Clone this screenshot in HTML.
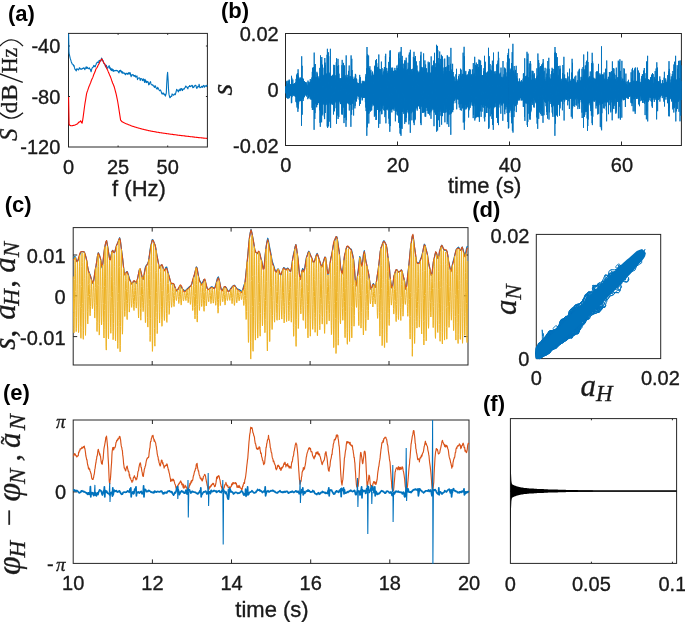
<!DOCTYPE html>
<html><head><meta charset="utf-8"><title>figure</title>
<style>
html,body{margin:0;padding:0;background:#fff;}
body{width:685px;height:628px;overflow:hidden;font-family:"Liberation Sans",sans-serif;}
svg{display:block;}
</style></head>
<body>
<svg width="685" height="628" viewBox="0 0 685 628">
<rect x="0" y="0" width="685" height="628" fill="#fff"/>
<defs><clipPath id="cpa"><rect x="67.9" y="32.8" width="140.1" height="114.8"/></clipPath><clipPath id="cpb"><rect x="284.9" y="32.9" width="397.1" height="113.2"/></clipPath><clipPath id="cpc"><rect x="72.6" y="227" width="396" height="138.6"/></clipPath><clipPath id="cpd"><rect x="535.7" y="233.8" width="125.6" height="125.4"/></clipPath><clipPath id="cpe"><rect x="72.6" y="419.4" width="397" height="144.6"/></clipPath><clipPath id="cpf"><rect x="509.8" y="418" width="167.4" height="146"/></clipPath></defs>
<rect x="68.5" y="33.4" width="138.9" height="113.6" fill="none" stroke="#262626" stroke-width="1.0"/>
<path d="M118.1 147v-1.5M118.1 33.4v1.5M167.7 147v-1.5M167.7 33.4v1.5M68.5 46h1.5M207.4 46h-1.5M68.5 96.5h1.5M207.4 96.5h-1.5" stroke="#262626" stroke-width="1.0" fill="none"/>
<g clip-path="url(#cpa)">
<path d="M68.6 33.7L69 52.9L69.5 55.1L70 57.3L70.4 58.9L70.9 60.4L71.3 61.9L71.8 63L72.2 64.1L72.7 64.3L73.1 64.5L73.6 66L74 65.4L74.5 67.7L74.9 69.2L75.4 69.5L75.8 70.3L76.3 70.9L76.7 68.8L77.2 69.2L77.6 69L78.1 69.7L78.5 69.9L79 69.1L79.4 67.7L79.9 68.2L80.3 68.9L80.8 69.3L81.2 68.9L81.7 69.3L82.1 69L82.6 68.3L83 68.5L83.5 68.2L83.9 67.7L84.4 68.5L84.8 69.7L85.3 68.3L85.7 68L86.2 66.7L86.6 68.5L87.1 67.3L87.5 67.4L88 68.4L88.4 68.6L88.9 68.6L89.3 67.8L89.8 69L90.2 69L90.7 70.5L91.1 71.8L91.6 69.7L92 68.3L92.5 67.4L92.9 67.4L93.4 66.5L93.8 65.4L94.3 66.6L94.7 65.9L95.2 66.8L95.6 65.2L96.1 64.5L96.5 62.9L97 62.7L97.4 62L97.9 62.4L98.3 62.8L98.8 61.5L99.2 60.2L99.7 61.2L100.1 60.6L100.6 61L101 60.8L101.5 58.1L101.9 58.6L102.4 60.1L102.8 60.8L103.3 60.9L103.7 63.1L104.2 63.8L104.6 64.1L105.1 65L105.5 66.6L106 66.6L106.4 65.2L106.9 68.1L107.3 67.8L107.8 68.2L108.2 66.7L108.7 66.7L109.1 65.6L109.6 68.3L110 67.2L110.5 69.6L110.9 69.2L111.4 70.6L111.8 68.6L112.3 69.3L112.7 70.9L113.2 69.6L113.6 71.4L114.1 71.1L114.5 70.5L115 70.8L115.4 70.4L115.9 70.8L116.3 70.6L116.8 70.3L117.2 71L117.7 70.9L118.1 71.3L118.6 72.4L119 72.8L119.5 70.6L119.9 71.3L120.4 70.3L120.8 70.4L121.3 72.3L121.7 71.4L122.2 73.3L122.6 71.8L123.1 73.1L123.5 73L124 72.9L124.4 73.7L124.9 73.1L125.3 74.7L125.8 74.7L126.2 73.3L126.7 73.5L127.1 73.4L127.6 74.3L128 73.3L128.5 74L128.9 72.5L129.4 74.1L129.8 72.8L130.3 72.9L130.7 75.3L131.2 76.7L131.6 74.9L132.1 74.9L132.5 74.8L133 74.5L133.4 76L133.9 75.4L134.3 75.6L134.8 76.4L135.2 75.3L135.7 77.1L136.1 77L136.6 76.5L137 75.9L137.5 79.6L137.9 78.4L138.4 78.2L138.8 77.8L139.3 77.9L139.7 78.1L140.2 80.5L140.6 78.9L141.1 78.5L141.5 78.9L142 79L142.4 80.6L142.9 80.4L143.3 78.9L143.8 79.2L144.2 81L144.7 82.5L145.1 79.4L145.6 82L146 80.7L146.5 82.6L146.9 81.5L147.4 82.2L147.8 81.4L148.3 82.4L148.7 84.9L149.2 84.6L149.6 83.2L150.1 82.2L150.5 81.6L151 83.9L151.4 84.8L151.9 84.8L152.3 85.1L152.8 84.8L153.2 85.9L153.7 85.9L154.1 86.8L154.6 87.3L155 85.7L155.5 86L155.9 87.6L156.4 88.2L156.8 88.9L157.3 89.1L157.7 87.2L158.2 88.4L158.6 89L159.1 90L159.5 90.6L160 90.6L160.4 89.9L160.9 90.8L161.3 92L161.8 93.7L162.2 93.9L162.7 93.1L163.1 94L163.6 93.1L164 94.3L164.5 94.8L164.9 94.2L165.4 96.2L165.8 94.9L166.3 93L166.7 84L167.2 75.6L167.6 72.2L168.1 79.7L168.5 88.9L169 94.4L169.4 96L169.9 97.8L170.3 97.6L170.8 96.5L171.2 96L171.7 96.4L172.1 93.9L172.6 94.8L173 94.8L173.5 95.2L173.9 95L174.4 93.9L174.8 94.1L175.3 94.6L175.7 93.2L176.2 91.5L176.6 89.4L177.1 90L177.5 90.1L178 91.3L178.4 91.9L178.9 89.9L179.3 90.7L179.8 89.9L180.2 88.7L180.7 90.7L181.1 88.8L181.6 88.6L182 89.1L182.5 90.6L182.9 89.1L183.4 88.8L183.8 89.3L184.3 89.1L184.7 87.9L185.2 87.5L185.6 86.1L186.1 86.3L186.5 87.1L187 87.3L187.4 88.1L187.9 88.8L188.3 86.7L188.8 86.8L189.2 86.5L189.7 85.6L190.1 86.5L190.6 86.6L191 85.9L191.5 86.1L191.9 85.3L192.4 85.5L192.8 87.8L193.3 87.3L193.7 87.5L194.2 86L194.6 86.2L195.1 85.2L195.5 85.3L196 85.5L196.4 87.6L196.9 88.4L197.3 87.6L197.8 86.4L198.2 86.5L198.7 86.8L199.1 84.2L199.6 86.7L200 87.7L200.5 87.5L200.9 87.5L201.4 86.5L201.8 86.3L202.3 87.1L202.7 87.4L203.2 85.7L203.6 85.4L204.1 85.9L204.5 87.2L205 86.1L205.4 85.9L205.9 85.8L206.3 86.6L206.8 85.2L207.2 85.9" fill="none" stroke="#0072BD" stroke-width="1.1" stroke-linejoin="round"/>
<path d="M68.6 97L69.1 124.2L69.6 125L70.1 125.5L70.6 125.6L71.1 125.7L71.6 125.7L72.1 125.7L72.6 125.6L73.1 125.5L73.6 125.4L74.1 125.3L74.6 125.2L75.1 125L75.6 124.8L76.1 124.6L76.6 124.3L77.1 124.1L77.6 123.7L78.1 123L78.6 122.5L79.1 122L79.6 121.9L80.1 121.8L80.6 120.8L81.1 121.4L81.6 122.7L82.1 123.1L82.6 120.6L83.1 117.4L83.6 113.6L84.1 109.7L84.6 106L85.1 102.6L85.6 99.8L86.1 96.7L86.6 93.6L87.1 91.9L87.6 90.7L88.1 89.2L88.6 87.6L89.1 86.3L89.6 85.2L90.1 83.9L90.6 82.7L91.1 81.3L91.6 79.9L92.1 78.8L92.6 77.9L93.1 76.6L93.6 75L94.1 73.8L94.6 72.7L95.1 71.6L95.6 70L96.1 68.7L96.6 68L97.1 67.6L97.6 66.6L98.1 65.3L98.6 64.4L99.1 63.7L99.6 62.4L100.1 61.3L100.6 60.6L101.1 59.8L101.6 59.1L102.1 59.1L102.6 60.5L103.1 61.6L103.6 62.4L104.1 63.1L104.6 63.7L105.1 64.8L105.6 66L106.1 67.2L106.6 68.3L107.1 69.2L107.6 70.1L108.1 71.4L108.6 72.6L109.1 73.7L109.6 74.9L110.1 76L110.6 77.2L111.1 78.7L111.6 80.2L112.1 81.5L112.6 83L113.1 84.1L113.6 85.2L114.1 86.5L114.6 88.2L115.1 90.1L115.6 92L116.1 93.8L116.6 96.2L117.1 98.6L117.6 101L118.1 104L118.6 107.2L119.1 110.3L119.6 113.6L120.1 116.9L120.6 120.2L121.1 120.7L121.6 121.3L122.1 121.7L122.6 122.1L123.1 122.3L123.6 122.5L124.1 122.8L124.6 123L125.1 123.3L125.6 123.5L126.1 123.7L126.6 123.9L127.1 124.1L127.6 124.3L128.1 124.5L128.6 124.7L129.1 124.9L129.6 125.1L130.1 125.3L130.6 125.5L131.1 125.7L131.6 125.9L132.1 126.1L132.6 126.2L133.1 126.4L133.6 126.5L134.1 126.7L134.6 126.9L135.1 127L135.6 127.2L136.1 127.3L136.6 127.5L137.1 127.7L137.6 127.8L138.1 127.9L138.6 128.1L139.1 128.2L139.6 128.3L140.1 128.5L140.6 128.6L141.1 128.7L141.6 128.9L142.1 129L142.6 129.2L143.1 129.3L143.6 129.4L144.1 129.5L144.6 129.7L145.1 129.8L145.6 129.9L146.1 130L146.6 130.1L147.1 130.2L147.6 130.3L148.1 130.5L148.6 130.6L149.1 130.7L149.6 130.8L150.1 130.9L150.6 131L151.1 131.1L151.6 131.2L152.1 131.3L152.6 131.4L153.1 131.5L153.6 131.5L154.1 131.6L154.6 131.7L155.1 131.8L155.6 131.9L156.1 132L156.6 132.1L157.1 132.2L157.6 132.3L158.1 132.3L158.6 132.4L159.1 132.5L159.6 132.6L160.1 132.7L160.6 132.7L161.1 132.8L161.6 132.9L162.1 133L162.6 133L163.1 133.1L163.6 133.2L164.1 133.2L164.6 133.3L165.1 133.4L165.6 133.5L166.1 133.5L166.6 133.6L167.1 133.7L167.6 133.8L168.1 133.8L168.6 133.9L169.1 134L169.6 134L170.1 134.1L170.6 134.2L171.1 134.2L171.6 134.3L172.1 134.4L172.6 134.4L173.1 134.5L173.6 134.6L174.1 134.6L174.6 134.7L175.1 134.8L175.6 134.8L176.1 134.9L176.6 135L177.1 135L177.6 135.1L178.1 135.2L178.6 135.2L179.1 135.3L179.6 135.4L180.1 135.4L180.6 135.5L181.1 135.5L181.6 135.6L182.1 135.6L182.6 135.7L183.1 135.8L183.6 135.8L184.1 135.9L184.6 135.9L185.1 136L185.6 136.1L186.1 136.1L186.6 136.2L187.1 136.2L187.6 136.3L188.1 136.4L188.6 136.4L189.1 136.5L189.6 136.5L190.1 136.6L190.6 136.7L191.1 136.7L191.6 136.8L192.1 136.8L192.6 136.9L193.1 136.9L193.6 137L194.1 137.1L194.6 137.1L195.1 137.2L195.6 137.2L196.1 137.3L196.6 137.4L197.1 137.4L197.6 137.5L198.1 137.5L198.6 137.6L199.1 137.6L199.6 137.7L200.1 137.7L200.6 137.8L201.1 137.8L201.6 137.9L202.1 137.9L202.6 138L203.1 138L203.6 138.1L204.1 138.1L204.6 138.2L205.1 138.2L205.6 138.3L206.1 138.3L206.6 138.4L207.1 138.4" fill="none" stroke="#FF0000" stroke-width="1.1" stroke-linejoin="round"/>
</g>
<rect x="285.5" y="33.5" width="395.9" height="112" fill="none" stroke="#262626" stroke-width="1.0"/>
<path d="M397.5 145.5v-4M397.5 33.5v4M509.5 145.5v-4M509.5 33.5v4M621.5 145.5v-4M621.5 33.5v4M285.5 89.5h4M681.4 89.5h-4" stroke="#262626" stroke-width="1.0" fill="none"/>
<g clip-path="url(#cpb)">
<path d="M285.6 86.3L285.8 93.4L285.9 86.8L286.1 92.7L286.3 86.1L286.4 97.7L286.6 81.4L286.7 93.1L286.9 85.3L287 96.4L287.2 80.7L287.4 98.1L287.5 83.6L287.7 98.6L287.9 84.8L288 94.9L288.2 86.3L288.4 94.5L288.6 80.7L288.7 98.5L288.9 83.8L289 96.7L289.2 79.6L289.4 97.9L289.5 80.6L289.7 96.6L289.9 84.7L290 94.8L290.2 84.4L290.4 95.4L290.5 85.8L290.7 95.7L290.9 84L291 95.7L291.2 84.2L291.4 103.2L291.5 75.8L291.7 102.8L291.8 77.8L292 97.1L292.2 84.3L292.4 95.3L292.5 84.3L292.7 95.1L292.8 79.5L293 95.4L293.2 84.9L293.3 94.4L293.5 83.8L293.7 95.7L293.8 84.1L294 94.4L294.1 85.4L294.3 96.2L294.5 83.2L294.7 95L294.8 83.7L295 94.5L295.1 84L295.3 96.5L295.5 83.9L295.6 97L295.8 82.1L296 102.1L296.1 78.9L296.3 101.1L296.5 75.2L296.6 102.5L296.8 82.4L297 107.5L297.1 74L297.3 105.3L297.4 73.1L297.6 102.9L297.8 73.4L297.9 111.8L298.1 69.3L298.3 108.6L298.4 75.8L298.6 104.3L298.8 77.9L298.9 102.1L299.1 79.6L299.3 99.9L299.4 79.2L299.6 100.9L299.8 81.2L299.9 99.9L300.1 77.4L300.2 100.8L300.4 77.9L300.6 99L300.7 78.7L300.9 101.1L301.1 80.4L301.2 101.1L301.4 79.6L301.5 125.8L301.7 56.3L301.9 99.1L302.1 65.8L302.2 114.7L302.4 79.5L302.5 98.3L302.7 78L302.9 98.8L303.1 80.4L303.2 100.9L303.4 78.9L303.5 99L303.7 83L303.9 97.6L304 81.6L304.2 96.9L304.4 81.1L304.5 96.7L304.7 82.7L304.8 95.6L305 83.7L305.2 95.5L305.4 82.1L305.5 94.4L305.7 82.5L305.8 94.2L306 85.3L306.2 94L306.3 82.4L306.5 96.5L306.7 84.6L306.8 93.9L307 84.6L307.2 94.7L307.3 85.8L307.5 94.3L307.6 85.9L307.8 99.2L308 80.6L308.1 95L308.3 81.9L308.5 98.1L308.6 85.6L308.8 97.8L309 82.4L309.1 95.2L309.3 84.9L309.4 95.7L309.6 83.5L309.8 96.7L310 81.8L310.1 99.1L310.3 79.1L310.4 97.1L310.6 82L310.8 98.4L310.9 81.7L311.1 99.9L311.3 81.9L311.4 98.9L311.6 79.9L311.7 99.2L311.9 77.5L312.1 107.8L312.3 71.8L312.4 110L312.6 67.7L312.8 100.5L312.9 75.9L313.1 104.5L313.3 78.4L313.4 100.8L313.6 67.2L313.7 109.8L313.9 69.6L314.1 129.8L314.2 52.6L314.4 105L314.6 75L314.8 119L314.9 64.2L315 113.1L315.2 64L315.4 104.1L315.6 77L315.7 102.5L315.9 77.3L316 99.4L316.2 79.7L316.4 107L316.6 77L316.7 107.3L316.9 71.8L317 104.8L317.2 73.3L317.4 105L317.5 74.9L317.7 104.6L317.9 78L318 103.1L318.2 76.4L318.4 103L318.5 79.9L318.7 99.8L318.9 78.6L319 101.4L319.2 78.9L319.3 102.9L319.5 78.8L319.7 110.3L319.8 67.9L320 122.8L320.2 75.8L320.3 126.8L320.5 55.4L320.6 113.3L320.8 74.9L321 103L321.2 76.5L321.3 101.6L321.5 60.5L321.6 122.3L321.8 57L322 115.6L322.1 75.5L322.3 104.2L322.5 64.7L322.7 114.5L322.8 74.6L323 102.8L323.1 78.2L323.3 100.7L323.5 75.4L323.6 104.5L323.8 76.5L323.9 102.1L324.1 67.7L324.3 116.6L324.5 63.1L324.6 119.1L324.8 58L324.9 104.6L325.1 62.6L325.3 113L325.4 65.3L325.6 105.4L325.8 73.3L325.9 101.8L326.1 78L326.3 104.7L326.4 73.7L326.6 101.6L326.8 74.8L326.9 102.8L327.1 54.8L327.2 126.5L327.4 48.8L327.6 127.9L327.8 76.5L327.9 103.8L328.1 77.5L328.2 103.3L328.4 52.3L328.6 126.4L328.7 56.2L328.9 103.1L329.1 74.3L329.2 121.7L329.4 74.9L329.5 101.5L329.7 72.7L329.9 102.4L330.1 76.3L330.2 104.3L330.4 48.8L330.6 127.9L330.7 75.9L330.9 104.7L331.1 76L331.2 102.6L331.4 76.4L331.5 103L331.7 77.2L331.9 104L332 76.2L332.2 102.8L332.3 75.3L332.5 104.7L332.7 75.9L332.9 101.9L333 74.7L333.2 100.5L333.3 75.6L333.5 114.5L333.7 64.8L333.8 103.9L334 76.7L334.2 104.4L334.3 68L334.5 111.3L334.7 65.1L334.8 103.2L335 79.8L335.2 102.1L335.3 75.3L335.5 100.6L335.7 79.6L335.8 100.9L336 78.5L336.1 108.2L336.3 62.3L336.5 123.8L336.6 58.2L336.8 102.4L337 79.6L337.1 99.8L337.3 75.5L337.5 101.1L337.6 66L337.8 115.6L338 58.9L338.1 119L338.3 72L338.4 111.1L338.6 65.2L338.8 117L339 73.7L339.1 100.2L339.3 78.9L339.5 101.4L339.6 78.9L339.7 100.8L339.9 78L340.1 102.5L340.3 80.2L340.4 104.1L340.6 78.3L340.8 103.8L340.9 80.3L341.1 99.6L341.2 79.7L341.4 103.9L341.6 78.1L341.7 114.4L341.9 65.2L342.1 112.6L342.2 59.9L342.4 114.6L342.6 77.5L342.7 103.7L342.9 79.3L343.1 104.7L343.2 77.2L343.4 101.9L343.5 62.9L343.7 107.6L343.9 75.7L344 123.1L344.2 68.8L344.4 118L344.6 65.4L344.7 104.8L344.9 76.3L345 102.5L345.2 75.2L345.4 117.4L345.5 78.5L345.7 105.6L345.9 79.3L346 126.8L346.2 55.4L346.3 120.2L346.5 76.9L346.7 103.2L346.9 77.4L347 103.6L347.2 74.8L347.4 100.7L347.5 78.6L347.7 102.8L347.8 77.9L348 101.2L348.2 77.5L348.3 103L348.5 70.9L348.7 104.2L348.8 76L349 101.2L349.2 65.5L349.3 110.5L349.5 79.2L349.7 104.4L349.8 78.7L350 103.1L350.1 76.4L350.3 104.4L350.5 76.4L350.6 104.8L350.8 79.5L350.9 126.8L351.1 55.4L351.3 102.8L351.5 64L351.6 114.7L351.8 58.8L351.9 109.8L352.1 70L352.3 103.3L352.4 77.8L352.6 103.7L352.8 76.7L353 101.5L353.1 78.9L353.3 99.9L353.5 79.5L353.6 115.5L353.8 79.6L353.9 99L354.1 79.5L354.3 98.4L354.4 78.3L354.6 99.7L354.8 81.9L354.9 108.4L355.1 76.6L355.2 105.8L355.4 73.9L355.6 101L355.7 74.7L355.9 98.2L356.1 82.5L356.2 97.7L356.4 78.5L356.5 101.5L356.7 79.3L356.9 98.7L357.1 83.3L357.2 95.9L357.4 82.6L357.6 95.4L357.7 84.3L357.9 95.5L358.1 83L358.2 96.7L358.4 83.6L358.5 95.5L358.7 83.4L358.9 96.7L359 84.3L359.2 99.7L359.4 79.3L359.5 105.8L359.7 74.9L359.9 101.4L360 84.2L360.2 95.9L360.4 77.2L360.5 103.8L360.7 84.2L360.8 95.2L361 83.1L361.2 97.6L361.4 84.4L361.5 96.9L361.7 84.3L361.8 96.9L362 83.9L362.2 100.4L362.3 80.8L362.5 99.4L362.6 82.8L362.8 96.5L363 82.5L363.1 97.7L363.4 82L363.5 97.5L363.7 81.2L363.8 97.8L364 80.8L364.2 97.5L364.3 82.3L364.5 97.6L364.6 81.9L364.8 96.7L364.9 84.6L365.1 95.9L365.3 83.1L365.4 102.2L365.6 76.7L365.8 107.5L366 74.3L366.1 111.1L366.3 73.9L366.5 110.6L366.6 68.3L366.8 135.8L367 47L367.1 109.2L367.3 55.8L367.4 127.3L367.6 54.3L367.8 112.8L367.9 72L368.1 108.7L368.3 71.9L368.4 114L368.6 55.5L368.8 123.5L368.9 68L369.1 113.4L369.2 68L369.4 110.4L369.6 71.1L369.8 109.9L369.9 66.2L370.1 109.8L370.2 70.9L370.4 111.6L370.6 74.6L370.7 104.8L370.9 69.8L371 110.6L371.2 75.6L371.4 103.6L371.6 76.4L371.7 110.3L371.9 75.8L372 106.4L372.2 72.6L372.4 102.6L372.6 71.5L372.7 104L372.9 73.6L373.1 104.7L373.2 75L373.4 105.1L373.5 77.1L373.7 105.4L373.9 75.1L374 105.2L374.2 75.6L374.4 116.7L374.5 66.7L374.7 114.5L374.8 65.7L375 109.7L375.2 71.5L375.3 113.6L375.5 60.6L375.7 115.7L375.9 60.3L376 120L376.2 65.2L376.3 119.7L376.5 59L376.7 108.6L376.8 63.2L377 107.4L377.2 73.1L377.3 110L377.5 67.2L377.6 105.8L377.8 71.4L378 108L378.1 73.8L378.3 109.9L378.5 66.6L378.6 127.8L378.8 54.5L379 112.2L379.2 72.4L379.3 112.2L379.5 68.8L379.6 109.9L379.8 73.3L379.9 123.8L380.1 74.2L380.3 111.2L380.4 69.2L380.6 104.8L380.8 71.7L380.9 105.4L381.1 70.4L381.3 107.6L381.4 61.6L381.6 114.2L381.8 72.5L381.9 114.1L382.1 68.1L382.3 108.7L382.5 74.7L382.6 105.5L382.8 75.4L382.9 103.9L383.1 76.3L383.3 104.5L383.4 75.7L383.6 105.6L383.7 71.4L383.9 110.1L384.1 69.2L384.2 110.4L384.4 67.1L384.6 110.8L384.7 67.5L384.9 117.1L385.1 74.1L385.2 105.3L385.4 56L385.5 114.6L385.7 53.8L385.9 123.3L386.1 73.9L386.2 109.9L386.4 73.8L386.6 109.3L386.7 67.9L386.9 107L387 70.9L387.2 104.8L387.4 74.8L387.5 109.1L387.7 72.8L387.9 110.3L388 73.7L388.2 106.1L388.4 68.6L388.5 107.4L388.7 61.9L388.8 118.6L389 68.4L389.2 123.9L389.3 64.6L389.5 119.8L389.6 57.1L389.8 131.8L390 50.7L390.2 126.1L390.3 50.4L390.5 110.4L390.6 72.1L390.8 106.9L391 71.1L391.2 106.8L391.3 67.7L391.5 110.1L391.6 73.8L391.8 112.4L392 69.6L392.1 108.7L392.3 73.4L392.5 108.6L392.6 67.6L392.8 109.3L393 71.4L393.1 109.3L393.3 70.8L393.5 109.2L393.6 73.6L393.8 105.6L393.9 75L394.1 110.8L394.3 75L394.4 106.5L394.6 70.5L394.8 108.5L394.9 67.9L395.1 106.5L395.3 73.7L395.4 121.3L395.6 70.4L395.8 107.7L395.9 70.5L396.1 111.2L396.3 71.2L396.4 111.4L396.6 73.4L396.8 110.8L396.9 65.6L397.1 114.5L397.2 68L397.4 115.4L397.6 70.6L397.7 109.7L397.9 68.4L398.1 111.9L398.2 64.7L398.4 111.7L398.6 53.9L398.7 122.8L398.9 52.4L399.1 116.3L399.2 69.5L399.4 122.1L399.5 70L399.7 127.9L399.9 58.3L400.1 133.4L400.2 51.7L400.4 134.1L400.5 64L400.7 109.6L400.9 67L401 135.8L401.2 47L401.4 112L401.5 68.4L401.7 127.8L401.9 60L402 129L402.2 55.9L402.4 112L402.5 66.9L402.7 110.2L402.8 69.4L403 108.2L403.2 63.7L403.3 107.8L403.5 71L403.7 113.8L403.8 68.4L404 111.6L404.2 70.1L404.3 108.2L404.5 61.8L404.7 123.9L404.8 60.2L405 112.6L405.1 71L405.3 113.9L405.5 65.8L405.6 121.6L405.8 60.6L406 122.2L406.2 57.7L406.3 117.8L406.5 70L406.6 111.4L406.8 74.1L407 109.4L407.1 71.1L407.3 108.3L407.5 70.3L407.6 110L407.8 68.9L407.9 112.3L408.1 62.7L408.3 113.4L408.4 68.8L408.6 107.8L408.8 67.6L408.9 124.4L409.1 54.7L409.3 120.5L409.4 52.5L409.6 119.4L409.8 68.3L409.9 109.5L410.1 69.4L410.3 132.8L410.4 49.8L410.6 106.4L410.7 70.6L410.9 111.1L411.1 71.9L411.2 113.3L411.4 69.5L411.6 109.1L411.7 73.2L411.9 120.3L412.1 69L412.2 108L412.4 73.6L412.6 110.3L412.7 71.6L412.9 112.3L413 68.6L413.2 111.2L413.4 56.9L413.6 122.6L413.7 59.1L413.9 109.8L414 51.8L414.2 125.1L414.4 72.8L414.6 105.9L414.7 57.8L414.9 120.2L415 58.6L415.2 119.2L415.4 56L415.5 107.6L415.7 73.8L415.9 109.3L416 74L416.2 107.9L416.4 61.4L416.5 106.9L416.7 70.2L416.8 105.3L417 65.5L417.2 110.6L417.3 76.3L417.5 108.7L417.7 70.7L417.8 104.8L418 72.7L418.2 103.7L418.3 72.6L418.5 106.1L418.7 73.8L418.8 106.3L419 71.5L419.1 103.2L419.3 74L419.5 106.5L419.7 72L419.8 108.7L420 61L420.1 109L420.3 70L420.5 123.1L420.6 55.5L420.8 106.9L421 51.8L421.1 125.1L421.3 67.2L421.5 105.3L421.6 66.9L421.8 105.5L422 73.6L422.1 107L422.3 71.9L422.5 112.3L422.6 67.4L422.8 113L422.9 71L423.1 105.6L423.3 69.1L423.4 112.6L423.6 53.4L423.8 112L423.9 74.3L424.1 111.1L424.3 70.5L424.4 112.3L424.6 67.6L424.8 105.4L424.9 60.4L425.1 116.6L425.2 71.3L425.4 105.3L425.6 64.5L425.7 116.7L425.9 75L426.1 108L426.2 68.5L426.4 104.8L426.6 68.4L426.7 107.7L426.9 74L427.1 111L427.2 72.3L427.4 107L427.6 73.2L427.7 110L427.9 75L428.1 113.5L428.2 61.7L428.4 113.7L428.6 63.2L428.7 112.8L428.9 71.7L429 109.9L429.2 63.9L429.4 113.4L429.5 62.4L429.7 115.3L429.8 73.4L430 105.9L430.2 72.6L430.3 110L430.5 73.8L430.7 112.4L430.8 72.9L431 118.8L431.2 56.4L431.3 108.5L431.5 71.1L431.7 111.2L431.8 66.5L432 108L432.2 66.8L432.3 108.8L432.5 69.8L432.7 107.6L432.8 65.2L433 110L433.2 66.6L433.3 107.2L433.5 60.7L433.6 109.2L433.8 68.2L434 126.2L434.2 70.5L434.3 112.4L434.5 52.8L434.6 109.3L434.8 67.4L435 109.7L435.1 70.3L435.3 112.7L435.4 67.2L435.6 114.3L435.8 63.3L435.9 115L436.1 68.1L436.3 113L436.5 44.8L436.6 131.7L436.8 64.6L436.9 122.6L437.1 46.1L437.3 125.2L437.4 45.9L437.6 130.5L437.8 50.2L437.9 110.4L438.1 62.5L438.3 110.5L438.4 70.4L438.6 120.2L438.8 58.1L438.9 112L439.1 63.6L439.3 111.7L439.4 64.1L439.6 127L439.7 51.5L439.9 108.8L440.1 65.3L440.2 111.7L440.4 66.4L440.6 109.4L440.7 58.9L440.9 115.7L441.1 72.1L441.2 109.5L441.4 54.8L441.6 124.7L441.7 55.9L441.9 108.2L442 59L442.2 116.2L442.4 56.4L442.5 116L442.7 59.2L442.9 109L443 71.2L443.2 106.1L443.4 73.8L443.5 111.4L443.7 74.4L443.9 112.9L444 67.5L444.2 112.8L444.3 68.4L444.5 105.1L444.7 58.6L444.9 122.3L445 73L445.2 105.7L445.4 67.1L445.5 112.5L445.7 68.1L445.8 107.5L446 67.2L446.2 112.3L446.3 71.2L446.5 106.9L446.7 72.5L446.8 109.5L447 66.4L447.2 124.2L447.3 55.3L447.5 121.6L447.6 56.1L447.8 116.5L448 67.1L448.1 109.8L448.3 66.9L448.5 114.4L448.6 65.1L448.8 126.9L449 56.9L449.1 109.9L449.3 71.1L449.5 109.8L449.6 71L449.8 114.6L450 71.7L450.1 109.1L450.3 65.2L450.4 114.2L450.6 63.8L450.8 134.8L450.9 47.9L451.1 113.7L451.3 70.7L451.4 112.8L451.6 73.4L451.8 106L451.9 69.4L452.1 110.5L452.3 70.6L452.4 108.3L452.6 63.8L452.7 112.2L452.9 76.2L453.1 110L453.2 72L453.4 103.2L453.6 77.3L453.8 103.3L453.9 76.3L454.1 100.6L454.2 77.3L454.4 100.7L454.6 83.2L454.7 98.2L454.9 81.4L455.1 99.6L455.2 81.4L455.4 98.2L455.6 81.8L455.7 98.1L455.9 74.3L456.1 103.2L456.2 78.9L456.4 100.3L456.5 68.8L456.7 109.3L456.9 78.9L457 97.6L457.2 80.4L457.4 98.9L457.5 81.3L457.7 98.3L457.8 82L458 99.8L458.2 81.4L458.4 99.2L458.5 76.1L458.7 99.3L458.9 80.2L459 104.3L459.2 74.2L459.3 107.6L459.5 79.8L459.7 102L459.8 78.5L460 102.1L460.2 77.8L460.3 110L460.5 68.7L460.7 104.2L460.8 73.6L461 102.7L461.2 69.7L461.3 110.7L461.5 76.2L461.6 103.8L461.8 76.5L462 103.9L462.1 75.3L462.3 108.2L462.5 73.9L462.6 108.3L462.8 76.3L463 104.4L463.1 52.7L463.3 122.5L463.5 75.7L463.6 107.2L463.8 74L463.9 105L464.1 46.8L464.3 129.8L464.4 56.3L464.6 121.4L464.8 72.9L464.9 109.4L465.1 75.7L465.3 104.9L465.4 72.5L465.6 103.4L465.8 70.9L465.9 109.4L466.1 74.7L466.3 107.7L466.4 75.5L466.6 108.5L466.7 76L466.9 102.1L467.1 77.3L467.2 104.6L467.4 77.8L467.6 107.3L467.7 74.5L467.9 104.5L468.1 74.9L468.2 103.4L468.4 73.8L468.6 117.5L468.7 71.7L468.9 110.4L469.1 71.4L469.2 109.3L469.4 69.1L469.6 100.7L469.7 74.3L469.9 101.7L470.1 76.5L470.2 107.8L470.4 69.6L470.5 103.7L470.7 78.9L470.9 105.6L471 78.4L471.2 101.8L471.4 75.1L471.5 102.3L471.7 74.2L471.9 101.9L472 77.2L472.2 104.5L472.4 69.4L472.5 105.7L472.7 77.2L472.8 103.8L473 76.4L473.2 118.1L473.3 63.1L473.5 114.8L473.7 74.6L473.8 101.9L474 76.9L474.2 102.9L474.3 73.3L474.5 103.5L474.7 56.8L474.8 120.5L475 76.5L475.1 106.2L475.3 77.1L475.5 118.3L475.6 64.8L475.8 104.6L476 76.8L476.2 105.3L476.3 62.6L476.5 117.4L476.6 66.1L476.8 103.8L477 75.3L477.1 102.6L477.3 76.4L477.5 116.5L477.6 64.1L477.8 117.1L477.9 68.9L478.1 105.1L478.3 76.7L478.5 116.6L478.6 67L478.7 111.8L478.9 59.5L479.1 117.4L479.3 69.7L479.4 121.8L479.6 60L479.8 105.6L479.9 77L480.1 102.5L480.3 75.8L480.4 111.4L480.6 60.6L480.7 103.1L480.9 75.4L481.1 116.9L481.3 65.1L481.4 104.9L481.6 75.5L481.7 104.5L481.9 75.9L482.1 111.7L482.2 76.3L482.4 107.2L482.6 75.1L482.7 102.1L482.9 75.6L483 101.4L483.2 76.1L483.4 105L483.6 71L483.7 107.7L483.9 68.2L484.1 103.5L484.2 77.1L484.3 118.4L484.5 55.8L484.7 121.4L484.9 61.5L485.1 116.9L485.2 62.2L485.4 103.3L485.5 73.4L485.7 106L485.9 72.9L486 102L486.2 72.5L486.4 113L486.5 76.4L486.7 105.8L486.9 77L487 113L487.2 72.9L487.3 107.1L487.5 71.6L487.7 104.4L487.8 76.2L488 108.1L488.2 76.7L488.3 104.4L488.5 47.8L488.7 128.9L488.8 57.1L489 127.7L489.2 56.1L489.3 108.4L489.5 71.7L489.6 108.5L489.8 75.2L490 104.9L490.1 64L490.3 116.3L490.4 69.5L490.6 107.5L490.8 75.4L491 103L491.1 72.6L491.3 106.6L491.5 70.5L491.6 114.1L491.8 71.2L491.9 118.9L492.1 65.4L492.3 114.3L492.4 60.7L492.6 125L492.8 63.5L492.9 103.3L493.1 75.5L493.3 129.8L493.5 52.6L493.6 108.7L493.8 74L493.9 103.8L494.1 74.9L494.2 107.4L494.4 74L494.6 106.7L494.7 71.8L494.9 107.2L495.1 71.1L495.3 103.3L495.4 74.9L495.6 102.9L495.7 73.5L495.9 106.7L496.1 75.3L496.2 102.9L496.4 74L496.5 117.8L496.7 64.4L496.9 105L497 71L497.2 104.8L497.4 72.6L497.5 122.8L497.7 63.4L497.9 119.4L498 60.6L498.2 122.4L498.4 51.8L498.5 125.1L498.7 57.8L498.9 107.5L499 76L499.2 104.5L499.4 74.4L499.5 102.7L499.7 75.5L499.8 103.2L500 73.4L500.2 101.8L500.4 72.7L500.5 102.4L500.7 76.7L500.8 113.7L501 67.6L501.2 105.4L501.3 78.6L501.5 103.5L501.7 76.9L501.8 103.8L502 77.4L502.2 105.5L502.3 78.1L502.5 104.7L502.7 77.9L502.8 120.8L503 61L503.1 103L503.3 76.7L503.5 103.4L503.6 79.1L503.8 100.4L504 74.3L504.1 101.5L504.3 77.5L504.5 111.9L504.6 67.6L504.8 114.2L505 68.2L505.1 102.3L505.3 77L505.4 105.8L505.6 69.1L505.8 109.4L505.9 76.6L506.1 107L506.3 77.4L506.4 104.8L506.6 76.7L506.8 102L507 72.4L507.1 113.1L507.3 62.3L507.4 107.6L507.6 55L507.8 122L507.9 70.9L508.1 103.9L508.2 53L508.4 128.5L508.6 48.8L508.7 127.9L508.9 74.8L509.1 108.6L509.3 58.6L509.4 103.6L509.6 72.5L509.7 112.6L509.9 75.3L510.1 102.8L510.2 68.6L510.4 107L510.6 72.4L510.7 110.6L510.9 70L511 108.8L511.2 76.9L511.4 117.1L511.5 63L511.7 123.3L511.9 65.6L512 119.6L512.2 52.1L512.4 130.7L512.5 72.4L512.7 104.7L512.9 43.8L513 132.6L513.2 71.8L513.4 104.4L513.5 70.5L513.7 103.7L513.8 72L514 117.1L514.2 66L514.3 110.7L514.5 73.9L514.6 105.2L514.8 76.8L515 105.6L515.2 70.5L515.3 106.2L515.5 69.9L515.7 104L515.8 76.1L516 101.4L516.2 65.8L516.3 112.1L516.5 76.1L516.7 99.7L516.8 79.3L517 104.8L517.1 73L517.3 103.3L517.5 78.5L517.6 100.3L517.8 81.2L518 99.5L518.1 81.5L518.3 100.6L518.5 81.8L518.6 99.3L518.8 82L519 98.5L519.1 82L519.3 96.8L519.4 78.5L519.6 100.4L519.8 81.5L520 98.3L520.1 81.7L520.3 97.2L520.4 82.4L520.6 98.1L520.8 82.8L520.9 98L521.1 81.6L521.2 100.5L521.4 80.1L521.6 100.2L521.8 83.1L521.9 96.6L522.1 82.7L522.3 99.3L522.4 81.5L522.6 100.4L522.7 82.1L522.9 98.1L523.1 78.6L523.3 106.8L523.4 73.7L523.6 106.2L523.7 73.3L523.9 107L524.1 79.5L524.2 103L524.4 78.2L524.5 116.8L524.7 58.3L524.9 120.9L525.1 78.4L525.2 102L525.4 76.6L525.5 102.7L525.7 76.2L525.9 103.6L526 78.2L526.2 100.1L526.4 75.6L526.5 103.4L526.7 76.4L526.9 102.9L527 51.8L527.2 125.1L527.4 59L527.5 127L527.7 67.4L527.8 121.9L528 53.6L528.2 113.7L528.4 78L528.5 100.5L528.7 77.2L528.8 103.7L529 78.2L529.2 104.8L529.3 63.5L529.5 117.5L529.7 71.9L529.8 119.4L530 78.8L530.2 119.6L530.3 61L530.5 115.9L530.7 63.7L530.8 112.2L531 70.7L531.1 110.6L531.3 79.8L531.5 98.8L531.6 80.6L531.8 101.7L532 79.9L532.2 105L532.3 74.7L532.5 101L532.6 70.8L532.8 103.4L533 71.1L533.1 98.2L533.3 79.5L533.4 97.6L533.6 79.7L533.8 106.8L533.9 74.6L534.1 107.7L534.3 73.3L534.4 100.3L534.6 78L534.8 99.3L535 80.9L535.1 98.7L535.3 78.4L535.4 102.4L535.6 81L535.8 100.2L535.9 80L536.1 103.4L536.3 79.9L536.4 99.5L536.6 76.6L536.7 117.4L536.9 68.3L537.1 123.7L537.2 78L537.4 102.2L537.6 75.5L537.7 128.8L537.9 53.5L538.1 111.3L538.2 76.2L538.4 109.9L538.6 60L538.7 118.8L538.9 62.9L539.1 103.3L539.2 67.3L539.4 112.5L539.6 74L539.7 99.7L539.9 77.8L540 110L540.2 72.1L540.4 107.7L540.5 66.1L540.7 113.9L540.9 67L541 101L541.2 76.8L541.3 115.6L541.5 65.5L541.7 111.2L541.9 64.2L542 102.7L542.2 77.5L542.3 100L542.5 65.5L542.7 115.9L542.8 62.8L543 122.8L543.2 59.1L543.3 98.9L543.5 81L543.7 99.7L543.8 71.7L544 115.2L544.2 70.8L544.3 100.3L544.5 80L544.7 101.8L544.8 79.1L545 98.6L545.1 67.8L545.3 102.5L545.5 81.1L545.6 102.5L545.8 81L546 106.2L546.2 77.3L546.3 102.3L546.4 80.7L546.6 111.9L546.8 73.5L547 115L547.1 68.6L547.3 108.8L547.5 71.5L547.6 118.6L547.8 61L547.9 100.9L548.1 79L548.3 101.4L548.4 80.8L548.6 98.4L548.8 57.8L549 119.6L549.1 68.8L549.3 112.4L549.4 77.4L549.6 98.5L549.8 80L549.9 99.8L550.1 79.3L550.2 101.9L550.4 79L550.6 99.4L550.7 78.6L550.9 104L551.1 74.1L551.2 103.7L551.4 75.2L551.6 106.4L551.7 71.2L551.9 107.2L552.1 67.8L552.2 112.6L552.4 79.3L552.5 114.2L552.7 69L552.9 116.9L553.1 68.9L553.2 101L553.4 73.8L553.5 105.5L553.7 73L553.9 103.8L554 73.1L554.2 106.5L554.4 74.9L554.5 116.6L554.7 52.9L554.9 135.8L555 47L555.2 113.2L555.4 51.9L555.5 123.7L555.7 55.4L555.8 106.8L556 73.3L556.2 102L556.4 53.2L556.5 115.4L556.7 74.1L556.8 101.1L557 63.4L557.2 101.4L557.3 57.2L557.5 116.6L557.7 78.9L557.8 104.6L558 77.1L558.2 104.9L558.3 75.5L558.5 99.9L558.7 66L558.8 103.4L559 79.2L559.2 102.2L559.3 75.1L559.5 115.7L559.6 69.5L559.8 106.4L560 65.7L560.1 108.4L560.3 68.7L560.4 100L560.6 78.8L560.8 101.8L560.9 79.3L561.1 101.3L561.3 81.3L561.4 100.4L561.6 81.2L561.8 101.3L561.9 79.4L562.1 98.4L562.3 78.3L562.4 110.3L562.6 73L562.8 104.3L562.9 65L563.1 100.2L563.3 77.9L563.4 98.4L563.6 78.7L563.8 99.6L563.9 56.8L564.1 120.5L564.3 78.2L564.4 101.7L564.6 74.5L564.7 101.2L564.9 81.5L565.1 97.6L565.2 81L565.4 98.4L565.6 79.5L565.7 99.2L565.9 78L566 99.8L566.2 79.4L566.4 99L566.6 80.7L566.7 99.6L566.9 82.1L567 99.9L567.2 82.6L567.4 96.6L567.6 72.5L567.7 105.3L567.9 82L568 98.2L568.2 82.7L568.4 98L568.6 81.7L568.7 101.2L568.9 76.5L569 98.5L569.2 82.1L569.4 109L569.5 68.7L569.7 97.3L569.8 79L570 98.9L570.2 81.8L570.4 98.6L570.5 81L570.7 97.8L570.8 80.6L571 98.4L571.2 80.9L571.3 116.7L571.5 72.6L571.7 98L571.8 81L572 99.1L572.1 58.8L572.3 118.6L572.5 62.8L572.6 108.4L572.8 79.9L573 100.9L573.2 78.8L573.3 106.2L573.5 78.9L573.6 98.9L573.8 79.4L574 99.2L574.1 79.7L574.3 99.8L574.5 82.4L574.7 106.7L574.8 76.7L575 105.1L575.1 80.9L575.3 99.4L575.4 83L575.6 98.6L575.8 75.6L575.9 96.4L576.1 82.3L576.3 98.2L576.4 83.2L576.6 105.5L576.8 83.4L576.9 96.8L577.1 82.5L577.3 96.3L577.4 80.5L577.6 99.3L577.7 80.5L577.9 109.1L578.1 71.5L578.2 103.5L578.4 82.1L578.6 99L578.7 82.6L578.9 100.5L579.1 69.8L579.2 107L579.4 68.8L579.6 108.9L579.7 81.8L579.9 99.4L580.1 81.2L580.2 98.1L580.4 81.6L580.5 99.8L580.7 80.3L580.9 99.8L581.1 76.8L581.2 102.3L581.4 77.6L581.5 100L581.7 77.1L581.9 112.6L582 68.8L582.2 118L582.4 79.2L582.5 101.5L582.7 78.8L582.9 103.9L583 67L583.2 103L583.4 75.4L583.5 127.8L583.7 54.5L583.8 101.3L584 75.3L584.2 99.9L584.3 78.8L584.5 116.8L584.7 69.4L584.8 114.9L585 71.2L585.2 112.2L585.3 65.6L585.5 111.2L585.7 65.6L585.8 100.1L586 75.8L586.1 100.4L586.3 62L586.5 111.8L586.6 60.7L586.8 102.9L587 79.4L587.1 118.4L587.3 79.6L587.5 130.8L587.6 51.7L587.8 126L588 62L588.1 119.5L588.3 79.8L588.4 103.2L588.6 77.7L588.8 103.6L589 77.5L589.1 101.8L589.3 79.7L589.4 99.9L589.6 76.3L589.8 103.1L590 79L590.1 105.3L590.3 71.5L590.5 108.2L590.6 80.1L590.8 111.1L591 76.6L591.1 103.1L591.3 79.3L591.4 115.6L591.6 63.1L591.8 99.1L591.9 76.3L592.1 123.2L592.2 52.8L592.4 125.1L592.6 61.4L592.8 116.7L592.9 63.3L593.1 101.2L593.2 77.8L593.4 98.7L593.6 81L593.7 99.7L593.9 77.8L594.1 101.8L594.2 78.8L594.4 100.2L594.6 81.7L594.7 101.4L594.9 79.4L595.1 100L595.2 78.7L595.4 98.5L595.5 79.6L595.7 100.3L595.9 78.9L596 108.5L596.2 72.1L596.4 105.7L596.5 72.5L596.7 102.8L596.8 71.4L597 105.3L597.2 71.2L597.4 102.7L597.5 77.9L597.7 114.5L597.8 72.3L598 102.7L598.2 79.4L598.3 106.9L598.5 63.9L598.7 113.8L598.8 78.9L599 103.2L599.2 75.2L599.3 102.4L599.5 78.5L599.7 103.2L599.8 73.4L600 105.2L600.1 77.4L600.3 126.9L600.5 74.7L600.6 102.7L600.8 77L601 102L601.2 76.4L601.3 128.6L601.5 46.3L601.6 130.3L601.8 74.9L601.9 113.2L602.1 74.2L602.3 103.6L602.5 74.8L602.6 103.9L602.8 76.9L602.9 102.8L603.1 76.6L603.3 108.2L603.5 74.5L603.6 100.4L603.8 79.3L603.9 101.8L604.1 72.5L604.3 108.5L604.4 79.4L604.6 100L604.8 80.8L604.9 102.4L605.1 78.5L605.3 102.3L605.4 78.7L605.6 100.4L605.7 68.7L605.9 106.3L606.1 69L606.3 110.4L606.4 79.1L606.6 121.3L606.7 60.5L606.9 101.9L607.1 78.9L607.2 102.1L607.4 80.9L607.6 98.4L607.7 80.8L607.9 100.4L608.1 79.5L608.2 102.7L608.4 76.8L608.5 114.2L608.7 77.5L608.9 100.6L609.1 77.5L609.2 105.1L609.4 72L609.5 98.3L609.7 72.6L609.9 99.8L610 80.2L610.2 99.6L610.3 79.5L610.5 111.1L610.7 72.3L610.8 112.4L611.1 77.8L611.2 102.4L611.4 71.1L611.5 99.3L611.7 78.9L611.8 100L612 80.5L612.2 120.3L612.4 61.4L612.5 111.5L612.7 73.6L612.8 100.2L613 80L613.2 108.1L613.3 68.1L613.5 101.7L613.7 79.5L613.8 109L614 68.6L614.2 105.9L614.3 81.5L614.5 99.2L614.6 73.6L614.8 103.6L615 78.8L615.1 98.5L615.3 81.4L615.5 98.2L615.6 79.4L615.8 113.7L616 75L616.1 112.6L616.3 67.7L616.5 110.4L616.6 81.6L616.8 99.8L617 80.6L617.1 100.2L617.3 80.9L617.4 98.7L617.6 77.3L617.8 102L617.9 80.9L618.1 101.8L618.3 60.7L618.4 118.3L618.6 77L618.8 102.4L618.9 79.2L619.1 101.4L619.3 61.8L619.4 106.7L619.6 70.8L619.7 99.2L619.9 59.3L620.1 118.2L620.3 78.8L620.4 119.7L620.6 70.9L620.7 101.8L620.9 77.2L621.1 101.5L621.2 80.9L621.4 98.8L621.6 81.1L621.8 117.7L621.9 60.8L622.1 98.6L622.2 79.7L622.4 98.1L622.6 78.9L622.7 98.2L622.9 78.6L623.1 100.1L623.2 81.3L623.4 100.2L623.5 80.8L623.7 99.3L623.9 68.2L624.1 98.1L624.2 81.1L624.3 99.7L624.5 69.1L624.7 99.6L624.8 81.1L625 99.4L625.2 82.9L625.4 107L625.5 83.5L625.7 98.6L625.9 73.6L626 96.7L626.2 81.8L626.3 98L626.5 84L626.7 96.8L626.8 84.6L627 96.5L627.2 84.7L627.3 96.3L627.5 85L627.7 98.1L627.8 81.4L628 98.8L628.2 81.7L628.3 98.9L628.5 79.8L628.6 96.5L628.8 84.9L629 95.7L629.1 83L629.3 96.7L629.5 83.8L629.6 96.4L629.8 82.3L630 96.6L630.1 83.9L630.3 95.8L630.5 84L630.6 95.3L630.8 82.2L631 102.6L631.1 72.3L631.3 103.2L631.4 82L631.6 97.6L631.8 78.4L632 106.1L632.1 69.3L632.3 103.4L632.5 67.9L632.6 99.1L632.8 80.5L632.9 98.7L633.1 70.4L633.2 111.4L633.4 82.9L633.6 98.9L633.8 80.9L633.9 99.3L634.1 82.8L634.2 96.9L634.4 80.9L634.6 99L634.7 68.5L634.9 111.4L635.1 82L635.2 113.8L635.4 67.5L635.6 96.9L635.7 82.4L635.9 96.6L636.1 82.6L636.2 96.6L636.4 81.9L636.6 99L636.7 80.9L636.9 98.5L637 81.6L637.2 97L637.4 67.6L637.5 96.9L637.7 80.2L637.9 98.9L638 81.6L638.2 98.1L638.4 70.5L638.6 104.4L638.7 82.9L638.9 98.4L639 81.8L639.2 101.9L639.4 72.8L639.5 106.2L639.7 82.4L639.8 98.4L640 81.8L640.2 101.2L640.3 83.8L640.5 96.2L640.7 83.7L640.8 95.8L641 82.1L641.2 96.3L641.3 78.7L641.5 100.5L641.7 76.1L641.8 97.4L642 83.5L642.2 98.1L642.4 74.1L642.5 102.9L642.7 75.9L642.8 97.8L642.9 82.3L643.1 97.5L643.3 82.5L643.5 100.1L643.6 70.6L643.8 102.9L644 81L644.1 97.7L644.3 68L644.5 103.7L644.6 79.7L644.8 99.9L645 73.2L645.1 115.1L645.3 78.4L645.5 99.2L645.6 80.4L645.8 101L646 79.4L646.1 102.1L646.3 81.1L646.4 119.3L646.6 62.1L646.8 111.2L646.9 61.1L647.1 99.5L647.3 77.6L647.4 102.3L647.6 55.8L647.7 121.4L647.9 80.7L648.1 98.5L648.2 80.2L648.4 101.7L648.6 79.1L648.7 98.3L648.9 81.6L649.1 100.3L649.2 79.9L649.4 97.1L649.6 80.4L649.7 97.5L649.9 81.9L650.1 96.9L650.2 79.8L650.4 97.8L650.6 77.2L650.7 96.7L650.9 82.5L651 101L651.2 77.3L651.4 102L651.5 74.6L651.7 101.9L651.9 79L652 106.3L652.2 75.5L652.4 107.8L652.5 73.1L652.7 96.8L652.9 82.6L653 99.7L653.2 74.1L653.3 97.7L653.5 83.7L653.7 98.2L653.9 83.1L654 96.6L654.2 76.9L654.3 101.9L654.5 77.9L654.7 97.8L654.8 82L655 96.8L655.2 71L655.3 99.7L655.5 79.6L655.7 97.7L655.8 79.5L656 97L656.1 68.5L656.3 97.1L656.5 81L656.6 119.4L656.8 62.3L657 100.6L657.2 81.3L657.3 97.1L657.5 67.6L657.6 111.2L657.8 82.3L658 97L658.1 82.2L658.3 100L658.5 81.6L658.6 96.8L658.8 81.2L659 97.3L659.1 81.9L659.3 98.9L659.5 81.8L659.6 97.1L659.8 76.4L659.9 101.6L660.1 83.2L660.3 97.3L660.4 79.6L660.6 96.6L660.7 84.1L660.9 95.5L661.1 85.2L661.3 94.9L661.4 83.6L661.6 95.3L661.7 83.6L661.9 95.6L662.1 84.3L662.3 98.1L662.4 80.1L662.6 95.5L662.8 84.5L662.9 94.9L663.1 83.8L663.2 94.3L663.4 83.2L663.6 96.4L663.7 83.5L663.9 101.7L664.1 77.6L664.2 100.2L664.4 71.8L664.5 106.5L664.7 83.2L664.9 96.7L665 80L665.2 96.7L665.4 84.2L665.5 96.9L665.7 78.4L665.9 99.6L666 82.1L666.2 97L666.3 82.6L666.5 96.5L666.7 84.1L666.9 95.8L667 81.6L667.2 96.2L667.3 79.8L667.5 103.2L667.7 75.1L667.8 99.3L668 81.3L668.2 96.5L668.3 80.6L668.5 110.6L668.7 71.4L668.8 116.1L669 61.2L669.2 116.4L669.3 68.9L669.5 108.1L669.7 73.2L669.8 99.2L670 79.5L670.2 99.1L670.3 82.6L670.5 97.2L670.7 82.9L670.8 97L671 82.9L671.1 97.9L671.3 76.4L671.5 101.5L671.6 78.9L671.8 99.6L672 79.6L672.1 100.1L672.3 74L672.5 97.1L672.6 80.3L672.8 109.4L672.9 71L673.1 107.6L673.3 78.4L673.4 99.8L673.6 81.6L673.8 112.5L673.9 64.5L674.1 104.7L674.3 67.3L674.4 108.2L674.6 61.8L674.8 107L674.9 61.8L675.1 102.7L675.2 79.3L675.4 102.3L675.6 55.8L675.8 121.4L675.9 80.6L676.1 101.4L676.2 79.5L676.4 111.4L676.6 79.8L676.7 102.4L676.9 80.5L677.1 100.3L677.2 65.2L677.4 108.9L677.6 68.8L677.7 102L677.9 80.3L678 100.3L678.2 76.6L678.4 101.7L678.5 60.9L678.7 101.1L678.9 79.9L679 111.8L679.2 79.7L679.4 99.5L679.6 78L679.7 99L679.9 60.8L680 121.3L680.2 60.5L680.4 100.8L680.5 78.9L680.7 115.6L680.9 65.3L681 100L681.2 81.2" fill="none" stroke="#0072BD" stroke-width="0.9" stroke-linejoin="round"/>
</g>
<rect x="73.2" y="227.6" width="394.8" height="137.4" fill="none" stroke="#262626" stroke-width="1.0"/>
<path d="M152.2 365v-4M152.2 227.6v4M231.1 365v-4M231.1 227.6v4M310.1 365v-4M310.1 227.6v4M389 365v-4M389 227.6v4M73.2 255h4M468 255h-4M73.2 295.8h4M468 295.8h-4M73.2 336.6h4M468 336.6h-4" stroke="#262626" stroke-width="1.0" fill="none"/>
<g clip-path="url(#cpc)">
<path d="M73.2 258.9L74 257.9L74.7 256.5L75.5 256.9L76.2 259.4L77 261.6L77.8 261L78.5 259.1L79.3 256.6L80 254L80.8 252.3L81.6 251.8L82.3 251.6L83.1 251.6L83.8 251.6L84.6 252.9L85.4 255.4L86.1 257.8L86.9 261.7L87.6 266.6L88.4 270.6L89.2 272.5L89.9 274.2L90.7 276.7L91.4 279.4L92.2 282L93 283.6L93.7 280.9L94.5 275.3L95.2 270.4L96 266.5L96.8 261.2L97.5 255.8L98.3 252.7L99 254.1L99.8 256.3L100.6 259.2L101.3 264.1L102.1 267.8L102.8 264.2L103.6 256.6L104.4 250L105.1 246.1L105.9 242.2L106.6 240.7L107.4 245.2L108.2 249.8L108.9 254.3L109.7 259.1L110.4 259.1L111.2 255.2L112 251.4L112.7 250.3L113.5 251.8L114.2 252.9L115 251.4L115.8 248.4L116.5 245.6L117.3 243.7L118 241.9L118.8 239.6L119.6 237.7L120.3 239.9L121.1 246.5L121.8 252.3L122.6 258.1L123.4 265.5L124.1 272.1L124.9 274.7L125.6 273.6L126.4 272L127.2 271.5L127.9 273.3L128.7 275.9L129.4 278.5L130.2 280.4L131 282.4L131.7 283.9L132.5 283.3L133.2 282L134 281.1L134.8 281.7L135.5 282.7L136.3 283.3L137 281.3L137.8 277.5L138.6 273.4L139.3 270L140.1 269L140.8 271.6L141.6 275.1L142.4 278.3L143.1 279.4L143.9 276L144.6 271.2L145.4 267.2L146.2 265.5L146.9 264.6L147.7 263.5L148.4 261.8L149.2 256.7L150 250.3L150.7 246.2L151.5 242.8L152.2 239.6L153 240L153.8 241.9L154.5 243.8L155.3 245.6L156 249.4L156.8 254.5L157.6 258.7L158.3 262.6L159.1 266.8L159.8 268L160.6 266.4L161.4 264.8L162.1 265.1L162.9 267.4L163.6 269.6L164.4 270.1L165.2 268.7L165.9 267.2L166.7 267L167.4 269.7L168.2 273.1L169 275.9L169.7 278.8L170.5 281.9L171.2 283.8L172 283.8L172.8 283.6L173.5 283.7L174.3 285.1L175 287.3L175.8 289.6L176.6 291L177.3 290.5L178.1 289.3L178.8 288L179.6 286.9L180.4 286.2L181.1 286.8L181.9 288L182.6 289.1L183.4 289.8L184.2 290.5L184.9 290.8L185.7 290.4L186.4 289.6L187.2 288.8L188 288.1L188.7 287.5L189.5 286.8L190.2 286.2L191 285.8L191.8 284L192.5 281.1L193.3 278.7L194 276.6L194.8 273.4L195.6 269.7L196.3 266.8L197.1 267.8L197.8 272.1L198.6 276.7L199.4 280L200.1 281.4L200.9 282.7L201.6 283.7L202.4 282.8L203.2 281L203.9 279.6L204.7 279.5L205.4 282L206.2 285.1L207 287.8L207.7 289.5L208.5 289.3L209.2 288.9L210 288.2L210.8 287.3L211.5 286.8L212.3 286.9L213 287.6L213.8 288L214.6 287.9L215.3 286.2L216.1 283.3L216.8 280.3L217.6 277.8L218.4 276.9L219.1 279.4L219.9 283L220.6 286.6L221.4 289.5L222.2 290.4L222.9 289.4L223.7 288.1L224.4 286.7L225.2 286.5L226 287.3L226.7 288.5L227.5 290.1L228.2 291.3L229 291.1L229.8 290.1L230.5 288.9L231.3 287.8L232 286.9L232.8 286.2L233.6 285.5L234.3 285.2L235.1 285.9L235.8 287.1L236.6 288.2L237.4 288.9L238.1 289.3L238.9 289.4L239.6 289.8L240.4 290.5L241.2 291.2L241.9 291.3L242.7 289.7L243.4 287.2L244.2 284.8L245 282.2L245.7 276.1L246.5 268L247.2 261.5L248 253.4L248.8 243.7L249.5 237.3L250.3 232.4L251 229.3L251.8 232.2L252.6 236.6L253.3 240.4L254.1 245.3L254.8 249.9L255.6 251.9L256.4 252.9L257.1 253.8L257.9 253L258.6 251.7L259.4 252.2L260.2 255.1L260.9 258.1L261.7 260.7L262.4 264.5L263.2 268.4L264 268.1L264.7 260.4L265.5 251.8L266.2 246L267 241.2L267.8 238.2L268.5 241.1L269.3 245.6L270 249.2L270.8 253L271.6 257.9L272.3 261.6L273.1 263.6L273.8 266L274.6 268.7L275.4 271L276.1 271.8L276.9 270.5L277.6 269L278.4 269L279.2 271.4L279.9 274.1L280.7 275.3L281.4 273.8L282.2 271.4L283 269L283.7 267.5L284.5 267.9L285.2 268.9L286 269.4L286.8 268.8L287.5 268.1L288.3 268.5L289 269.7L289.8 271L290.6 271.7L291.3 268.6L292.1 263L292.8 257.5L293.6 253.8L294.4 250.6L295.1 246.7L295.9 244.5L296.6 248.6L297.4 254.7L298.2 260.2L298.9 268.5L299.7 277L300.4 279.1L301.2 274.9L302 270.4L302.7 268.5L303.5 270.1L304.2 270.3L305 266.1L305.8 260.8L306.5 257.1L307.3 255L308 252.6L308.8 251.2L309.6 252.5L310.3 254.8L311.1 256.6L311.8 258.3L312.6 260.6L313.4 262.6L314.1 262.1L314.9 260L315.6 257.3L316.4 254.8L317.2 253.4L317.9 255.1L318.7 257.9L319.4 260.3L320.2 262.6L321 265.1L321.7 266.7L322.5 265.2L323.2 262.5L324 259.6L324.8 257.1L325.5 257.2L326.3 262.4L327 268.9L327.8 274.3L328.6 274L329.3 269.1L330.1 263.3L330.8 258.5L331.6 255.2L332.4 251.3L333.1 246.8L333.9 243.3L334.6 241.3L335.4 238.9L336.2 236.5L336.9 236.7L337.7 241.1L338.4 246.2L339.2 251.4L340 260.7L340.7 267.8L341.5 271L342.2 273.1L343 269L343.8 261.8L344.5 256.1L345.3 252.9L346 249.5L346.8 246.8L347.6 246.5L348.3 247.1L349.1 247.8L349.8 248.4L350.6 248.8L351.4 249.4L352.1 252.1L352.9 255.7L353.6 259.5L354.4 267.8L355.2 278.8L355.9 285.7L356.7 281.9L357.4 276.2L358.2 270.5L359 262.8L359.7 256.6L360.5 258.3L361.2 263.7L362 265.4L362.8 260.2L363.5 253.8L364.3 250.6L365 254.9L365.8 260.3L366.6 264L367.3 268.1L368.1 271.6L368.8 274.9L369.6 280.8L370.4 287L371.1 289.6L371.9 287.4L372.6 284.6L373.4 283.5L374.2 285L374.9 286.9L375.7 286.9L376.4 282.2L377.2 276.4L378 271.7L378.7 266.3L379.5 259L380.2 252.2L381 247.9L381.8 245.9L382.5 243.7L383.3 241.5L384 240.7L384.8 242L385.6 243.7L386.3 245.3L387.1 249.4L387.8 255.9L388.6 261.4L389.4 267.9L390.1 276.7L390.9 283.1L391.6 287.4L392.4 288.4L393.2 282L393.9 276.5L394.7 274.2L395.4 271.6L396.2 269.7L397 269.9L397.7 270.9L398.5 271.9L399.2 272.2L400 271.3L400.8 270.3L401.5 269.9L402.3 271.8L403 275.1L403.8 277.8L404.6 281.2L405.3 286.4L406.1 289.7L406.8 284.8L407.6 276.4L408.4 269.4L409.1 262.8L409.9 254L410.6 246.8L411.4 242.2L412.2 236.8L412.9 235.2L413.7 240.8L414.4 246.7L415.2 251.8L416 258.2L416.7 262.6L417.5 263.1L418.2 262.9L419 262.7L419.8 261.3L420.5 259.2L421.3 257.2L422 255.1L422.8 251.5L423.6 247.3L424.3 244.2L425.1 245.2L425.8 248.2L426.6 251.1L427.4 254.6L428.1 260L428.9 265L429.6 267.9L430.4 271.4L431.2 275.2L431.9 274.5L432.7 267.5L433.4 261.8L434.2 258.6L435 254.9L435.7 252.1L436.5 253.2L437.2 256.1L438 258.5L438.8 256.3L439.5 251.5L440.3 248.8L441 246.5L441.8 245.2L442.6 246.6L443.3 248.7L444.1 250.1L444.8 250.2L445.6 250.2L446.4 250.4L447.1 251.8L447.9 256.2L448.6 261.3L449.4 265L450.2 268.8L450.9 271.1L451.7 268.4L452.4 264.3L453.2 261.2L454 258.6L454.7 255.3L455.5 252.1L456.2 249.7L457 248.6L457.8 247.6L458.5 247.1L459.3 248.4L460 250.4L460.8 250.5L461.6 248.2L462.3 247.1L463.1 249.7L463.8 252.3L464.6 254.2L465.4 254.6L466.1 250.4L466.9 246.8L467.6 246.1" fill="none" stroke="#0072BD" stroke-width="1.15" stroke-linejoin="round"/>
<path d="M73.2 259.7L74 259.3L74.7 258.4L75.5 258.4L76.2 260.3L77 261.7L77.8 260.4L78.5 258L79.3 255.4L80 253L80.8 251.7L81.6 251.6L82.3 251.7L83.1 251.7L83.8 251.5L84.6 252.7L85.4 255.2L86.1 257.6L86.9 261.5L87.6 266.6L88.4 271L89.2 273.3L89.9 274.9L90.7 277L91.4 279.4L92.2 281.7L93 283.2L93.7 280.3L94.5 274.6L95.2 269.6L96 265.7L96.8 260.8L97.5 255.8L98.3 253.1L99 254.4L99.8 256.3L100.6 258.9L101.3 263.7L102.1 267.2L102.8 263.4L103.6 255.7L104.4 248.9L105.1 245.3L105.9 241.7L106.6 240.6L107.4 245.4L108.2 250.2L108.9 255L109.7 260L110.4 259.9L111.2 255.7L112 251.6L112.7 250.5L113.5 252L114.2 252.9L115 251.1L115.8 248.1L116.5 245.4L117.3 243.7L118 242.2L118.8 240.2L119.6 238.3L120.3 240.2L121.1 246.8L121.8 252.8L122.6 258.6L123.4 266L124.1 272.6L124.9 275.1L125.6 273.8L126.4 272.2L127.2 271.8L127.9 273.9L128.7 276.8L129.4 279.4L130.2 281.1L131 282.8L131.7 283.9L132.5 283.1L133.2 281.6L134 280.6L134.8 281L135.5 282L136.3 282.6L137 280.8L137.8 277.3L138.6 273.3L139.3 269.9L140.1 268.7L140.8 271.1L141.6 274.5L142.4 277.8L143.1 279.3L143.9 276.5L144.6 272.2L145.4 268.3L146.2 266.4L146.9 265.2L147.7 263.7L148.4 262L149.2 257.2L150 251.3L150.7 247.4L151.5 243.9L152.2 240.4L153 240.3L153.8 241.9L154.5 243.7L155.3 245.8L156 250L156.8 255.2L157.6 259.1L158.3 262.6L159.1 266.9L159.8 268.2L160.6 266.6L161.4 264.7L162.1 264.7L162.9 267L163.6 269.6L164.4 270.8L165.2 269.7L165.9 268.5L166.7 268.4L167.4 270.8L168.2 273.9L169 276.2L169.7 278.5L170.5 281.4L171.2 283.4L172 283.5L172.8 283.4L173.5 283.5L174.3 285.1L175 287.3L175.8 289.4L176.6 290.7L177.3 290.2L178.1 288.9L178.8 287.4L179.6 285.9L180.4 284.9L181.1 285.4L181.9 287.1L182.6 289.1L183.4 290.8L184.2 291.9L184.9 291.8L185.7 290.9L186.4 290.2L187.2 289.6L188 289.1L188.7 288.4L189.5 287.4L190.2 286.4L191 285.6L191.8 283.7L192.5 280.5L193.3 277.8L194 275.8L194.8 273L195.6 270L196.3 267.4L197.1 268.6L197.8 272.8L198.6 277.2L199.4 280.4L200.1 282L200.9 283.8L201.6 285.1L202.4 284.3L203.2 282.1L203.9 279.9L204.7 279L205.4 281.1L206.2 284.3L207 287.6L207.7 289.6L208.5 289.6L209.2 289L210 288.3L210.8 287.8L211.5 287.4L212.3 287.5L213 288L213.8 288.5L214.6 288.6L215.3 287L216.1 284.4L216.8 281.7L217.6 279.2L218.4 277.9L219.1 280L219.9 283.5L220.6 287.2L221.4 290.3L222.2 290.9L222.9 289.4L223.7 287.8L224.4 286.5L225.2 286.5L226 287.8L226.7 289.3L227.5 290.7L228.2 291.6L229 291.3L229.8 290.6L230.5 289.7L231.3 288.6L232 287.5L232.8 286.4L233.6 285.6L234.3 285.6L235.1 286.5L235.8 287.6L236.6 288.6L237.4 289.4L238.1 290.1L238.9 290.6L239.6 291.1L240.4 291.7L241.2 292.4L241.9 292.6L242.7 291.1L243.4 288.6L244.2 286L245 283.3L245.7 277L246.5 268.6L247.2 261.9L248 253.7L248.8 243.9L249.5 237.5L250.3 232.9L251 229.8L251.8 232.7L252.6 236.8L253.3 240.3L254.1 245.1L254.8 249.8L255.6 251.8L256.4 252.8L257.1 253.3L257.9 252.4L258.6 251.2L259.4 252.1L260.2 255.5L260.9 258.7L261.7 261.3L262.4 265.1L263.2 269.3L264 269.1L264.7 261.4L265.5 252.6L266.2 246.9L267 242.4L267.8 239.7L268.5 242.8L269.3 247.4L270 251L270.8 254.8L271.6 259.7L272.3 263.4L273.1 265.2L273.8 267.1L274.6 269.4L275.4 271.6L276.1 272.5L276.9 271.3L277.6 269.7L278.4 269.3L279.2 271.2L279.9 273.5L280.7 274.6L281.4 273.2L282.2 271.1L283 269.2L283.7 268.1L284.5 268.7L285.2 269.6L286 270.1L286.8 269.5L287.5 268.7L288.3 268.8L289 269.6L289.8 270.6L290.6 271.3L291.3 268.7L292.1 263.5L292.8 258.3L293.6 254.8L294.4 251.5L295.1 247.3L295.9 244.7L296.6 248.5L297.4 254.4L298.2 260.2L298.9 268.8L299.7 277.4L300.4 279.4L301.2 275.3L302 271.2L302.7 269.8L303.5 271.7L304.2 272L305 267.5L305.8 261.8L306.5 257.7L307.3 255.6L308 253.3L308.8 251.8L309.6 253L310.3 254.9L311.1 256.4L311.8 257.9L312.6 260.2L313.4 262.3L314.1 262L314.9 260.2L315.6 257.8L316.4 255.4L317.2 254L317.9 255.4L318.7 258L319.4 260.2L320.2 262.5L321 265.3L321.7 267.2L322.5 266L323.2 263.2L324 260.1L324.8 257.4L325.5 257.3L326.3 262.2L327 268.4L327.8 273.6L328.6 273.3L329.3 268.7L330.1 263.3L330.8 258.7L331.6 255.2L332.4 250.6L333.1 245.4L333.9 241.5L334.6 239.7L335.4 238L336.2 236.5L336.9 237.5L337.7 242.2L338.4 247.2L339.2 252.2L340 261.4L340.7 268.7L341.5 271.9L342.2 273.9L343 269.4L343.8 261.6L344.5 255.5L345.3 252.4L346 249.2L346.8 246.4L347.6 245.9L348.3 246.5L349.1 247.4L349.8 248.4L350.6 249.4L351.4 250.6L352.1 253.5L352.9 256.8L353.6 260.2L354.4 268.4L355.2 279.5L355.9 286.4L356.7 282.8L357.4 277.2L358.2 271.8L359 264.3L359.7 258.1L360.5 259.5L361.2 264.7L362 266.5L362.8 261.4L363.5 254.9L364.3 251.6L365 255.8L365.8 261.1L366.6 264.3L367.3 268L368.1 271.2L368.8 274.7L369.6 280.6L370.4 286.8L371.1 289.3L371.9 287.3L372.6 285L373.4 284.3L374.2 285.8L374.9 287.5L375.7 287.1L376.4 281.9L377.2 275.7L378 271L378.7 265.6L379.5 258.6L380.2 251.9L381 247.7L381.8 245.9L382.5 243.8L383.3 242L384 241.4L384.8 242.4L385.6 243.7L386.3 245.1L387.1 249.4L387.8 256L388.6 261.5L389.4 268L390.1 276.7L390.9 283.1L391.6 287.4L392.4 288.3L393.2 281.8L393.9 276.1L394.7 273.6L395.4 271.1L396.2 269.5L397 270L397.7 271.1L398.5 272L399.2 272.2L400 271.3L400.8 270.4L401.5 270L402.3 271.9L403 275.5L403.8 278.5L404.6 281.9L405.3 286.9L406.1 289.7L406.8 284.6L407.6 276.4L408.4 269.7L409.1 263.4L409.9 254.6L410.6 247L411.4 241.8L412.2 236L412.9 234.4L413.7 240.2L414.4 246.4L415.2 251.6L416 258.1L416.7 262.6L417.5 263.4L418.2 263.6L419 263.6L419.8 262.4L420.5 260.1L421.3 258L422 255.8L422.8 252.2L423.6 247.9L424.3 244.8L425.1 245.6L425.8 248.6L426.6 251.3L427.4 254.3L428.1 259.2L428.9 263.9L429.6 267.2L430.4 271.2L431.2 275.3L431.9 274.6L432.7 267.4L433.4 261.5L434.2 258.1L435 254.3L435.7 251.7L436.5 252.9L437.2 255.9L438 258.4L438.8 256.1L439.5 251.4L440.3 248.8L441 246.6L441.8 245.4L442.6 246.7L443.3 248.4L444.1 249.4L444.8 249.6L445.6 249.8L446.4 250.1L447.1 251.6L447.9 256.2L448.6 261.4L449.4 265.1L450.2 269L450.9 271.7L451.7 269.2L452.4 265.4L453.2 262.4L454 259.7L454.7 256L455.5 252.4L456.2 249.9L457 249L457.8 248.4L458.5 248L459.3 249.1L460 250.5L460.8 250.3L461.6 248L462.3 247.2L463.1 250.2L463.8 253.6L464.6 256.2L465.4 257L466.1 252.9L466.9 249L467.6 247.7" fill="none" stroke="#D95319" stroke-width="1.15" stroke-linejoin="round"/>
<path d="M73.2 276.4L73.4 294L73.6 312.3L73.8 326.5L74 332.8L74.1 329.4L74.3 317.1L74.5 298.9L74.7 279.6L74.9 264.3L75.1 257.3L75.3 260.6L75.5 273.1L75.7 291.4L75.9 310.4L76 325L76.2 331.6L76.4 328.7L76.6 317.5L76.8 301L77 283.5L77.2 269.3L77.4 261.8L77.6 263.1L77.8 272.9L77.9 289.2L78.1 307.6L78.3 323.6L78.5 332.6L78.7 332.2L78.9 322.1L79.1 304.6L79.3 284.2L79.5 266.2L79.7 255.6L79.8 255.4L80 266L80.2 284.7L80.4 306.7L80.6 326.1L80.8 337.7L81 338.3L81.2 327.7L81.4 308.8L81.6 286.4L81.7 266.5L81.9 254.2L82.1 252.8L82.3 262.6L82.5 281.1L82.7 303.5L82.9 323.9L83.1 336.9L83.3 339.3L83.5 330.3L83.6 312.2L83.8 289.9L84 269.2L84.2 255.6L84.4 252.8L84.6 261.2L84.8 278.5L85 299.7L85.2 319.2L85.4 332.2L85.5 335.4L85.7 328.3L85.9 313L86.1 293.8L86.3 275.8L86.5 263.7L86.7 260.6L86.9 266.7L87.1 279.9L87.3 296.2L87.4 311.2L87.6 321.2L87.8 323.9L88 319.3L88.2 309.2L88.4 296.4L88.6 284.4L88.8 275.9L89 272.9L89.2 275.8L89.3 283.7L89.5 294.5L89.7 305.1L89.9 312.8L90.1 315.8L90.3 313.4L90.5 306.6L90.7 297.5L90.9 288.6L91.1 282.1L91.2 279.6L91.4 281.4L91.6 286.8L91.8 294L92 301.2L92.2 306.4L92.4 308.6L92.6 307.4L92.8 303.3L93 297.6L93.1 291.4L93.3 285.8L93.5 282.2L93.7 281.7L93.9 285.3L94.1 292.7L94.3 302.3L94.5 311.7L94.7 317.7L94.9 318.1L95 312.1L95.2 300.9L95.4 287.3L95.6 275.1L95.8 267.8L96 267.6L96.2 275.1L96.4 288.9L96.6 305.8L96.8 321.3L96.9 330.9L97.1 331.5L97.3 322.2L97.5 305L97.7 284.2L97.9 265.6L98.1 254.7L98.3 254.9L98.5 266.3L98.7 285.5L98.8 307.1L99 325.2L99.2 335.1L99.4 334.5L99.6 323.7L99.8 305.9L100 285.9L100.2 269.1L100.4 259.9L100.6 260.7L100.7 270.7L100.9 286.6L101.1 303.8L101.3 317.7L101.5 324.9L101.7 324.1L101.9 316.3L102.1 303.8L102.3 289.4L102.5 276.1L102.6 267.1L102.8 264.9L103 271.2L103.2 285.1L103.4 303.8L103.6 322.2L103.8 335.1L104 338L104.2 329.3L104.4 310.5L104.5 286.7L104.7 264.2L104.9 249.5L105.1 246.7L105.3 257L105.5 278.1L105.7 304.8L105.9 329.9L106.1 346.7L106.3 350.1L106.4 338.8L106.6 316L106.8 288.2L107 263.4L107.2 248.2L107.4 246.1L107.6 256.8L107.8 276.8L108 300.7L108.2 322.3L108.3 336.1L108.5 338.8L108.7 330.4L108.9 313.5L109.1 293.3L109.3 275L109.5 263.2L109.7 260.2L109.9 266.1L110.1 279.2L110.2 296.4L110.4 313.8L110.6 327.4L110.8 333.3L111 329.6L111.2 316.7L111.4 297.4L111.6 276.7L111.8 260L112 252.1L112.1 255.6L112.3 269.9L112.5 291.2L112.7 313.7L112.9 331.5L113.1 339.7L113.3 336.7L113.5 323.3L113.7 303.1L113.9 281.5L114 263.8L114.2 254.3L114.4 255.2L114.6 266.4L114.8 285.3L115 307.4L115.2 327.2L115.4 339.4L115.6 340.8L115.8 330.5L115.9 310.8L116.1 286.6L116.3 264.1L116.5 249.2L116.7 246L116.9 255.7L117.1 276L117.3 301.7L117.5 326.3L117.7 343.4L117.8 348.5L118 340.2L118.2 320.3L118.4 293.7L118.6 267.1L118.8 247.4L119 239.9L119.2 246.7L119.4 266.4L119.6 294L119.7 322.2L119.9 343.4L120.1 351.8L120.3 345.4L120.5 326.5L120.7 300.9L120.9 275.6L121.1 257L121.3 249.3L121.5 253.7L121.6 268.3L121.8 289L122 310.4L122.2 326.8L122.4 334.2L122.6 331.3L122.8 319.6L123 302.9L123.2 286.1L123.4 273.5L123.5 267.9L123.7 269.9L123.9 278.1L124.1 289.8L124.3 301.7L124.5 311.2L124.7 316.4L124.9 316.5L125.1 311.3L125.3 302L125.4 290.8L125.6 280.5L125.8 274L126 273.1L126.2 278.3L126.4 288.4L126.6 300.7L126.8 312L127 318.9L127.2 319.6L127.3 313.9L127.5 303.5L127.7 291.6L127.9 281.5L128.1 275.7L128.3 275.4L128.5 280.5L128.7 289.2L128.9 298.9L129.1 307.1L129.2 311.8L129.4 312.1L129.6 308.2L129.8 301.3L130 293.5L130.2 286.6L130.4 282.5L130.6 282.1L130.8 285.3L131 291L131.1 297.6L131.3 303.3L131.5 306.8L131.7 307.4L131.9 305.1L132.1 300.3L132.3 294.2L132.5 288.2L132.7 283.9L132.9 282.7L133 285L133.2 290.3L133.4 297.5L133.6 304.5L133.8 309.3L134 310.5L134.2 307.7L134.4 301.7L134.6 294.3L134.8 287.5L134.9 283.2L135.1 282.3L135.3 284.9L135.5 290.3L135.7 296.9L135.9 302.9L136.1 307L136.3 308.1L136.5 306.2L136.7 301.5L136.8 294.9L137 287.9L137.2 282.2L137.4 279.7L137.6 281.5L137.8 287.5L138 296.6L138.2 306.5L138.4 314.5L138.6 318L138.7 315.6L138.9 307.4L139.1 295.4L139.3 282.6L139.5 272.7L139.7 268.8L139.9 272.2L140.1 282.1L140.3 295.4L140.5 308.4L140.6 317.4L140.8 320.2L141 316.6L141.2 307.9L141.4 296.8L141.6 286.4L141.8 279.3L142 277L142.2 279.6L142.4 286.1L142.5 294.5L142.7 302.6L142.9 308.7L143.1 311.6L143.3 310.7L143.5 305.9L143.7 297.9L143.9 288.5L144.1 279.9L144.3 274.8L144.4 275.1L144.6 281.1L144.8 291.8L145 304.6L145.2 316L145.4 322.7L145.6 322.4L145.8 314.9L146 302L146.2 287.1L146.3 274.2L146.5 266.8L146.7 266.7L146.9 274.2L147.1 287.5L147.3 303.2L147.5 317.3L147.7 326.1L147.9 327.1L148.1 320.1L148.2 306.7L148.4 290.1L148.6 274.3L148.8 263L149 259.5L149.2 265.3L149.4 279.8L149.6 299.7L149.8 320.2L150 335.7L150.1 341.5L150.3 335.5L150.5 318.8L150.7 295.5L150.9 271.4L151.1 252.7L151.3 244.4L151.5 248.9L151.7 265.6L151.9 290.8L152 318.1L152.2 340.3L152.4 351.4L152.6 348.5L152.8 332.1L153 306.9L153.2 279.3L153.4 256.3L153.6 243.4L153.8 243.7L153.9 256.9L154.1 279.3L154.3 305.4L154.5 328.6L154.7 343.4L154.9 346.2L155.1 336.6L155.3 317.2L155.5 293L155.7 270.3L155.8 254.9L156 250.1L156.2 256.7L156.4 272.3L156.6 292.6L156.8 312.4L157 327.1L157.2 333.6L157.4 330.7L157.6 319.7L157.7 303.4L157.9 286.1L158.1 272L158.3 264.4L158.5 264.9L158.7 272.7L158.9 285.4L159.1 299.8L159.3 312.4L159.5 320.7L159.6 323L159.8 318.9L160 309.3L160.2 296L160.4 282.3L160.6 271.4L160.8 266.2L161 268.2L161.2 277.1L161.4 290.9L161.5 306.2L161.7 319.2L161.9 326.3L162.1 325.8L162.3 317.9L162.5 305L162.7 290.4L162.9 277.7L163.1 270L163.3 268.8L163.4 274L163.6 284.1L163.8 296.6L164 308.4L164.2 317L164.4 320.5L164.6 318.2L164.8 310.5L165 299L165.2 286.5L165.3 275.9L165.5 269.9L165.7 270.1L165.9 276.7L166.1 288.1L166.3 301.5L166.5 313.7L166.7 321.3L166.9 322.4L167.1 317.1L167.2 306.9L167.4 294.6L167.6 283.3L167.8 275.7L168 273.3L168.2 276.3L168.4 283.6L168.6 293.4L168.8 303.2L169 310.8L169.1 314.4L169.3 313.4L169.5 308.2L169.7 300.5L169.9 292.4L170.1 285.8L170.3 282.2L170.5 282.2L170.7 285.2L170.9 290.4L171 296.3L171.2 301.8L171.4 305.7L171.6 307.3L171.8 306.2L172 302.5L172.2 297.2L172.4 291.5L172.6 286.8L172.8 284.2L172.9 284.3L173.1 287.3L173.3 292.4L173.5 298.2L173.7 303.3L173.9 306.4L174.1 306.6L174.3 304.3L174.5 300.1L174.7 295.4L174.8 291.2L175 288.7L175.2 288.1L175.4 289.4L175.6 292L175.8 295.1L176 297.9L176.2 299.8L176.4 300.6L176.6 300.3L176.7 299.1L176.9 297.1L177.1 294.7L177.3 292.3L177.5 290.6L177.7 290.1L177.9 291L178.1 293.2L178.3 296.4L178.5 299.7L178.6 302.4L178.8 303.5L179 302.8L179.2 300.1L179.4 296.2L179.6 291.8L179.8 288.2L180 286.3L180.2 286.8L180.4 289.7L180.5 294.2L180.7 299.1L180.9 303.1L181.1 305.1L181.3 304.7L181.5 302.1L181.7 298.1L181.9 293.9L182.1 290.4L182.3 288.6L182.4 288.7L182.6 290.6L182.8 293.5L183 296.7L183.2 299.3L183.4 300.7L183.6 300.8L183.8 299.6L184 297.7L184.2 295.5L184.3 293.6L184.5 292.4L184.7 292L184.9 292.5L185.1 293.9L185.3 295.8L185.5 298L185.7 299.8L185.9 300.6L186.1 300.2L186.2 298.6L186.4 296L186.6 293.1L186.8 290.8L187 289.7L187.2 290.2L187.4 292.2L187.6 295.4L187.8 298.8L188 301.5L188.1 302.7L188.3 302.1L188.5 299.8L188.7 296.3L188.9 292.6L189.1 289.5L189.3 288.1L189.5 288.7L189.7 291.3L189.9 295.2L190 299.4L190.2 302.8L190.4 304.4L190.6 303.6L190.8 300.7L191 296.3L191.2 291.6L191.4 287.7L191.6 285.7L191.8 286.3L191.9 289.7L192.1 295.4L192.3 302L192.5 307.7L192.7 310.5L192.9 309.2L193.1 303.9L193.3 295.8L193.5 287.1L193.7 280.3L193.8 277.4L194 279.6L194.2 286.5L194.4 296.7L194.6 307.4L194.8 315.6L195 318.9L195.2 315.7L195.4 306.6L195.6 293.6L195.7 280.5L195.9 270.9L196.1 267.9L196.3 272.8L196.5 284.5L196.7 299.4L196.9 313L197.1 321.3L197.3 322.1L197.5 315.7L197.6 304.5L197.8 292L198 281.7L198.2 276.2L198.4 276.4L198.6 281.7L198.8 290L199 299.1L199.2 306.4L199.4 310.4L199.5 310.4L199.7 306.5L199.9 300.1L200.1 292.8L200.3 286.6L200.5 283.3L200.7 283.5L200.9 286.9L201.1 292.4L201.3 298.5L201.4 303.5L201.6 306.4L201.8 306.5L202 303.9L202.2 299L202.4 293L202.6 287.4L202.8 283.6L203 283L203.2 285.9L203.3 291.8L203.5 299.2L203.7 306.1L203.9 310.7L204.1 311.3L204.3 307.7L204.5 300.7L204.7 292.4L204.9 285.1L205.1 281.1L205.2 281.3L205.4 285.1L205.6 291.4L205.8 298.1L206 303.4L206.2 306L206.4 305.8L206.6 303L206.8 298.9L207 294.7L207.1 291.5L207.3 289.8L207.5 289.7L207.7 291.1L207.9 293.4L208.1 296.3L208.3 299.1L208.5 301.1L208.7 301.8L208.9 301L209 298.8L209.2 295.7L209.4 292.4L209.6 289.9L209.8 288.8L210 289.5L210.2 291.9L210.4 295.4L210.6 299.1L210.8 302.1L210.9 303.6L211.1 303.1L211.3 300.7L211.5 296.9L211.7 292.8L211.9 289.4L212.1 287.7L212.3 288L212.5 290.4L212.7 294L212.8 298L213 301.3L213.2 303.1L213.4 303.1L213.6 301.2L213.8 298.1L214 294.5L214.2 291.3L214.4 289.4L214.6 289L214.7 290.2L214.9 292.8L215.1 296.5L215.3 300.5L215.5 303.7L215.7 305.3L215.9 304.6L216.1 301.2L216.3 295.9L216.5 289.9L216.6 284.7L216.8 281.9L217 282.6L217.2 286.9L217.4 294L217.6 302.2L217.8 309.3L218 313.2L218.2 312.6L218.4 307.6L218.5 299.5L218.7 290.8L218.9 284L219.1 280.6L219.3 281.3L219.5 285.5L219.7 291.8L219.9 298.2L220.1 303.2L220.3 305.6L220.4 305.2L220.6 302.6L220.8 298.9L221 295.1L221.2 292.2L221.4 290.7L221.6 290.7L221.8 291.7L222 293.5L222.2 295.9L222.3 298.4L222.5 300.6L222.7 301.7L222.9 301.4L223.1 299.5L223.3 296.3L223.5 292.6L223.7 289.4L223.9 287.6L224.1 287.8L224.2 290.3L224.4 294.4L224.6 299.1L224.8 303.1L225 305.1L225.2 304.6L225.4 301.8L225.6 297.8L225.8 293.5L226 290.2L226.1 288.6L226.3 288.9L226.5 290.9L226.7 293.9L226.9 297L227.1 299.3L227.3 300.5L227.5 300.4L227.7 299.1L227.9 297.3L228 295.3L228.2 293.7L228.4 292.7L228.6 292.4L228.8 292.9L229 294.1L229.2 296L229.4 298L229.6 299.7L229.8 300.4L229.9 300L230.1 298.4L230.3 295.9L230.5 293.2L230.7 290.8L230.9 289.6L231.1 289.9L231.3 291.9L231.5 295.1L231.7 298.7L231.8 301.9L232 303.7L232.2 303.5L232.4 301.2L232.6 297.4L232.8 292.9L233 289L233.2 286.6L233.4 286.6L233.6 288.9L233.7 293.2L233.9 298.2L234.1 302.6L234.3 305.3L234.5 305.4L234.7 303.1L234.9 299.1L235.1 294.4L235.3 290.3L235.5 287.7L235.6 287.3L235.8 289.1L236 292.4L236.2 296.3L236.4 299.9L236.6 302.2L236.8 302.8L237 301.6L237.2 299.1L237.4 295.9L237.5 292.9L237.7 290.8L237.9 290L238.1 290.7L238.3 292.6L238.5 295.2L238.7 297.9L238.9 300L239.1 300.9L239.3 300.5L239.4 299L239.6 296.7L239.8 294.3L240 292.4L240.2 291.5L240.4 291.6L240.6 292.8L240.8 294.7L241 296.7L241.2 298.4L241.3 299.4L241.5 299.5L241.7 298.7L241.9 297.2L242.1 295.1L242.3 292.8L242.5 290.9L242.7 290L242.9 290.6L243.1 292.9L243.2 296.5L243.4 300.6L243.6 303.9L243.8 305.5L244 304.5L244.2 300.9L244.4 295.5L244.6 289.7L244.8 284.9L245 282.3L245.1 283.1L245.3 287.4L245.5 295.2L245.7 304.8L245.9 314L246.1 319.5L246.3 319L246.5 311.6L246.7 298.5L246.9 282.9L247 269.3L247.2 261.7L247.4 262.7L247.6 272.8L247.8 290.3L248 311.4L248.2 330.7L248.4 342.4L248.6 342.4L248.8 329.3L248.9 305.7L249.1 277.7L249.3 253.1L249.5 238.8L249.7 239.3L249.9 254.8L250.1 281.7L250.3 313.5L250.5 341.8L250.7 358.7L250.8 359.1L251 342.6L251.2 313.7L251.4 280.5L251.6 252.1L251.8 235.8L252 235.4L252.2 250.5L252.4 276.6L252.6 306.7L252.7 333.1L252.9 349.3L253.1 351.3L253.3 339.1L253.5 316.2L253.7 289L253.9 264.8L254.1 249.5L254.3 246.6L254.5 256.2L254.6 275.2L254.8 298.5L255 320.2L255.2 335.2L255.4 340.1L255.6 333.7L255.8 317.9L256 296.7L256.2 275.6L256.4 259.8L256.5 253.3L256.7 257.5L256.9 271.2L257.1 291L257.3 312L257.5 329.1L257.7 338.1L257.9 336.6L258.1 324.8L258.3 305.5L258.4 283.4L258.6 264.2L258.8 252.8L259 252.3L259.2 262.7L259.4 281.1L259.6 302.7L259.8 321.8L260 333.8L260.2 336.2L260.3 328.7L260.5 313.6L260.7 294.8L260.9 277.1L261.1 264.5L261.3 259.8L261.5 264L261.7 275.7L261.9 291.7L262.1 307.9L262.2 320.1L262.4 325.8L262.6 324L262.8 315.7L263 303.3L263.2 290L263.4 278.9L263.6 271.9L263.8 270.2L264 274.2L264.1 283.8L264.3 297.5L264.5 312.8L264.7 325.8L264.9 332.7L265.1 330.7L265.3 319.4L265.5 300.7L265.7 279L265.9 260L266 248.9L266.2 249L266.4 260.6L266.6 281.4L266.8 306.7L267 330.5L267.2 346.8L267.4 351L267.6 341.6L267.8 320.7L267.9 293.7L268.1 267.7L268.3 249.2L268.5 242.5L268.7 248.6L268.9 265.6L269.1 288.9L269.3 312.9L269.5 331.9L269.7 341.6L269.8 340.3L270 328.6L270.2 309.5L270.4 287.8L270.6 269L270.8 257.4L271 255.5L271.2 263.2L271.4 278.1L271.6 296.2L271.7 313.1L271.9 325L272.1 329.5L272.3 326L272.5 315.6L272.7 300.9L272.9 285.4L273.1 272.9L273.3 266.1L273.5 266.7L273.6 274.1L273.8 286.4L274 300.4L274.2 312.7L274.4 320.5L274.6 322.2L274.8 317.5L275 308L275.2 296L275.4 284.4L275.5 275.9L275.7 272.2L275.9 274.1L276.1 281.1L276.3 291.6L276.5 303.4L276.7 313.6L276.9 319.8L277.1 320.3L277.3 314.9L277.4 304.5L277.6 291.8L277.8 279.7L278 271.4L278.2 269L278.4 273.3L278.6 283L278.8 295.6L279 307.7L279.2 316.4L279.3 319.9L279.5 317.4L279.7 310L279.9 299.6L280.1 288.7L280.3 280L280.5 275.2L280.7 275.2L280.9 280.2L281.1 288.9L281.2 299.6L281.4 309.8L281.6 316.9L281.8 319.1L282 315.6L282.2 306.9L282.4 295.1L282.6 283L282.8 273.6L283 269.4L283.1 271.7L283.3 280.1L283.5 292.7L283.7 306.2L283.9 317.2L284.1 322.9L284.3 321.8L284.5 314.3L284.7 302.4L284.9 289.1L285 277.7L285.2 270.9L285.4 270.2L285.6 275.9L285.8 286.3L286 299L286.2 310.9L286.4 319.1L286.6 321.6L286.8 317.8L286.9 308.4L287.1 295.8L287.3 283L287.5 273.3L287.7 269.3L287.9 271.9L288.1 280.5L288.3 292.7L288.5 305.6L288.7 315.8L288.8 320.8L289 319.6L289.2 312.6L289.4 301.6L289.6 289.4L289.8 279L290 272.9L290.2 272.6L290.4 278L290.6 287.6L290.7 299.3L290.9 310.6L291.1 319L291.3 322.2L291.5 318.8L291.7 309.2L291.9 295L292.1 279.8L292.3 267.3L292.5 261.1L292.6 263.6L292.8 274.6L293 291.9L293.2 311.1L293.4 327.4L293.6 336.3L293.8 335.4L294 324.5L294.2 306L294.4 284.1L294.5 264.2L294.7 251.3L294.9 249L295.1 258.4L295.3 277.6L295.5 302.2L295.7 325.7L295.9 341.9L296.1 346.4L296.3 338.2L296.4 319.8L296.6 296.7L296.8 274.8L297 259.4L297.2 253.6L297.4 258.1L297.6 271.3L297.8 289.4L298 307.9L298.2 322L298.3 328.5L298.5 326.4L298.7 317.2L298.9 304.3L299.1 291.3L299.3 281.6L299.5 276.9L299.7 277.3L299.9 281.7L300.1 288.4L300.2 296.3L300.4 304.1L300.6 310.5L300.8 313.9L301 313L301.2 307.5L301.4 298.3L301.6 287.4L301.8 277.7L302 271.8L302.1 271.7L302.3 278L302.5 289L302.7 301.9L302.9 313.2L303.1 319.8L303.3 320.4L303.5 315L303.7 305.2L303.9 293.5L304 282.3L304.2 274.2L304.4 270.8L304.6 273.4L304.8 281.9L305 294.8L305.2 309.3L305.4 321.7L305.6 328.5L305.8 327.3L305.9 317.7L306.1 301.8L306.3 283.3L306.5 267.3L306.7 257.9L306.9 257.9L307.1 267.5L307.3 284.4L307.5 304.6L307.7 323.1L307.8 335.3L308 337.9L308.2 329.9L308.4 313.1L308.6 291.6L308.8 270.9L309 256.6L309.2 252.2L309.4 258.8L309.6 274.4L309.7 294.9L309.9 315.2L310.1 330.1L310.3 336.2L310.5 332.2L310.7 319.4L310.9 301.1L311.1 281.9L311.3 266.4L311.5 258.6L311.6 260.1L311.8 270.4L312 286.7L312.2 304.7L312.4 320L312.6 328.9L312.8 329.4L313 321.7L313.2 307.9L313.4 291.4L313.5 276.2L313.7 265.7L313.9 262.4L314.1 267.4L314.3 279.6L314.5 296.3L314.7 313.3L314.9 326.5L315.1 332.3L315.3 329.2L315.4 317.5L315.6 300L315.8 280.8L316 264.9L316.2 256.3L316.4 257.5L316.6 268.3L316.8 286.3L317 306.9L317.2 324.8L317.3 335.3L317.5 335.8L317.7 326.3L317.9 309.6L318.1 290L318.3 272.6L318.5 261.4L318.7 259L318.9 265.6L319.1 279.4L319.2 296.8L319.4 313.5L319.6 325.4L319.8 329.8L320 325.6L320.2 314.2L320.4 298.7L320.6 283.1L320.8 271.3L321 265.9L321.1 268.1L321.3 276.9L321.5 290L321.7 304.3L321.9 316.4L322.1 323.6L322.3 324.1L322.5 317.4L322.7 305L322.9 289.6L323 275.1L323.2 265.3L323.4 262.9L323.6 268.9L323.8 282.2L324 299.7L324.2 316.9L324.4 329.3L324.6 333.4L324.8 327.9L324.9 313.8L325.1 294.7L325.3 275.9L325.5 262.6L325.7 258.4L325.9 264.2L326.1 277.6L326.3 294.5L326.5 310.3L326.7 320.9L326.8 324.2L327 320L327.2 310.2L327.4 298L327.6 286.5L327.8 278.4L328 275L328.2 276.7L328.4 283L328.6 292.9L328.7 304.5L328.9 314.8L329.1 320.9L329.3 320.7L329.5 313.4L329.7 300.4L329.9 284.8L330.1 270.9L330.3 262.8L330.5 263.3L330.6 272.9L330.8 289.6L331 308.8L331.2 325.4L331.4 334.6L331.6 333.6L331.8 322.2L332 303L332.2 280.8L332.4 261.5L332.5 250.6L332.7 251.7L332.9 265.1L333.1 287.8L333.3 313.8L333.5 335.9L333.7 347.6L333.9 345.3L334.1 329.2L334.3 303.6L334.4 275.5L334.6 252.4L334.8 240.9L335 244.3L335.2 261.8L335.4 288.9L335.6 318.4L335.8 342.2L336 353.5L336.2 349.2L336.3 330L336.5 301.3L336.7 271.2L336.9 248.4L337.1 239.2L337.3 245.7L337.5 265.5L337.7 292.5L337.9 319.2L338.1 338.3L338.2 345.2L338.4 338.6L338.6 320.8L338.8 297.1L339 274.2L339.2 258.6L339.4 254.4L339.6 261.9L339.8 277.5L340 296L340.1 311.9L340.3 321.7L340.5 323.8L340.7 318.6L340.9 307.9L341.1 294.8L341.3 282.6L341.5 274.7L341.7 273L341.9 277.3L342 286.3L342.2 297.4L342.4 308.4L342.6 316.8L342.8 320.3L343 317.2L343.2 307.3L343.4 292.6L343.6 276.8L343.8 264.6L343.9 260.3L344.1 266.1L344.3 281L344.5 301.3L344.7 321.1L344.9 334.6L345.1 337.7L345.3 329.3L345.5 311.3L345.7 288.4L345.8 266.7L346 252.2L346.2 249.4L346.4 259.4L346.6 279.8L346.8 305.1L347 328.3L347.2 342.7L347.4 344.3L347.6 332.6L347.7 311L347.9 285.5L348.1 262.9L348.3 249.4L348.5 248.6L348.7 260.5L348.9 281.8L349.1 306.6L349.3 328.3L349.5 341.1L349.6 341.5L349.8 329.7L350 308.9L350.2 284.8L350.4 263.8L350.6 251.6L350.8 251.3L351 262.9L351.2 283.3L351.4 306.7L351.5 326.7L351.7 337.9L351.9 337.5L352.1 326.1L352.3 307.2L352.5 286.1L352.7 268.4L352.9 258.7L353.1 259L353.3 268.9L353.4 285.5L353.6 304L353.8 318.9L354 326.2L354.2 324.6L354.4 315.6L354.6 303L354.8 291.1L355 283.1L355.2 280.4L355.3 282.4L355.5 287.1L355.7 292.5L355.9 297.6L356.1 302.1L356.3 305.6L356.5 307.4L356.7 306L356.9 301L357.1 293.2L357.2 284.8L357.4 278.3L357.6 276L357.8 278.9L358 287L358.2 298.6L358.4 311.2L358.6 321.3L358.8 325.6L359 322L359.1 310.5L359.3 293.6L359.5 275.6L359.7 262.1L359.9 257.4L360.1 263.1L360.3 277.3L360.5 295.8L360.7 313L360.9 324.6L361 328.1L361.2 323.4L361.4 312.3L361.6 298L361.8 283.5L362 271.9L362.2 265.7L362.4 266.6L362.6 275.3L362.8 290.4L362.9 308.3L363.1 324.6L363.3 334.6L363.5 335L363.7 325.1L363.9 306.6L364.1 284.6L364.3 265.1L364.5 253.9L364.7 253.8L364.8 264.3L365 282L365.2 301.7L365.4 318.7L365.6 328.9L365.8 330.6L366 323.8L366.2 310.6L366.4 294.4L366.6 279.3L366.7 269L366.9 265.9L367.1 270.3L367.3 280.6L367.5 293.9L367.7 306.7L367.9 316L368.1 319.9L368.3 317.7L368.5 310.3L368.6 299.9L368.8 289.4L369 281.7L369.2 278.5L369.4 280L369.6 285.1L369.8 291.8L370 298L370.2 302.3L370.4 303.9L370.5 303.3L370.7 301.2L370.9 298.4L371.1 295.3L371.3 292.2L371.5 289.6L371.7 288.2L371.9 288.7L372.1 291.2L372.3 295.5L372.4 300.4L372.6 304.7L372.8 307L373 306.4L373.2 302.9L373.4 297.5L373.6 291.7L373.8 287.3L374 285.2L374.2 285.9L374.3 289L374.5 293.5L374.7 298.2L374.9 302L375.1 303.9L375.3 304L375.5 302.2L375.7 298.8L375.9 294L376.1 288.7L376.2 284.1L376.4 281.9L376.6 283.4L376.8 288.9L377 297.6L377.2 307.3L377.4 315.1L377.6 318.4L377.8 315.7L378 307.4L378.1 295.1L378.3 281.9L378.5 271.1L378.7 265.8L378.9 268.1L379.1 278.3L379.3 294.4L379.5 312.7L379.7 328.1L379.9 336.1L380 333.7L380.2 320.8L380.4 300.1L380.6 277.1L380.8 258L381 248.4L381.2 251.1L381.4 265.7L381.6 288.4L381.8 313.5L381.9 334.4L382.1 345.6L382.3 344L382.5 329.7L382.7 306.2L382.9 279.5L383.1 256.6L383.3 243.6L383.5 244.2L383.7 258.3L383.8 282.4L384 310L384.2 333.7L384.4 347.4L384.6 347.6L384.8 334.3L385 311.3L385.2 284.6L385.4 261.2L385.6 247L385.7 245.5L385.9 257.1L386.1 278.5L386.3 304L386.5 326.9L386.7 340.9L386.9 342.6L387.1 332.2L387.3 313.1L387.5 290.9L387.6 271.6L387.8 259.7L388 257.8L388.2 265.5L388.4 280.2L388.6 297.9L388.8 313.7L389 323.6L389.2 325.5L389.4 319.5L389.5 308.2L389.7 295.7L389.9 285.3L390.1 279.5L390.3 278.9L390.5 282.4L390.7 288.5L390.9 295.2L391.1 300.9L391.3 304.4L391.4 305.1L391.6 303.3L391.8 300L392 296.5L392.2 293.1L392.4 290L392.6 287.5L392.8 286.5L393 288.4L393.2 293.6L393.3 301.1L393.5 308.7L393.7 313.8L393.9 314.1L394.1 309.3L394.3 300.4L394.5 289.7L394.7 280L394.9 274L395.1 273.3L395.2 278.7L395.4 288.9L395.6 301.6L395.8 313.2L396 320.7L396.2 321.6L396.4 315.7L396.6 304.6L396.8 291.3L397 279.4L397.1 271.9L397.3 270.7L397.5 275.9L397.7 286.1L397.9 298.5L398.1 310L398.3 317.7L398.5 319.5L398.7 315.3L398.9 306.2L399 294.6L399.2 283.3L399.4 275.1L399.6 272.2L399.8 275.4L400 283.9L400.2 295.6L400.4 307.6L400.6 316.7L400.8 320.5L400.9 317.9L401.1 309.5L401.3 297.4L401.5 284.8L401.7 275.2L401.9 271.1L402.1 273.6L402.3 281.7L402.5 293L402.7 304.3L402.8 312.7L403 316.2L403.2 314.3L403.4 308L403.6 299L403.8 289.9L404 282.9L404.2 279.8L404.4 281.2L404.6 286.2L404.7 292.9L404.9 299.1L405.1 303.2L405.3 304.4L405.5 303.2L405.7 300.4L405.9 297.4L406.1 294.5L406.3 291.6L406.5 289L406.6 287.2L406.8 287.9L407 291.8L407.2 298.6L407.4 306.7L407.6 313.5L407.8 316.3L408 313.3L408.2 304.5L408.4 292L408.5 279L408.7 269.2L408.9 265.7L409.1 270L409.3 282.1L409.5 299.7L409.7 318.6L409.9 333.3L410.1 339.1L410.3 333.2L410.4 316.3L410.6 292.4L410.8 268L411 249.9L411.2 243.3L411.4 250.4L411.6 270L411.8 297.5L412 326L412.2 347.7L412.3 356.3L412.5 348.6L412.7 326.5L412.9 296.3L413.1 266.7L413.3 246L413.5 239.2L413.7 247.3L413.9 267.3L414.1 293.4L414.2 318.5L414.4 336.6L414.6 343.5L414.8 337.8L415 321.6L415.2 299.7L415.4 278.2L415.6 262.7L415.8 256.8L416 261.2L416.1 274L416.3 291.2L416.5 308.5L416.7 321.8L416.9 328.1L417.1 326.2L417.3 316.6L417.5 301.6L417.7 285.1L417.9 271.5L418 264.3L418.2 265.2L418.4 274.1L418.6 288.5L418.8 304.8L419 318.8L419.2 327L419.4 327.2L419.6 319.3L419.8 305.1L419.9 288L420.1 272.4L420.3 262.5L420.5 261L420.7 268.6L420.9 283.7L421.1 302.4L421.3 319.8L421.5 331.4L421.7 333.9L421.8 326.6L422 311L422.2 290.9L422.4 271.3L422.6 257.2L422.8 252.7L423 259.4L423.2 276L423.4 298.8L423.6 321.7L423.7 338.8L423.9 345L424.1 338.5L424.3 320.3L424.5 295.4L424.7 270.5L424.9 252.5L425.1 246.1L425.3 252.7L425.5 270.1L425.6 293.6L425.8 316.9L426 334.1L426.2 340.9L426.4 336.1L426.6 321.1L426.8 300L427 278.5L427.2 262.2L427.4 255.3L427.5 259.2L427.7 272.2L427.9 290.4L428.1 308.7L428.3 322.4L428.5 328.3L428.7 325.7L428.9 315.7L429.1 301.4L429.3 286.5L429.4 274.7L429.6 268.9L429.8 270.4L430 278.3L430.2 290.2L430.4 302.6L430.6 312.3L430.8 317L431 316L431.2 310L431.3 300.9L431.5 290.9L431.7 281.8L431.9 275.6L432.1 274L432.3 278.2L432.5 288.3L432.7 302.1L432.9 315.9L433.1 325.6L433.2 327.6L433.4 320.8L433.6 306.6L433.8 288.7L434 271.9L434.2 260.7L434.4 258.5L434.6 266.3L434.8 282.6L435 303.3L435.1 323L435.3 336L435.5 338.4L435.7 329.2L435.9 310.8L436.1 288.4L436.3 268.3L436.5 256.1L436.7 254.8L436.9 264.3L437 281.8L437.2 302.2L437.4 320.3L437.6 331.2L437.8 332.5L438 324.3L438.2 308.8L438.4 289.8L438.6 271.7L438.8 259.1L438.9 255.8L439.1 263.5L439.3 280.7L439.5 303.1L439.7 324.4L439.9 338.5L440.1 341.3L440.3 331.7L440.5 312.1L440.7 287.6L440.8 264.8L441 249.9L441.2 247.3L441.4 257.9L441.6 279.1L441.8 304.9L442 328.2L442.2 342.5L442.4 344L442.6 332.5L442.7 311.3L442.9 286.4L443.1 264.4L443.3 251.3L443.5 250.3L443.7 261.6L443.9 281.8L444.1 305.6L444.3 326.7L444.5 339.3L444.6 340.1L444.8 329L445 308.8L445.2 285.1L445.4 264.4L445.6 252.2L445.8 251.9L446 263.5L446.2 283.8L446.4 307.3L446.5 327.7L446.7 339.2L446.9 338.7L447.1 326.5L447.3 306.3L447.5 284.1L447.7 266.3L447.9 257.4L448.1 259.3L448.3 270.7L448.4 288L448.6 306.1L448.8 320.4L449 327.4L449.2 325.7L449.4 316.1L449.6 301.6L449.8 286.5L450 274.8L450.2 269.6L450.3 271.6L450.5 279.9L450.7 291.7L450.9 304.2L451.1 314.5L451.3 320.2L451.5 319.6L451.7 312.3L451.9 299.7L452.1 285L452.2 272.3L452.4 265.5L452.6 266.8L452.8 276.5L453 292.2L453.2 309.5L453.4 323.7L453.6 330.6L453.8 328L454 316.4L454.1 298.5L454.3 279.1L454.5 263.5L454.7 256.3L454.9 259.9L455.1 273.8L455.3 294.4L455.5 316.3L455.7 333.2L455.9 340.1L456 334.7L456.2 318.2L456.4 295.1L456.6 271.9L456.8 255.1L457 249.5L457.2 256.6L457.4 274.8L457.6 299.1L457.8 322.7L457.9 339.1L458.1 343.5L458.3 334.6L458.5 314.7L458.7 289.6L458.9 266.3L459.1 251.6L459.3 249.4L459.5 260.1L459.7 280.5L459.8 304.8L460 326.1L460.2 338.7L460.4 339.4L460.6 328L460.8 307.6L461 283.5L461.2 262.4L461.4 250.2L461.6 250.7L461.7 264.1L461.9 286.9L462.1 312.5L462.3 333.4L462.5 343.3L462.7 339.5L462.9 323.5L463.1 300.4L463.3 276.8L463.5 259.4L463.6 252.7L463.8 258.1L464 273.8L464.2 295.3L464.4 316.3L464.6 331L464.8 335.4L465 328.9L465.2 313.3L465.4 292.8L465.5 272.6L465.7 258.1L465.9 253.7L466.1 261.3L466.3 279.5L466.5 303.4L466.7 326.2L466.9 340.7L467.1 342.6L467.3 331.1L467.4 309.3L467.6 283.4L467.8 261" fill="none" stroke="#EDB120" stroke-width="1.0" stroke-linejoin="round"/>
</g>
<rect x="73.2" y="420" width="395.8" height="143.4" fill="none" stroke="#262626" stroke-width="1.0"/>
<path d="M152.4 563.4v-4M152.4 420v4M231.5 563.4v-4M231.5 420v4M310.7 563.4v-4M310.7 420v4M389.8 563.4v-4M389.8 420v4M73.2 491.9h4M469 491.9h-4" stroke="#262626" stroke-width="1.0" fill="none"/>
<g clip-path="url(#cpe)">
<path d="M73.2 456.2L73.5 455.9L73.8 455.9L74.1 454.7L74.4 453.7L74.7 453.6L75 454.7L75.3 454.1L75.6 455.2L75.9 455.8L76.2 455.6L76.5 456L76.8 457L77.1 456.5L77.4 456.3L77.7 455.9L78 455.7L78.3 455.6L78.6 452.2L78.9 452.8L79.2 451L79.5 450.6L79.8 450.9L80.1 448.9L80.4 449.2L80.7 449L81 448.6L81.3 448.6L81.6 448.6L81.9 447.2L82.2 448L82.5 448.1L82.8 447.3L83.1 447.7L83.4 446.6L83.7 447.1L84 446.9L84.3 446.1L84.6 448.1L84.9 448.6L85.2 450.5L85.5 452.6L85.8 455.5L86.1 456.8L86.4 458.1L86.7 459.8L87 459.7L87.3 462.6L87.6 464.5L87.9 465.5L88.2 466.6L88.5 468.8L88.8 467.9L89.1 468.4L89.4 469.7L89.7 469L90 471.3L90.3 471.4L90.6 472.3L90.9 473.6L91.2 474.2L91.5 476.7L91.8 478.5L92.1 478.7L92.4 479.4L92.7 479.4L93 479.5L93.3 478.2L93.6 477.6L93.9 475.3L94.2 474.5L94.5 472.6L94.8 469.2L95.1 468.4L95.4 465.9L95.7 463.6L96 462.5L96.3 459.8L96.6 459L96.9 456L97.2 456.1L97.5 454.1L97.8 451.6L98.1 449.7L98.4 449.4L98.7 451.6L99 451.8L99.3 453L99.6 454.9L99.9 453.8L100.2 455.8L100.5 456.1L100.8 458.7L101.1 461.2L101.4 462.9L101.7 463.9L102 463.8L102.3 464.1L102.6 460.4L102.9 460.2L103.2 458.1L103.5 454L103.8 450L104.1 447.8L104.4 446.3L104.7 444.8L105 443.2L105.3 441.7L105.6 439.4L105.9 437.2L106.2 437.2L106.5 436.1L106.8 438.7L107.1 441.8L107.4 445L107.7 448.1L108 455.6L108.3 460.4L108.6 465.6L108.9 473.8L109.2 480.7L109.5 483.1L109.8 484L110.1 480.1L110.4 479.5L110.7 475.1L111 470.4L111.3 466.2L111.6 462.5L111.9 455.4L112.2 451.1L112.5 449.3L112.8 447.6L113.1 447.4L113.4 447.9L113.7 450L114 447.7L114.3 448.1L114.6 447.8L114.9 447.8L115.2 446.8L115.5 446L115.8 443.9L116.1 442.2L116.4 442.2L116.7 440.4L117 440.9L117.3 439.8L117.6 440.2L117.9 439.3L118.2 438.2L118.5 439L118.8 438.8L119.1 437.9L119.4 436.3L119.7 437L120 436.6L120.3 438.5L120.6 439.9L120.9 443.1L121.2 445.4L121.5 447L121.8 447.6L122.1 450L122.4 450.6L122.7 454.9L123 456.7L123.3 459.5L123.6 463.7L123.9 465.3L124.2 467.9L124.5 468.1L124.8 469.2L125.1 469.2L125.4 470.6L125.7 470.9L126 469.4L126.3 467.9L126.6 467L126.9 466.5L127.2 466L127.5 468.1L127.8 469.2L128.1 470.8L128.4 471.7L128.7 471.3L129 472.7L129.3 476L129.6 474.3L129.9 477.9L130.2 477.7L130.5 477.7L130.8 479.2L131.1 480L131.4 480.6L131.7 481.4L132 482.4L132.3 480.6L132.6 480.6L132.9 481L133.2 478.6L133.5 477.3L133.8 477.2L134.1 477L134.4 475.7L134.7 477.1L135 477.3L135.3 478.4L135.6 478L135.9 480L136.2 479.1L136.5 478.4L136.8 479.2L137.1 476.8L137.4 476.8L137.7 473.6L138 471.5L138.3 471L138.6 470.2L138.9 467.4L139.2 466.3L139.5 464.6L139.8 463.7L140.1 463.1L140.4 462.9L140.7 464.5L141 467.2L141.3 467.2L141.6 469.3L141.9 471.4L142.2 472.2L142.5 474.8L142.8 476.2L143.1 475.6L143.4 476.4L143.7 473.1L144 472.1L144.3 469.3L144.6 468.6L144.9 467.5L145.2 466.2L145.5 465.9L145.8 463.8L146.1 462.2L146.4 460.5L146.7 459.8L147 458.7L147.3 458L147.6 458.4L147.9 457.5L148.2 457.5L148.5 457.5L148.8 456.5L149.1 453.1L149.4 450.7L149.7 448.5L150 447.7L150.3 443.6L150.6 441.4L150.9 441.5L151.2 439.6L151.5 437.8L151.8 438L152.1 435.9L152.4 436.3L152.7 435.8L153 435.3L153.3 437.2L153.6 438.4L153.9 439.6L154.2 441.3L154.5 439.9L154.8 441.3L155.1 441.7L155.4 442.4L155.7 443.3L156 445.7L156.3 446.4L156.6 449.4L156.9 450.6L157.2 453.6L157.5 455.2L157.8 456.6L158.1 457.2L158.4 459.9L158.7 459.9L159 462.4L159.3 463L159.6 465L159.9 464.7L160.2 466L160.5 465.4L160.8 462.9L161.1 462.5L161.4 460.1L161.7 460.9L162 460.2L162.3 462L162.6 463.7L162.9 462.5L163.2 464.8L163.5 464.8L163.8 466.2L164.1 468.2L164.4 467L164.7 466.4L165 466L165.3 465.3L165.6 465.9L165.9 465.8L166.2 465.1L166.5 465.5L166.8 463.8L167.1 464.1L167.4 465.2L167.7 467.4L168 467.8L168.3 470L168.6 469.7L168.9 472L169.2 472.9L169.5 474L169.8 476L170.1 477.4L170.4 478.5L170.7 481.5L171 479.1L171.3 480.6L171.6 480.5L171.9 481L172.2 479.7L172.5 479.5L172.8 479.2L173.1 480.3L173.4 479.3L173.7 480.9L174 480.3L174.3 481.7L174.6 482.8L174.9 484L175.2 484.5L175.5 485.4L175.8 487.1L176.1 488.5L176.4 486.8L176.7 488.7L177 487.7L177.3 487.1L177.6 487.2L177.9 485.2L178.2 485.3L178.5 484.1L178.8 484.4L179.1 483.1L179.4 483.5L179.7 483.1L180 482.2L180.3 481.5L180.6 480.9L180.9 481.4L181.2 482.6L181.5 482.3L181.8 484.8L182.1 483.8L182.4 484.8L182.7 484L183 487.1L183.3 484.2L183.6 486.7L183.9 488.3L184.2 487.3L184.5 487.3L184.8 487L185.1 485.2L185.4 487L185.7 486L186 486.5L186.3 487.8L186.6 487.9L186.9 487.9L187.2 490.1L187.5 489.6L187.8 489.2L188.1 489L188.4 489.9L188.7 487.7L189 487.6L189.3 485.7L189.6 485.8L189.9 483.3L190.2 484.8L190.5 482.8L190.8 483.4L191.1 481.1L191.4 480.8L191.7 482.2L192 480.4L192.3 480.3L192.6 480.5L192.9 478.9L193.2 476.9L193.5 475.5L193.8 475.1L194.1 473.4L194.4 472L194.7 470.8L195 471L195.3 469.3L195.6 468.2L195.9 468.6L196.2 464.9L196.5 463.8L196.8 464.4L197.1 463.3L197.4 466.5L197.7 468.2L198 469.6L198.3 471.2L198.6 470.7L198.9 473.3L199.2 474.7L199.5 475.6L199.8 475.9L200.1 477.8L200.4 478.6L200.7 478.3L201 478L201.3 479.6L201.6 479.1L201.9 480.4L202.2 481L202.5 480.3L202.8 478.4L203.1 478.9L203.4 476.5L203.7 476.2L204 475.8L204.3 475.3L204.6 474.4L204.9 474.6L205.2 475.2L205.5 475.9L205.8 478.3L206.1 479.6L206.4 481.5L206.7 482.8L207 484.3L207.3 485.8L207.6 486.2L207.9 488.1L208.2 488.4L208.5 488.2L208.8 488L209.1 489.1L209.4 487.7L209.7 486.7L210 487.7L210.3 486.2L210.6 486.8L210.9 485.9L211.2 485L211.5 486L211.8 484.4L212.1 484.6L212.4 484.3L212.7 483.3L213 484L213.3 484.5L213.6 483.4L213.9 484.7L214.2 485.2L214.5 486.6L214.8 486.7L215.1 486.4L215.4 485.7L215.7 484.2L216 482.7L216.3 480.7L216.6 477.1L216.9 478.8L217.2 478.7L217.5 476.4L217.8 477.3L218.1 476.5L218.4 475.9L218.7 475.6L219 476.1L219.3 477L219.6 478.9L219.9 479.7L220.2 481.3L220.5 483.6L220.8 484.4L221.1 486.4L221.4 486.2L221.7 488.1L222 487.8L222.3 490.6L222.6 489.6L222.9 490.9L223.2 490.9L223.5 490L223.8 488.3L224.1 486.9L224.4 487.3L224.7 484.9L225 485L225.3 484.3L225.6 483.7L225.9 482.3L226.2 483.7L226.5 484.1L226.8 486L227.1 485.5L227.4 485.9L227.7 485.3L228 487.3L228.3 487.4L228.6 487.7L228.9 487.8L229.2 487.1L229.5 488.4L229.8 486.9L230.1 487.6L230.4 487.7L230.7 486.9L231 486.8L231.3 486.4L231.6 484L231.9 483.9L232.2 485L232.5 484.4L232.8 482.6L233.1 484L233.4 483.1L233.7 482.7L234 483.2L234.3 483.2L234.6 483.2L234.9 482.8L235.2 483.8L235.5 482.5L235.8 482.5L236.1 484L236.4 483.4L236.7 485.4L237 487.4L237.3 487.4L237.6 486.2L237.9 485.9L238.2 486.7L238.5 487.4L238.8 486.3L239.1 485.4L239.4 486.2L239.7 487.7L240 486.9L240.3 487.8L240.6 488.1L240.9 488.2L241.2 488.3L241.5 489.3L241.8 490.2L242.1 489.2L242.4 488L242.7 485.9L243 486.3L243.3 484.4L243.6 484L243.9 482.5L244.2 482.4L244.5 483.5L244.8 479.6L245.1 479.3L245.4 477.8L245.7 476L246 473.5L246.3 471.2L246.6 467.8L246.9 465L247.2 462.7L247.5 459.9L247.8 458.1L248.1 453.8L248.4 450.4L248.7 445.8L249 441.7L249.3 439.2L249.6 435.4L249.9 433.5L250.2 432.3L250.5 428.8L250.8 427.2L251.1 428.4L251.4 428.5L251.7 427.6L252 427.8L252.3 428.9L252.6 430.7L252.9 432.6L253.2 433L253.5 434L253.8 435.6L254.1 436.1L254.4 436.9L254.7 439.9L255 441.8L255.3 443.7L255.6 443.6L255.9 445.5L256.2 446.6L256.5 448.4L256.8 448.8L257.1 448.2L257.4 449.4L257.7 448.3L258 449.2L258.3 449L258.6 448.3L258.9 447.6L259.2 446.7L259.5 448.4L259.8 447.4L260.1 450.1L260.4 451.2L260.7 453.5L261 452.7L261.3 453.6L261.6 456.7L261.9 457.2L262.2 458.3L262.5 460.3L262.8 460.3L263.1 461.4L263.4 463.3L263.7 464.7L264 464.1L264.3 463.2L264.6 463.3L264.9 460L265.2 456.6L265.5 455.8L265.8 450.5L266.1 447L266.4 447.2L266.7 443.6L267 443.2L267.3 441L267.6 439.8L267.9 439.2L268.2 438.7L268.5 435.4L268.8 438.7L269.1 439.3L269.4 439.7L269.7 442.5L270 444.4L270.3 447.7L270.6 448.2L270.9 450.2L271.2 452.2L271.5 452.4L271.8 453.7L272.1 456.5L272.4 457.9L272.7 458.5L273 459.4L273.3 461.7L273.6 460.7L273.9 461.3L274.2 462.6L274.5 464.1L274.8 463.8L275.1 464.9L275.4 465.5L275.7 468.5L276 468L276.3 469.8L276.6 469L276.9 468.8L277.2 467.7L277.5 465.7L277.8 466.6L278.1 465.1L278.4 465.8L278.7 465.7L279 466.4L279.3 466.3L279.6 468.6L279.9 468.1L280.2 467.8L280.5 468.5L280.8 470.5L281.1 470.1L281.4 469.3L281.7 467.3L282 468.4L282.3 467.6L282.6 467.4L282.9 466.4L283.2 466.6L283.5 464.9L283.8 464.1L284.1 463.2L284.4 464.4L284.7 462.9L285 462.2L285.3 463.4L285.6 464L285.9 466.9L286.2 464.7L286.5 464.6L286.8 465.1L287.1 465.5L287.4 465.1L287.7 463.5L288 466.5L288.3 466.6L288.6 465.7L288.9 466.4L289.2 468.1L289.5 466.3L289.8 466.3L290.1 467.5L290.4 466.8L290.7 467.1L291 468.4L291.3 465.8L291.6 463.2L291.9 461.7L292.2 461.9L292.5 460.4L292.8 458L293.1 456.5L293.4 456.2L293.7 454.3L294 451.4L294.3 450.8L294.6 448.7L294.9 447.7L295.2 445L295.5 444.5L295.8 443.1L296.1 443L296.4 444.3L296.7 444.5L297 447.3L297.3 449.6L297.6 452.5L297.9 456.3L298.2 460.4L298.5 465.8L298.8 470.6L299.1 474.4L299.4 479.1L299.7 481.3L300 484.2L300.3 483.3L300.6 481.2L300.9 481.7L301.2 480.4L301.5 476.9L301.8 476.3L302.1 472.5L302.4 471.5L302.7 470.5L303 470.7L303.3 467.6L303.6 469.7L303.9 469.3L304.2 467.8L304.5 468.9L304.8 466.7L305.1 465.7L305.4 463.8L305.7 462L306 459.5L306.3 456.9L306.6 456.3L306.9 453.9L307.2 453.1L307.5 451.9L307.8 451.2L308.1 450.1L308.4 449.4L308.7 448.2L309 448L309.3 447.7L309.6 448.4L309.9 449.2L310.2 448.3L310.5 448.4L310.8 450.6L311.1 451.8L311.4 451.6L311.7 451.6L312 452.1L312.3 454L312.6 455.8L312.9 456.1L313.2 456.5L313.5 458L313.8 457.7L314.1 458.9L314.4 457.4L314.7 455.9L315 456.9L315.3 456.2L315.6 454.7L315.9 452.6L316.2 454L316.5 453.7L316.8 452L317.1 452.6L317.4 453.6L317.7 453.2L318 451.7L318.3 454.4L318.6 454.8L318.9 453.7L319.2 454.6L319.5 454.1L319.8 456.1L320.1 456.5L320.4 457.1L320.7 459.1L321 459.8L321.3 461.4L321.6 462.1L321.9 463.9L322.2 464.6L322.5 463.8L322.8 462.6L323.1 461.8L323.4 461.3L323.7 460.9L324 460.2L324.3 460L324.6 457.8L324.9 456.3L325.2 453.2L325.5 452.7L325.8 451.7L326.1 451.7L326.4 455.2L326.7 456L327 457.8L327.3 460.1L327.6 464L327.9 465.8L328.2 468.6L328.5 470.5L328.8 470.7L329.1 471.3L329.4 468L329.7 467.1L330 465.9L330.3 462.3L330.6 460.1L330.9 459.1L331.2 458.1L331.5 456.2L331.8 454.1L332.1 454.5L332.4 450.3L332.7 448.6L333 447.4L333.3 444.4L333.6 443.4L333.9 442.6L334.2 440.1L334.5 439.3L334.8 439.9L335.1 440L335.4 439.5L335.7 437.6L336 438.1L336.3 435.1L336.6 436.8L336.9 435.1L337.2 434.9L337.5 435.4L337.8 435.4L338.1 438.4L338.4 439.8L338.7 442.8L339 445.7L339.3 446.8L339.6 451.7L339.9 457L340.2 461.9L340.5 469L340.8 474.4L341.1 477.8L341.4 482L341.7 483.5L342 485.1L342.3 482.7L342.6 480.7L342.9 479.4L343.2 474.7L343.5 471.1L343.8 467.4L344.1 463.3L344.4 458L344.7 457.3L345 454.6L345.3 452L345.6 450.1L345.9 449.2L346.2 445.3L346.5 443.4L346.8 441.6L347.1 442.6L347.4 443L347.7 441.6L348 442.9L348.3 442.1L348.6 442.5L348.9 442.2L349.2 443L349.5 442.6L349.8 444.3L350.1 442.4L350.4 443.9L350.7 445.1L351 445.4L351.3 445L351.6 445.5L351.9 446.3L352.2 445.3L352.5 446.5L352.8 449.5L353.1 450.3L353.4 453L353.7 454.5L354 457.4L354.3 457.4L354.6 461.3L354.9 463.1L355.2 469L355.5 472.3L355.8 478L356.1 480.6L356.4 484.6L356.7 486.6L357 487.2L357.3 487.2L357.6 486.5L357.9 486.6L358.2 485.8L358.5 483L358.8 479.4L359.1 477.2L359.4 470.4L359.7 463.7L360 460.2L360.3 455.9L360.6 452.7L360.9 452.4L361.2 454.2L361.5 456.1L361.8 457.5L362.1 460.2L362.4 462.8L362.7 463.7L363 462.5L363.3 459.7L363.6 458L363.9 455.5L364.2 452L364.5 451.3L364.8 451.2L365.1 452.1L365.4 454.1L365.7 459.3L366 464.4L366.3 470.9L366.6 475.9L366.9 483.2L367.2 486.5L367.5 487.1L367.8 483.9L368.1 481.5L368.4 480.4L368.7 477.3L369 475.2L369.3 475.6L369.6 476.6L369.9 480.3L370.2 484.1L370.5 484.8L370.8 485.9L371.1 488.6L371.4 489L371.7 487.8L372 488.6L372.3 486.2L372.6 486.4L372.9 483.7L373.2 483.4L373.5 482.3L373.8 481.6L374.1 482.3L374.4 483L374.7 481.8L375 483.9L375.3 482.2L375.6 484.2L375.9 484.4L376.2 483.5L376.5 482.5L376.8 480.6L377.1 479.7L377.4 476.7L377.7 473.3L378 471.1L378.3 469.6L378.6 466.9L378.9 466.3L379.2 463.6L379.5 461.5L379.8 459.9L380.1 457.9L380.4 454.6L380.7 452.1L381 449.2L381.3 448L381.6 445L381.9 442.7L382.2 443.1L382.5 442.1L382.8 441.8L383.1 440.4L383.4 442.1L383.7 438.7L384 438.8L384.3 438.8L384.6 438.2L384.9 437.3L385.2 437.7L385.5 437.4L385.8 437.2L386.1 438.5L386.4 439L386.7 439.6L387 441.7L387.3 444.1L387.6 444.8L387.9 445.9L388.2 450L388.5 451.8L388.8 454.1L389.1 455.9L389.4 458.9L389.7 460.8L390 461.8L390.3 465.9L390.6 470.9L390.9 474.2L391.2 479L391.5 481.7L391.8 487.2L392.1 488.5L392.4 489.6L392.7 490.9L393 490.9L393.3 490.8L393.6 489.8L393.9 487.3L394.2 483.1L394.5 480.3L394.8 476.3L395.1 471.7L395.4 471.6L395.7 469.5L396 469L396.3 467.9L396.6 468.2L396.9 468.3L397.2 467.9L397.5 468.5L397.8 469.8L398.1 468.6L398.4 466.7L398.7 466.9L399 468.3L399.3 469.8L399.6 469.6L399.9 467.4L400.2 467.8L400.5 467.4L400.8 469.4L401.1 469.2L401.4 468.5L401.7 468.6L402 466.9L402.3 467.7L402.6 467.1L402.9 468.8L403.2 470.7L403.5 471.5L403.8 473.3L404.1 475.2L404.4 477.5L404.7 479.6L405 483.8L405.3 486.6L405.6 488L405.9 488.8L406.2 488L406.5 488.8L406.8 489.2L407.1 487.9L407.4 487L407.7 483.6L408 480.5L408.3 477L408.6 473.2L408.9 469.2L409.2 466.2L409.5 464.2L409.8 459.4L410.1 457.3L410.4 452.6L410.7 449.2L411 444.7L411.3 443.2L411.6 440.9L411.9 439.1L412.2 436.7L412.5 435.7L412.8 434.7L413.1 432.6L413.4 430.7L413.7 430.5L414 430.9L414.3 433.9L414.6 436.1L414.9 438.9L415.2 443.4L415.5 443.7L415.8 448.4L416.1 449.1L416.4 452.3L416.7 453.4L417 454.9L417.3 456.8L417.6 459.2L417.9 459.7L418.2 458.7L418.5 459.4L418.8 459.3L419.1 459L419.4 461.9L419.7 459.7L420 458.4L420.3 457.3L420.6 457.4L420.9 457.8L421.2 456.1L421.5 455.1L421.8 456.4L422.1 455.5L422.4 453.9L422.7 452.8L423 452.9L423.3 452.1L423.6 450.3L423.9 448.5L424.2 446.4L424.5 445.7L424.8 444.1L425.1 442.6L425.4 441.2L425.7 442.8L426 444.4L426.3 443.5L426.6 445L426.9 445.6L427.2 445.9L427.5 446.9L427.8 449.6L428.1 451.1L428.4 452.2L428.7 454.4L429 455.8L429.3 459.4L429.6 462.3L429.9 464.4L430.2 466.4L430.5 469.1L430.8 472L431.1 475.2L431.4 479L431.7 483.8L432 486.6L432.3 488.9L432.6 489.8L432.9 489.7L433.2 487.5L433.5 484.6L433.8 481.9L434.1 474.1L434.4 468.3L434.7 463.2L435 458L435.3 455L435.6 451.9L435.9 451L436.2 448.8L436.5 448.6L436.8 449.9L437.1 449.7L437.4 449.4L437.7 450.6L438 451.9L438.3 453.7L438.6 454L438.9 453.6L439.2 453.4L439.5 453L439.8 452.5L440.1 450.5L440.4 449.2L440.7 448.2L441 446.7L441.3 445.1L441.6 444.4L441.9 441.8L442.2 440.8L442.5 440.4L442.8 442L443.1 442.6L443.4 442.7L443.7 443.9L444 444.4L444.3 445.1L444.6 446.5L444.9 444.7L445.2 446.8L445.5 446.9L445.8 445.3L446.1 446.9L446.4 445.4L446.7 445.9L447 445.8L447.3 446.5L447.6 448L447.9 449L448.2 449.5L448.5 451.4L448.8 454.3L449.1 456.2L449.4 457.7L449.7 458.5L450 459.5L450.3 460.5L450.6 462.8L450.9 463L451.2 465L451.5 465.7L451.8 468.1L452.1 466.9L452.4 465.8L452.7 466.4L453 462.7L453.3 461.5L453.6 459.7L453.9 459.1L454.2 457.5L454.5 457.8L454.8 456.6L455.1 454L455.4 452.2L455.7 452.2L456 449.1L456.3 448.2L456.6 447.6L456.9 448.3L457.2 446.3L457.5 446.4L457.8 445.6L458.1 445.9L458.4 446L458.7 445.9L459 445.4L459.3 443.8L459.6 444.7L459.9 444.8L460.2 444.9L460.5 446.4L460.8 448.6L461.1 448L461.4 447.7L461.7 445.8L462 445.6L462.3 445.6L462.6 444.5L462.9 443.4L463.2 443.2L463.5 444.7L463.8 445L464.1 447.6L464.4 447.3L464.7 447.5L465 451.1L465.3 450.1L465.6 450.8L465.9 451.5L466.2 452.4L466.5 452.6L466.8 451.7L467.1 450.3L467.4 448.3L467.7 445.2L468 444.1L468.3 443.2L468.6 443.8L468.9 443.3" fill="none" stroke="#D95319" stroke-width="1.15" stroke-linejoin="round"/>
<path d="M73.2 490.5L73.6 490.2L74 489.8L74.4 490.5L74.8 490.2L75.2 491L75.6 490.7L76 490.9L76.4 491L76.8 490.5L77.2 490.9L77.6 491.1L78 491.5L78.4 492.1L78.8 492.4L79.2 492.8L79.6 492.8L80 492.6L80.4 492.1L80.8 492.1L81.2 491L81.6 490.8L82 490.7L82.4 491.3L82.8 491.4L83.2 491.2L83.6 491.8L84 491.5L84.4 491.8L84.8 492L85.2 492.3L85.6 492.4L86 492.7L86.4 493.3L86.8 492.9L87.2 493.7L87.6 494.3L88 493.4L88.4 492.8L88.8 493.2L89.2 494.5L89.6 494.1L90 492.8L90.4 486.6L90.8 497L91.2 492.5L91.6 492.8L92 494L92.4 493.5L92.8 492.6L93.2 493.2L93.6 495.6L94 495.4L94.4 494.2L94.8 492.3L95.2 492.9L95.6 494.4L96 495.6L96.4 495.8L96.8 493.6L97.2 492.8L97.6 493.9L98 494.5L98.4 492.9L98.8 491.5L99.2 490.9L99.6 489.8L100 490.3L100.4 490.6L100.8 490.5L101.2 491.3L101.6 492.5L102 493.9L102.4 495L102.8 493.8L103.2 491.9L103.6 490.9L104 491.2L104.4 486.9L104.8 496.9L105.2 490.3L105.6 491.7L106 492L106.4 491.1L106.8 491.3L107.2 492.7L107.6 493.2L108 493.2L108.4 493.7L108.8 493.2L109.2 493.1L109.6 494.8L110 493.9L110.4 493.1L110.8 492.8L111.2 492.3L111.6 492.5L112 494.1L112.4 496.1L112.8 487.9L113.2 494.9L113.6 492.3L114 490.9L114.4 490.2L114.8 491.2L115.2 491.4L115.6 490.8L116 491L116.4 490.6L116.8 491.6L117.2 491.9L117.6 492.1L118 491.7L118.4 491.7L118.8 491.2L119.2 490.8L119.6 491L120 492.3L120.4 492.1L120.8 493.4L121.2 493.8L121.6 494.3L122 494.3L122.4 494.2L122.8 493.2L123.2 492.4L123.6 492.5L124 492.3L124.4 492.1L124.8 492.2L125.2 492.3L125.6 492.3L126 492.1L126.4 492.2L126.8 491.7L127.2 491.3L127.6 490.8L128 491.2L128.4 491.3L128.8 491.7L129.2 492.3L129.6 490.6L130 488.9L130.4 489.7L130.8 487.9L131.2 497L131.6 492.9L132 493.4L132.4 493.4L132.8 491.9L133.2 492L133.6 493.8L134 493.3L134.4 490.5L134.8 489.1L135.2 488.8L135.6 488.5L136 486.9L136.4 495.9L136.8 491.8L137.2 492.6L137.6 492.7L138 492.2L138.4 491.9L138.8 492.4L139.2 493.1L139.6 493L140 492.3L140.4 491.8L140.8 492.1L141.2 491.3L141.6 492.1L142 493.7L142.4 493.8L142.8 492.7L143.2 492.6L143.6 485.9L144 496.9L144.4 490.8L144.8 489.5L145.2 489.4L145.6 489.7L146 490.6L146.4 491.6L146.8 491.6L147.2 491.2L147.6 491.1L148 491.5L148.4 490.5L148.8 490.4L149.2 490.6L149.6 490.9L150 491.3L150.4 491.5L150.8 492.1L151.2 492.1L151.6 492.3L152 492.1L152.4 492.4L152.8 492.5L153.2 492.9L153.6 492.2L154 491.6L154.4 492.5L154.8 491L155.2 491.4L155.6 491.8L156 491.8L156.4 492.1L156.8 492L157.2 491.4L157.6 491.6L158 491.4L158.4 491.6L158.8 491.7L159.2 492L159.6 491.8L160 491.9L160.4 491.2L160.8 491.4L161.2 491L161.6 491L162 491.6L162.4 492.8L162.8 492.6L163.2 493.9L163.6 492.8L164 493.7L164.4 492.9L164.8 492.3L165.2 492.4L165.6 492.8L166 492.7L166.4 492.3L166.8 493L167.2 492.1L167.6 491.6L168 491.1L168.4 491.1L168.8 491.1L169.2 491.4L169.6 490.8L170 491.6L170.4 491.9L170.8 491.9L171.2 491.6L171.6 492.5L172 492L172.4 492.9L172.8 494.1L173.2 494L173.6 495.2L174 494.4L174.4 493.6L174.8 492.5L175.2 492.2L175.6 492.9L176 491.4L176.4 490.1L176.8 488.2L177.2 487.2L177.6 486.4L178 488.7L178.4 490.2L178.8 492.2L179.2 494.6L179.6 494.1L180 493.4L180.4 492L180.8 491.7L181.2 491.3L181.6 490.8L182 491.7L182.4 491.9L182.8 491.4L183.2 491.9L183.6 492L184 493L184.4 492.3L184.8 493.2L185.2 492.6L185.6 491.4L186 490L186.4 490.7L186.8 493.8L187.2 494L187.6 491.5L188 489.4L188.4 489.1L188.8 490.5L189.2 490.6L189.6 490L190 491.5L190.4 492.3L190.8 493L191.2 492.2L191.6 492.4L192 491.3L192.4 491.3L192.8 491.5L193.2 491.9L193.6 492L194 492.1L194.4 492.1L194.8 492.2L195.2 492.4L195.6 492.4L196 492.8L196.4 493.3L196.8 493.3L197.2 493.5L197.6 493.9L198 493.1L198.4 493.6L198.8 493L199.2 492L199.6 491.5L200 490.6L200.4 492.4L200.8 487.9L201.2 496.9L201.6 494.3L202 494.4L202.4 493.9L202.8 493L203.2 492.6L203.6 491.8L204 492.1L204.4 492L204.8 491.8L205.2 491.5L205.6 491.1L206 491.4L206.4 492.6L206.8 494L207.2 493.8L207.6 492.6L208 492.1L208.4 492L208.8 492.2L209.2 491.7L209.6 492.3L210 493.4L210.4 493.6L210.8 491.2L211.2 490.3L211.6 490.8L212 491.8L212.4 491.6L212.8 491.3L213.2 491.3L213.6 490.6L214 490.7L214.4 490.5L214.8 491L215.2 491.2L215.6 491.5L216 490.9L216.4 491.4L216.8 492.3L217.2 491.8L217.6 491.4L218 491.4L218.4 491.2L218.8 490.8L219.2 490.7L219.6 491.2L220 492.2L220.4 492L220.8 492L221.2 492.5L221.6 490.9L222 490.5L222.4 489.9L222.8 489.7L223.2 489.4L223.6 490.2L224 491.6L224.4 491.5L224.8 491.3L225.2 492.8L225.6 493.5L226 492.3L226.4 492.2L226.8 493.7L227.2 495.4L227.6 497.8L228 499L228.4 498.1L228.8 495.4L229.2 490.2L229.6 488.2L230 488.7L230.4 490.1L230.8 492L231.2 491.3L231.6 491.5L232 492L232.4 492.3L232.8 492.4L233.2 493.6L233.6 494L234 493.3L234.4 493.2L234.8 492.9L235.2 492.3L235.6 492.3L236 492.4L236.4 492.5L236.8 492.6L237.2 493L237.6 493.4L238 493.1L238.4 493.1L238.8 493.3L239.2 493.1L239.6 493L240 492.5L240.4 492.2L240.8 491.7L241.2 491.1L241.6 490.9L242 491.4L242.4 492L242.8 492L243.2 493.7L243.6 494.7L244 495.1L244.4 494.1L244.8 493.7L245.2 494.7L245.6 489L246 496.3L246.4 495.3L246.8 493.7L247.2 493.1L247.6 486.9L248 494.9L248.4 494.5L248.8 494.1L249.2 492.8L249.6 492.4L250 492.3L250.4 492.1L250.8 492L251.2 491.5L251.6 491.5L252 490.7L252.4 491.2L252.8 491.9L253.2 492.1L253.6 492.4L254 493L254.4 492.9L254.8 492.9L255.2 492.6L255.6 492.2L256 492.3L256.4 491.1L256.8 491L257.2 490.8L257.6 489.4L258 490.1L258.4 490L258.8 490.1L259.2 490.3L259.6 489.7L260 490.9L260.4 490.4L260.8 491.1L261.2 490.9L261.6 491.5L262 491.9L262.4 492.6L262.8 492L263.2 491.3L263.6 491.3L264 491.8L264.4 491L264.8 491.8L265.2 486.9L265.6 495.9L266 493.9L266.4 492.8L266.8 491.4L267.2 491.3L267.6 491.3L268 490.7L268.4 491.5L268.8 491.9L269.2 491.9L269.6 491.4L270 491.4L270.4 491.3L270.8 490.7L271.2 490.7L271.6 490.9L272 491L272.4 490.3L272.8 490.8L273.2 490.5L273.6 490.9L274 491.3L274.4 491.6L274.8 491.3L275.2 492.2L275.6 492.3L276 492.6L276.4 492.6L276.8 492.9L277.2 492.6L277.6 492.9L278 492.2L278.4 491.9L278.8 491.6L279.2 491.6L279.6 490.9L280 490.7L280.4 491.6L280.8 492L281.2 491.8L281.6 492.3L282 492.2L282.4 492L282.8 492.5L283.2 491.7L283.6 492.2L284 492.3L284.4 492.1L284.8 491.5L285.2 492L285.6 491.6L286 491.8L286.4 491.3L286.8 491.4L287.2 491.3L287.6 491.9L288 492.3L288.4 493.2L288.8 492.8L289.2 492.6L289.6 492.6L290 492.3L290.4 492L290.8 491.8L291.2 492.2L291.6 491.7L292 491.3L292.4 491.2L292.8 491.7L293.2 492.4L293.6 492.2L294 492.4L294.4 492L294.8 491.8L295.2 491.6L295.6 490.9L296 490.9L296.4 491.2L296.8 491.9L297.2 492.2L297.6 491.6L298 491.3L298.4 491.4L298.8 492.7L299.2 493.8L299.6 493L300 492.4L300.4 492.5L300.8 493.3L301.2 491L301.6 489.7L302 491.7L302.4 492.4L302.8 487.9L303.2 494.9L303.6 491.7L304 492L304.4 491.7L304.8 493.5L305.2 492.4L305.6 491.9L306 491.5L306.4 490.9L306.8 491.4L307.2 491.3L307.6 491.2L308 489.9L308.4 491.2L308.8 490.6L309.2 490.5L309.6 491.1L310 491.8L310.4 491.9L310.8 492.2L311.2 491.9L311.6 491.8L312 491.8L312.4 491.5L312.8 490.5L313.2 491.4L313.6 491.7L314 491.1L314.4 492.6L314.8 493.2L315.2 493.6L315.6 493.5L316 494.1L316.4 494L316.8 494.6L317.2 493.9L317.6 493.5L318 493.2L318.4 492.7L318.8 493L319.2 494.3L319.6 494.1L320 493.8L320.4 493.4L320.8 492.8L321.2 492.3L321.6 492.7L322 492.6L322.4 491.5L322.8 491.8L323.2 492.2L323.6 492L324 492.2L324.4 492.8L324.8 493L325.2 492.5L325.6 493.3L326 493L326.4 493.2L326.8 493.3L327.2 492.4L327.6 493.5L328 490.9L328.4 490.4L328.8 487.9L329.2 495.9L329.6 490.9L330 490.3L330.4 490.1L330.8 490.3L331.2 490.1L331.6 490.1L332 491.3L332.4 491.8L332.8 492.6L333.2 493.1L333.6 494L334 494.2L334.4 493.4L334.8 493.7L335.2 492.4L335.6 491.7L336 492L336.4 490.9L336.8 490.8L337.2 491.5L337.6 491.3L338 491.8L338.4 492.4L338.8 492.3L339.2 490.9L339.6 490.1L340 491.1L340.4 490.6L340.8 488.9L341.2 496.6L341.6 488.3L342 489.7L342.4 489.8L342.8 489.5L343.2 490.8L343.6 487.9L344 493.9L344.4 489.6L344.8 491.5L345.2 492.7L345.6 493.1L346 493L346.4 492.9L346.8 492.2L347.2 492L347.6 491.6L348 492.4L348.4 491.5L348.8 491.4L349.2 491.5L349.6 491.5L350 490.6L350.4 490.9L350.8 490.2L351.2 490.8L351.6 491.1L352 491.3L352.4 491.6L352.8 491.4L353.2 491.2L353.6 491.2L354 490.7L354.4 490.4L354.8 490.8L355.2 492.8L355.6 494.6L356 494.6L356.4 494.1L356.8 492.8L357.2 491.7L357.6 490.7L358 490.8L358.4 491.2L358.8 491.6L359.2 491.2L359.6 492.4L360 495L360.4 493.5L360.8 490.6L361.2 489.6L361.6 486.9L362 498L362.4 489.7L362.8 490.6L363.2 491.6L363.6 491.3L364 490.6L364.4 491.2L364.8 490.6L365.2 491.4L365.6 493.4L366 493.1L366.4 489.6L366.8 488.5L367.2 489.7L367.6 489.3L368 487.4L368.4 486.8L368.8 490.6L369.2 492.5L369.6 491.7L370 490.6L370.4 490.3L370.8 488.8L371.2 488L371.6 488.4L372 490L372.4 487.4L372.8 486.8L373.2 489.2L373.6 491.5L374 492.7L374.4 492.2L374.8 486.9L375.2 495.9L375.6 491.8L376 491.4L376.4 492L376.8 493.2L377.2 494.5L377.6 494.3L378 493.3L378.4 493.6L378.8 493.9L379.2 493.6L379.6 493.3L380 492.4L380.4 492.2L380.8 491.3L381.2 491.3L381.6 490.7L382 491L382.4 491L382.8 491.3L383.2 491.9L383.6 491.6L384 492.1L384.4 492.5L384.8 493.1L385.2 493.2L385.6 493L386 492.6L386.4 491.3L386.8 491.5L387.2 491.1L387.6 491.2L388 491.4L388.4 491.6L388.8 491.9L389.2 492.7L389.6 493L390 492.9L390.4 492.7L390.8 491.9L391.2 492.2L391.6 493.6L392 495.3L392.4 495.7L392.8 494.4L393.2 493.6L393.6 493.1L394 493.8L394.4 493.9L394.8 492.7L395.2 491.4L395.6 492.4L396 491.3L396.4 491.5L396.8 491.4L397.2 491.5L397.6 492L398 491.8L398.4 491.2L398.8 491.9L399.2 492.2L399.6 492.2L400 492.2L400.4 492.5L400.8 492.2L401.2 492.2L401.6 492.9L402 492.8L402.4 493.9L402.8 493.3L403.2 492L403.6 492.4L404 493.5L404.4 496.1L404.8 496.9L405.2 496.4L405.6 492.6L406 489.8L406.4 491L406.8 492.2L407.2 490.8L407.6 488.7L408 488.8L408.4 490.1L408.8 492L409.2 491.9L409.6 492.2L410 492.3L410.4 492.1L410.8 491.8L411.2 492.6L411.6 491.4L412 491.5L412.4 491.2L412.8 490.2L413.2 490.2L413.6 489.6L414 490L414.4 489.8L414.8 489.4L415.2 489L415.6 489.6L416 489.5L416.4 489.9L416.8 489.4L417.2 489.5L417.6 490.3L418 488.9L418.4 495.9L418.8 493.3L419.2 490.6L419.6 488.8L420 489.1L420.4 490.3L420.8 490.2L421.2 490.7L421.6 490.7L422 491.6L422.4 491.9L422.8 492L423.2 492.1L423.6 492.9L424 492.5L424.4 492.1L424.8 491.6L425.2 491.4L425.6 490.9L426 490.9L426.4 491L426.8 490.8L427.2 490.7L427.6 491.1L428 490.9L428.4 490.3L428.8 489.9L429.2 491.5L429.6 491.5L430 490.9L430.4 490.6L430.8 490L431.2 491.3L431.6 494.1L432 495.9L432.4 494.9L432.8 492.5L433.2 489.9L433.6 490L434 490.6L434.4 490L434.8 489.7L435.2 489.6L435.6 490.6L436 490.8L436.4 492.1L436.8 492.7L437.2 493.3L437.6 493.7L438 494L438.4 494.1L438.8 487.9L439.2 494.9L439.6 492.4L440 492.1L440.4 491.8L440.8 492.4L441.2 492.9L441.6 493.4L442 494.1L442.4 493.5L442.8 493L443.2 492.7L443.6 492.6L444 492L444.4 492L444.8 490.6L445.2 491.4L445.6 491.3L446 491.6L446.4 492L446.8 491.3L447.2 490.7L447.6 490.6L448 489.9L448.4 489.6L448.8 489.6L449.2 489.1L449.6 489.7L450 491.8L450.4 492.9L450.8 492.5L451.2 489.9L451.6 496.9L452 493.2L452.4 492.3L452.8 490L453.2 488.9L453.6 488.7L454 489.8L454.4 490.5L454.8 490.9L455.2 490.7L455.6 491.5L456 491.4L456.4 491.3L456.8 491.5L457.2 492.1L457.6 492.6L458 492.2L458.4 492.7L458.8 492.6L459.2 492.8L459.6 491.8L460 491.7L460.4 492.1L460.8 492.4L461.2 492.4L461.6 491.9L462 491.1L462.4 491.3L462.8 491.8L463.2 491.2L463.6 490.8L464 488.9L464.4 494.9L464.8 491.6L465.2 493.3L465.6 493.6L466 492.9L466.4 492.2L466.8 492.6L467.2 492.5L467.6 491.7L468 491.6L468.4 491.5L468.8 490.9" fill="none" stroke="#0072BD" stroke-width="1.7" stroke-linejoin="round"/>
<path d="M94.5 491.9L94.9 484.9L95.2 495.9L95.7 491.9M109.3 491.9L109.7 482.9L110 501.9L110.5 491.9M177.1 491.9L177.5 488.9L177.8 498.9L178.3 491.9M187.6 491.9L188 479.9L188.3 517.4L188.8 491.9M207.8 491.9L208.2 472.9L208.6 505.9L209 491.9M222.4 491.9L222.8 479.9L223.2 544.4L223.6 491.9M227.9 491.9L228.3 488.9L228.7 499.9L229.1 491.9M299.7 491.9L300.1 479.9L300.4 502.9L300.9 491.9M357.1 491.9L357.5 477.9L357.9 506.9L358.3 491.9M367 491.9L367.4 484.9L367.8 533.9L368.2 491.9M371 491.9L371.4 484.9L371.8 503.9L372.2 491.9M392.4 491.9L392.8 464.9L393.1 521.9L393.6 491.9M405.8 491.9L406.2 447.9L406.6 500.9L407 491.9M432.2 491.9L432.6 419.9L432.9 563.9L433.4 491.9" fill="none" stroke="#0072BD" stroke-width="1.05" stroke-linejoin="miter"/>
</g>
<rect x="536.3" y="234.4" width="124.4" height="124.2" fill="none" stroke="#262626" stroke-width="1.0"/>
<g clip-path="url(#cpd)">
<path d="M543.3 348.9L544.3 347.8L546.6 348L547.7 347L547.9 345.2L549.1 344.5L550.4 344.2L550.9 343.2L549.2 340.6L547.7 338.4L548 338.3L548.9 338.7L548 336.9L547.9 335.1L549.5 334.1L551 332.5L555.6 333.7L557.1 332.2L558.4 330.8L558.8 328.8L561.1 329L562.9 328.4L563.6 326.3L562.1 321.6L564.2 320.1L568 319.8L571 318.5L572.7 315.4L572.8 310.9L575.6 309.1L578.6 307.6L583.1 307.6L585.6 305.3L590 304.6L591.6 300.7L594.9 298.1L597.1 294.1L599.9 290.5L602.8 286.9L606.2 283.8L609.9 281.2L614.2 279.3L614.6 273.9L617.2 271.3L618.1 267.6L619.9 265.5L623.2 265.5L624.9 264.7L626.3 264.2L627 263.8L627.2 263.9L626.8 264.5L626.3 266.3L625.3 268.5L624 270.9L621.3 272.1L617.2 271.6L614.4 272.2L611.8 273L610.5 275.5L606.9 276.7L605.2 280.5L603.3 285.1L600.9 289.6L596.3 292.3L592.6 295.7L588.8 299L586.2 303.3L583.3 307.1L578.7 309L574.8 311.4L571.6 314.6L569.3 318.7L566.1 321.7L562.8 324.6L559.5 327.2L556.5 329.9L551.7 330.6L548.4 332.7L547.2 336.8L545.9 340.7L543 342.7L540.4 344.7L539.3 348L538 350.9L536.3 353.4L536.3 355.3L536.3 355.6L536.3 355.7L536.3 354.3L538.2 353.9L539.4 351.2L542.6 350.5L544.2 348.4L546.4 347.7L546.7 346.1L548.2 346.9L549.1 348.4L548.6 349.5L548.3 351.6L546.1 352.4L542.8 352.3L539.9 352.6L538.1 353.9L536.6 355L536.3 355.3L536.3 355.9L536.3 356L536.3 356.6L536.3 356.4L536.4 354.8L536.5 353.1L536.5 351.2L538.2 351L539.6 350.6L540.9 349.9L543 350.1L544.4 349.2L547.1 349.5L548.1 348.1L549.8 347.6L551.6 347.5L553 347.6L553.1 346.9L552.2 345.6L552.4 345.6L553.6 347.1L554 348.1L553.7 349L552.1 349.4L548.9 349.2L546.3 350.7L544.2 353.6L540.6 355.7L540 357.6L543 355.8L546 353.2L547.4 348.5L550.3 344.7L553.9 341.2L558.2 338.4L560 333L563.5 329.7L566.1 325.8L569.6 323.1L574.6 322.1L576.7 318.1L579.9 315.3L584.1 313.4L586.4 310L589.4 307.7L591.9 305.9L596.7 307.5L600.1 309L600.3 308.5L598 306.5L595.4 305.4L593.1 305.5L591.8 307.4L589.5 309L587.3 311.3L585.3 314L581.5 315L579.7 318.1L576.8 320.3L574 322.7L568.9 323.1L563.7 323.6L562 328L559.3 331.6L554.7 333.5L552.1 337.7L547.4 339.7L544.6 343.5L541.3 346.7L539.1 350.9L538.7 351.3L540.9 348.5L543.8 347.2L547.1 347L549.9 346.7L551.5 345.4L553 343.8L554.9 342.7L557.4 342.1L559.7 341.2L561.9 340.2L563.1 338.2L563.8 335.9L565.5 335L567.5 335L566 332.4L566.4 332.5L563.5 330.1L564 331.4L564 332.4L565.3 334.2L567.2 336.3L567 335.8L566.1 334.4L565.5 333L564.4 331.3L564.4 330.7L564 329.9L562.8 328.5L562.7 328.7L562.4 329.2L562.6 330.9L561.1 331.6L560.8 334.2L558.1 335L554.9 335.8L551.9 336.9L549.4 338.9L547.5 341.8L545.7 345.3L542.7 348.1L539.2 351L536.3 354.9L536.3 356.7L538.2 355.5L539.5 353.6L540.5 351.3L542.5 349.8L544.4 348L546.9 346.7L549.4 345.5L552.8 345.3L554.3 343.6L556.4 343L558.4 343L559.7 342.8L559.7 342L559.7 341.6L560.4 342.4L558.9 341.3L560 343L559.7 343.3L559.3 343.7L558.7 344.2L557.9 344.9L556.8 345.6L556.4 347.5L554.7 348.2L553.1 349.1L549.5 348.3L548.9 350.7L548.1 353.2L545.2 354.3L542.8 356.3L538.4 356.7L537.9 355.4L540.4 354.5L541.6 352L545 351.3L548.5 350.4L550.5 348.1L552.1 345.5L554.4 343.9L558.3 344.4L560.8 343.8L562.5 342.7L561.9 339.5L563.4 338.5L563.8 336.1L565.4 334.8L569.1 335.3L569.5 332.5L570.7 330.6L572 329.2L572.4 327.4L571.6 325.3L570.9 323.9L570 322.7L569.6 322.2L569.7 322.2L570.1 322.6L569.6 322.2L569.2 322.1L567.6 321.2L567.3 321.8L566.4 322L565.7 322.3L564.6 322.2L563.4 322L564.4 324.4L561.9 323.8L561.8 326.2L560.7 328.1L559.6 330.1L559 332.5L557.8 333.8L556.3 334.5L556.6 336.7L555.7 337.9L555.3 339.9L553 340.6L551.8 342.8L550.5 345.2L548.8 347L546.4 348.2L543 347.9L540.7 348.8L539.4 350.8L537.4 352.5L538.2 350.7L541.5 349.6L542.2 346.4L544.1 344.9L547.7 345.4L550.6 345.4L553.3 344.8L555.1 342.9L558.5 342L561.1 339.6L564.6 337.6L568.4 335.7L571.9 333.4L577.9 333.8L579.5 330.1L581.3 327.1L582.6 324L585.2 322.6L585.9 319.8L585.2 315.9L586.9 314.9L586.3 311.7L587.6 310.5L591 311L593.2 310L593.9 306.9L593.7 302L597.4 300.8L598.4 296.5L602 295.1L604.6 293.3L607.9 293.1L609.3 292L611.9 293.3L612.7 293.5L613.6 294.7L612.8 294.8L612.1 295.4L610.7 295.8L609.3 296.8L608.3 298.2L607.4 299.9L605.4 300.3L601.2 298.6L601.4 301.6L599.6 303.4L595 303.3L590.5 304.3L588.5 308.6L583.8 310.4L580.2 313.2L576.8 316L572.1 317.4L568 319.8L562.5 321.4L559.3 326.5L554.1 330.3L548.1 334.5L544.5 341.6L540.1 348.5L536.3 353.4L537.2 351.2L540.7 346.7L544.6 342L549.6 338.3L553.3 333L560.1 331.1L564.1 327.2L566.8 322.7L568.5 318.3L571.8 316.2L574.4 314L578.8 313.6L581.6 311.5L585.3 310L588.2 307.7L589.9 304.6L591.9 302.6L592.5 300.6L592.1 299.2L591.1 298.6L589.3 298.3L586.7 297.7L586.4 299.7L584.9 300.6L585.7 303.9L585.3 306.1L583.5 307.3L581.5 309L581.5 313L579 315.1L575.7 316.9L574.3 320.9L572.8 325.1L570.6 328.8L568.7 332.8L564.7 334.5L562 337.1L558.6 338.5L555.6 340.2L553.2 342.3L550.6 344L548.8 345.9L547.6 347.6L546.6 348.9L545 348.8L544.3 349.5L543.3 349.9L543.9 352.1L543.2 353.2L541.7 353.8L540.6 354.8L538.9 355.3L537.3 355.5L536.3 355.6L536.3 357.3L536.7 358.3L538.6 355.9L541.3 354L542.4 350.2L544.7 347.5L545.7 343.7L547.4 340.9L548.3 337.8L549.7 335.7L549.5 332.5L550.8 331.1L553 330.4L556 330L557.7 327.7L559.7 324.9L560.7 320.7L564.1 318.6L568.4 317.3L572.5 315.9L575.8 313.9L579.2 312.4L582 310.6L585.6 310.3L587.5 308.8L589 307.7L590.9 307.7L592.9 309L590.9 307.4L592.2 310.1L592 312L590.4 312.9L589.2 314.4L587 315L586.4 317.7L585.2 320L584.7 323.3L582.1 324.7L579.5 326.1L577.3 327.9L575.9 330.7L573.9 332.8L572.6 335.6L570.4 337.7L566 337.8L563.3 339.4L561.6 342L559.7 344L555.6 343.1L554.9 344.8L554 345.7L553.2 346.1L552.4 346.6L551 346.7L550.2 347.8L549.3 348.7L547 348.3L546 349L543.8 348.2L544.8 350.2L544.7 351L544.6 351.4L543.8 350.6L543.5 350.2L543.1 349.6L542.2 348.7L541.6 348.6L542 350L541.1 350.5L538.6 349.7L538.1 351L537.6 352.5L538.9 352.2L540.7 350.1L543.8 349.4L545.5 347.5L546.2 345.1L547 343.5L547.8 342.6L548.1 341.5L548.9 341.1L550 341L551.3 341L552.9 341.2L553.6 340.7L555.2 341.3L555 340.3L553.1 338L552.5 337.4L553.7 338.7L552.6 338L551.2 337.1L550.3 336.7L549.9 336.9L549.9 337.7L549.3 338L549.6 339.3L550.1 340.9L552.2 344.3L551.5 344.8L549 343.7L546.5 342.7L543.7 341.4L544 343.3L544.2 344.7L544.6 346.3L545.1 347.7L545.6 349.2L544.1 348.9L543.6 350L543.2 352L541.9 353.6L541.2 355.8L540.7 357.9L539.8 358.6L539.5 358.6L539.4 358.6L539.3 358.6L539.3 358.6L539.3 358.6L539.1 358.6L539 358.3L539.6 356.9L540.7 356.2L542.1 356.2L542.7 355.6L543.7 355.5L543.8 354.6L544.5 354.7L542.8 352.8L542.5 352.8L542.4 353.3L542.9 354.4L542.5 354.4L542.9 355.1L543.2 355.6L543 356L542.2 356.5L540.4 356.8L540.6 357.7L542.7 356.7L544.3 355.2L547 354.5L549.2 353.2L550.6 351.2L552.3 349.4L555 348.4L556.6 346L558.6 343.4L560.8 340.5L564.6 338.8L566 334.6L566.8 330L566.2 324.7L567.9 322.2L569.7 320.6L571.8 320L572 318L572.3 316.3L572.4 314.3L572.5 311.7L573.7 309.3L574.7 305.9L578.9 305.2L581.6 303L583 300.1L584.3 298L584.5 295.9L585 295.2L585.2 294.8L585.4 294.6L585.6 294.4L589 297L591.9 298.8L593.4 298.7L592.9 296.4L595.4 296.9L596.1 296L595.5 294.5L596.6 295.9L596 296.9L595.4 298.9L591.4 298.1L589.3 299.1L589.7 302.7L588.3 304.4L587.2 306.6L584.4 307.4L581.1 308L581.3 312.3L578.2 313.4L575.2 314.7L573.1 316.9L572.4 320.7L569.4 322.1L568 324.9L567.2 327.6L566.2 329.5L565.5 331L562.8 330.2L562 330.9L562.2 332.4L560.6 331.8L560.4 332.3L560.2 332.2L559.4 331.2L560.6 332L561 331.8L561.7 331.9L560.2 330.1L560.7 330.6L560.5 330.7L559.1 329.8L557.7 328.8L557.5 329L557.5 329L557.7 328.8L557.8 328.1L557.9 327.1L559.4 327.6L560.8 328.1L561 327.4L561.8 327.5L562.5 327.5L564.4 328.7L563.5 327.5L565.4 329.7L564.2 329.5L565.5 332.2L565.2 333.4L564.9 334.4L566.1 336.6L567.8 339L567.3 339.3L566.8 340.1L565.5 340.7L563.9 342L561.3 343.1L558.9 345L556.5 347L554.2 348.8L551.6 349.9L549.9 351.5L548.2 353L546.7 354.7L543.8 355.5L541.3 357.3L539.5 358.6L539.2 358.3L540 354.7L540.7 351.2L541.1 347.5L543.3 345.3L545.3 342.4L548 339.9L548.9 335.3L550.9 331.7L555.1 330.4L557.6 327.5L559.7 324.3L560.8 320.5L563.6 318.9L567 318.7L569.3 318.2L569.9 316.8L572.1 317.6L573 317.4L574.6 318L574.2 316.7L575.8 317.5L578.1 319L578.9 319.2L576.2 316.3L574.7 314.9L574.2 315.1L572.6 314.4L575.6 318.9L573.7 318.7L573.6 320.6L572.4 321.7L571.6 323.6L572.4 327.6L570.8 329.5L569.1 331.2L569.5 334.5L568.2 335.4L567.8 336.5L565.9 335.2L564.9 334.5L564.9 334.6L566.7 336.6L566.6 336.8L566.1 337L565.1 336.6L565.8 337.8L564.2 336.4L563.8 335.5L564 334.5L565.5 334.4L569.4 336.2L572.3 337.2L572.1 335.3L572.2 334L572.5 333.2L574.2 333.9L575 333.5L576.6 333.5L576.2 331.1L574.9 327.8L577.6 328.3L580.4 329.5L580.5 328.8L580.5 329.1L580.1 329.9L578.9 330.8L578.5 333.2L575.9 333.7L570.7 331.6L567.7 331.2L568.1 333.7L567.7 334.9L568.3 336.7L568.4 337.9L567.9 338.9L566.4 339.4L562.4 337.8L559.8 338.2L558.4 340.1L557.2 342.7L553.9 343.1L552.8 345.5L551.5 347.5L549.1 348.1L547.5 349.4L546 350.8L543.2 350.9L540.9 351.6L540.7 354.2L539.1 355.1L538.4 356.6L538 358L536.3 357.1L536.3 356.1L536.4 355.1L537.3 354.5L539.3 354.7L540.8 354.2L541.5 352.8L544 353.4L543.8 351.8L544.6 351.6L546.1 352.6L547.5 353.6L547.5 353.3L548.1 353.6L547.7 352.6L548.3 352.4L549.1 352.1L549.3 351.1L550.3 350.7L551.2 350.4L551.7 349.7L552.4 349.4L553.2 349.3L553.7 349L554.2 348.7L554.7 348.5L555.3 348.3L555.1 347.3L555.2 346.6L554.7 345.4L552.8 343.2L551.7 342.1L551.6 342.8L550.4 342.9L548.8 343.3L546.6 343.4L544.3 343.5L543.3 345.2L540.6 345L539.9 347L538.4 347.9L536.8 348.7L536.6 350.8L536.3 352.1L536.3 354.2L536.3 353L538.1 352.3L539 350.5L538.9 347.9L539 346L539.6 344.8L541.9 345.4L543.5 345.6L544.8 345.3L545.2 344.2L545.6 343.1L545.1 341.7L543.6 339.8L543.2 339.9L542.1 339.9L541.6 341.4L540.5 343L539.5 345.4L537.8 347.5L536.3 349.2L536.3 350.7L536.3 353.4L536.3 353.8L536.3 352.9L536.3 352.1L538.9 351.2L541.1 349.3L543.2 347.3L544.5 344.8L546.1 343.1L547.2 341.3L549.3 340.9L550.2 339.3L550.2 336.8L550.7 334.7L551.8 333.2L554.2 333.1L556.4 332.6L559.1 332.6L559.8 330.5L560.8 329L562 328.2L562.6 327.2L562.7 326.2L563.9 326.4L563.6 324.6L566.2 325.1L566.5 322.6L568.2 321L570 319.5L572.5 318.6L573.5 316.6L573.3 313.6L575.5 313.2L575.7 311.3L576.3 309.9L578 310.2L578.7 310L579.2 310.1L580 310.9L582.9 314L581.3 312.8L579.5 312L577.7 311.8L575.4 312L572 312.2L571.5 315.8L571 319.6L569.9 322.8L566.9 323.4L564.5 324.3L563.1 326.2L560.7 327.2L559.3 329.9L556.9 331.7L553.3 332.4L550.9 334L549.4 336.1L548.6 338.5L549.2 341.8L548.8 343.7L547.4 344.2L545.8 343.9L545.5 344.4L546.2 345.6L545.8 345.4L548 347.5L548.4 347.7L548.7 347.5L549.9 347.9L550.4 347.2L549.3 344.1L550.8 342.8L552.9 341.3L555.8 339.9L557.6 337L557.7 332.5L558.3 328.8L560.4 327.5L560.8 324.9L562.9 324.6L563.7 323.1L565.9 323.1L567.8 322.8L567.9 320.8L567.5 318.5L568.1 317.7L570.3 319.2L570.7 319.7L570.9 320.9L570.9 322.8L571.6 326.1L570 327.6L568 328.7L565.2 328.9L566.7 332.8L565.5 333.5L564.8 334L564.1 334.2L563.8 334.5L563.3 334.5L563.2 334.9L564.8 337.2L564 337.4L561.7 336.4L560.3 336.4L559.6 337L558.9 337.1L558.5 337L557.7 335.8L557 334L559.4 334.4L561.3 333.6L563 331.8L565.1 329.7L566.2 326.3L569.2 324.5L572.9 323.7L575.6 321.9L578.8 321L580 318.6L580.4 315.9L579.5 312.9L580.2 312.6L580.7 313.6L580.4 315.1L578.4 316.2L574.3 316.5L573.2 320.6L568.8 322.2L565.1 325.1L562.4 329.5L559.9 334.2L554.8 336.5L550.6 339.6L547.3 343.7L543.1 347.1L539.2 351.4L536.3 353.5L538.5 348.8L542.6 344L546.9 339.9L552 336.5L557.2 333L562.3 328.9L565.8 322.9L571.9 319.6L574.3 313.1L579 309.9L581.8 305.8L585.3 303.2L587.5 300.2L588.2 296.2L589.1 292.9L592.8 292.8L595.6 292.5L597.4 292L596.8 290L597 289.5L597.7 290.2L600 293.1L601.3 295.3L600.8 296.1L601.7 298.4L599.7 298L601 301.2L601.7 304.4L598.6 304.6L596.2 306.8L592.3 308.6L589.4 311.9L587.7 316.4L584.9 319.5L583.6 323.4L580.7 324.8L579.5 327.2L579.3 330.2L578.6 332.3L577.8 333.9L574.7 332.9L573.2 333.2L573.7 335.3L571.5 334.3L568.6 332.4L568.8 332.9L569.3 333.2L569.7 332.8L570.8 332.2L572.5 331.4L573.6 329.5L573 325.4L575.9 324.7L577.4 322.6L578.4 320L580.4 318.8L583.6 319L584.2 317.3L586.2 317.5L586.5 316.6L586.7 316.3L587.4 317.1L586.6 317.5L585.7 318.6L582.9 319L580.4 320.4L576.8 321.7L573.3 323.4L570.7 326.5L565.3 327.3L560.5 329.2L556.1 332.3L550.3 335L546.8 340.9L541.6 346L536.3 351L536.3 353.5L536.3 353.3L537 349.2L541.4 343.6L547.1 338.6L553 333.8L561.3 331.7L565.3 326.1L568.8 321.3L571.5 316.8L576 315.6L578.2 313.3L578.9 310.4L582 310.4L582.2 308.1L582.1 305.9L584.3 306.5L587.6 308.9L588.9 310.2L586.9 309.4L586.7 311.6L583.7 312L582.2 314.9L580.3 318.1L576.5 319.8L572 321L568 322.9L564 325.1L561.8 329.2L558.9 332.5L553.4 333.3L548.7 334.7L546.4 338.4L542.5 340.3L540.5 344.1L538.8 348.4L536.3 351.2L536.3 353.8L536.3 352.3L537 350.7L540.1 349.7L542.8 348.8L544.3 347.3L545.5 346.2L546.2 345.3L545 343L544.6 341.9L545.5 342.3L544.9 341.6L545.8 342.4L544.8 341.3L545.6 341.7L546.7 342.2L548.5 343.2L549.1 343.2L549.5 343.8L549.4 344.8L549.1 346.6L546.1 346.7L545 349.1L543.2 351L541.2 352.4L539.8 353.8L538.9 355.3L537.6 356.1L537.4 358L538.7 356.7L541.5 355.9L544.2 355.2L546.9 354.6L548.9 353.4L550.2 352L551 350.6L551.7 349.8L550.6 347.8L550.2 346.6L550.3 345.7L549.4 343.3L550.9 342.3L552.5 340.8L555.3 339.8L556.4 336.9L558.2 334.9L558.8 332.2L559.7 330.3L560.7 329L562.4 328.8L563.2 328L563.6 326.7L564.7 326.3L564.7 324.9L566.9 326.1L568.8 327.1L570.7 328.4L569.5 326.8L569.8 326.8L571.3 328.3L572.6 329.9L574.9 332.9L575 334.2L574.2 335.1L572.8 335.7L572.3 337.7L569 337.5L565.7 338.2L562.6 340.2L559.7 343.4L554.9 345.5L551.7 349.8L548 353.7L543.1 356.5L539 358.6L536.7 358.6L537.1 353.6L540 349.6L544.2 346.5L548.7 343.5L552.9 340L557.6 336.6L562.2 333L566.2 328.4L570.5 324.2L573.5 318.7L575.9 312.9L579 308.4L584.6 307.6L587.1 305L589 303.2L590.9 302.4L592.9 302.3L594.4 301.7L595.4 300.4L596.3 298.9L600.1 300.5L602.3 301.2L604.5 302.8L604.7 303.3L605.8 305.6L605.1 306.8L603.4 307.2L602.1 308.2L600.5 308.9L596.4 307.2L594.5 308L590.9 307.3L589.7 309.4L588.2 311.5L585.8 313.2L582.6 314.8L580.1 318.1L577.7 322.2L574.4 326.1L571.4 330.5L566.7 333.1L560.7 334.2L555.8 335.9L551.7 338.1L547.7 340.2L544.5 343.1L540.5 345.3L538.2 349.5L536.3 353.9L536.3 356.9L536.3 357.6L537.2 352.4L540.7 349L543.7 345.3L548.3 343.1L552.9 341.1L555.2 337.2L558.1 334.5L560.6 332L562.3 329.4L563.2 326.9L565.4 326.4L567.3 326L569 325.8L569 324.7L568.2 323.9L565.7 322.5L560.9 320.1L559.8 322.5L559.3 326.2L557.5 329L555.1 331.7L551.8 333.7L549.1 336.8L545.8 339.7L542.9 343.2L541.6 348.8L538.6 352.9L536.3 356L536.3 356.3L538.9 353.7L544.2 352.8L548.3 350.7L551.2 347.6L554.8 344.9L558 341.6L562.9 339.8L567.7 337.8L571.4 334.8L573 330.2L576.7 328.3L580.1 326.6L582.6 324.5L585 322.7L585.1 319L587.7 318.1L587.4 314.8L588.5 313.8L589.4 313.7L589.6 313.8L588.7 313.6L587.4 313.4L587 314.3L587.6 316L587 316.1L587.8 317.2L589.1 318.5L587.2 316.4L587.6 316.5L586.5 315.3L586.6 315.3L586.3 315.2L584.7 314.2L584.5 315.1L583.7 315.6L581.8 315.3L580.6 315.3L581.2 316.9L581.7 317.9L580.8 316.9L581.9 317.5L582.5 317L582.4 315.7L584.8 316.6L586 316L587 315.3L587.6 314.2L588 312.7L588.4 311.1L591.3 311.3L593.8 310.7L599 312.3L600.9 310.2L602.6 307.6L603 303.4L603.3 298.8L603.7 294.4L606 292.3L608.2 290.2L609.4 287.8L610.1 285.1L611.4 283.4L615.3 284.5L616.9 283.3L618.2 282.1L619.3 281.2L617.4 278L618.6 278.6L618.8 278.7L617.7 277.7L616 275.9L612.7 272.5L611 270.6L611.8 271.6L612.6 273.2L611.1 273.2L609.6 273.8L612.1 278.6L610.2 278.7L609.1 279.3L608.7 280L611.1 282.9L610.8 283L611 283.5L609.2 282.4L609.4 283.7L609 285L607.9 286.2L607.6 289.2L606.5 291.9L604.2 293.6L602.8 296.1L598.7 295.7L595.9 296.1L593.6 296.6L593.2 298.9L592.6 300.9L590.8 301.8L589.5 303.5L587.4 304.2L586.3 306L585.1 307.3L584.2 308.5L582.1 308.1L582.3 309.7L583.7 312.6L583.4 314.2L583.1 316.5L583.8 320.5L583.1 323.6L581.4 325.8L578.2 326.4L575.7 327.5L574.5 329.8L574.2 332.9L572.2 334.3L571.2 336.8L566.1 335L562.9 334.8L562.6 337.6L561.2 339.3L558 339.7L555.3 341.2L553 344L549.5 346.5L544.4 348L539.4 349.4L536.3 350.1L536.3 352.9L536.3 354.3L536.3 352.6L536.3 348.8L538.3 344.1L541.7 341.2L544.5 338.5L546.7 335.5L548.5 332.4L552 331.1L556.1 330.5L557.9 328.2L559.5 326.5L561.1 325.7L561.9 324.8L564.3 325.7L566.7 326.8L566.7 325.4L566 323.3L567.6 323.8L570.8 326L569.7 324L570.3 323.9L569.8 322.6L571 322.5L570.8 320.6L572.8 320.5L575.3 321.1L576.6 320.9L578.2 321.7L579.2 322.7L579.2 323.5L579.1 324.5L576.6 323.4L575.6 323.5L575.4 323.8L577 324.8L576.8 322.9L576.3 319.7L576.1 316L577.6 313.5L577.9 309.7L581.3 309.2L583.6 308.3L586.1 308.3L587.2 307.3L587.5 306.2L587.7 305.1L589.2 305.4L587.8 302.5L588 301.1L588.8 299.9L588.8 297.6L589.5 295.9L590.9 294.8L592.6 294L595.7 294.7L595.7 292.6L595.1 290.4L595.3 289.4L597 290.7L597 290.8L595.8 290L596.4 291.1L595.8 290.8L595.2 290.6L596.7 292.4L597.4 293.5L599.5 296.6L599.7 298.2L596.3 296.6L594.1 296.6L595.5 300.4L595.2 302.6L594.3 304.2L591.6 304.2L589.6 305L589.1 307.4L586.6 308L584.2 308.8L581.3 309.5L579.3 311.8L575.7 313.3L575 318.6L572.4 322.9L568.9 326.5L565.2 329.9L560.9 332L557.6 334.6L554.5 336.6L553.6 340.4L550.3 341.5L547.5 343.2L544.7 345.1L541.3 346.5L539.3 349.4L537 351.4L539.5 349.4L541.9 347.8L543.4 345.9L546.3 345.6L547.3 343.8L550.7 344.5L553.3 344.5L554 342.9L555.2 341.9L556.5 341.5L557.4 340.8L556.8 338.8L556.3 337.2L557.6 337.4L557.3 336.4L558 336.8L557.6 336.2L557.6 336.2L558.9 337L557.2 334.3L559.9 335.3L560.8 334.3L561.2 332.8L561.2 331.1L560.8 329.5L561.7 329.3L561.2 327.7L562.1 327.7L562.4 326.9L563.6 327.2L566.5 329.4L565.1 327.5L565.6 327.1L565.7 326L566.5 325.2L567.1 324L566.9 322L567.6 321.1L568.8 321L570.8 322.1L571.3 321.8L571.6 321.4L571.7 320.9L573.2 321.9L574.8 323.2L575.3 323.8L575.4 324.5L573.6 323.9L571.6 323.4L569.5 322.9L566.6 321.4L565.4 321.3L565.3 321.8L565.7 322.4L565.8 322.5L565 321.9L564.9 322.4L563.1 321.8L561.8 322.4L561.2 324.3L560.1 326.3L558.8 328.5L558.8 332L555.5 332.5L553.9 334.8L552 336.9L549.3 338.6L546.7 340.2L544.3 341.8L543.3 344.3L541.6 345.7L542.2 348.8L540.9 350L539.1 350.8L536.8 351.7L536.3 353.9L536.3 355.1L537.8 354.8L539.1 353.1L540.2 350.8L542.3 348.5L545.8 346.7L548.6 343.5L553.2 342.2L556.3 340.2L559.1 338.9L560.5 337.6L560.6 336.1L560.2 334.9L559.4 333.8L560.4 334.6L561.3 335.2L563.6 337L564.9 337.6L565.1 337.4L563.5 335.5L563.9 336.2L564.5 337.6L564.5 338.9L563.9 339.8L562.3 340L560.5 340.4L558.5 341.1L558.6 344.4L556.6 346.1L555 348.4L552.1 349.5L550.1 351.2L548.2 352.9L545.9 353.8L542.4 353.5L540.9 355.2L538.5 355.9L536.6 356.8L536.3 356.1L536.3 356.2L536.3 356.2L536.3 356.8L536.3 357.3L536.3 356.1L536.3 354.6L536.3 354.1L536.3 353.6L536.3 353.4L536.3 353.2L536.3 354.5L536.3 354.5L536.3 354.1L536.3 353.1L536.3 353.3L536.3 352.5L536.3 352.4L538 352.8L539.7 353L539.9 352.3L540.8 352.7L541.8 353.2L543 353.9L544 354.1L544.4 353.6L546.4 354.6L546.1 353.4L546.5 353.1L546.4 352.2L547.3 352.1L548.7 352.1L549.6 351.3L550.5 350.5L551.1 349.5L551.9 349L550.3 346.8L549.1 345.6L548 345L546.7 344.5L545.3 344L545.7 344.8L545.9 345L546.7 345.4L547.5 345.5L548.7 346L548.2 345L547.8 344.6L547.5 344.9L547 345.4L546.3 346L544.2 345.3L544.2 346.5L542.7 346L541.3 345.6L540.5 346L540.3 347.6L537.9 347.3L536.3 347.4L536.3 348.7L536.3 348.9L536.3 349.9L536.3 351.7L536.3 350.5L536.3 350.4L536.3 351.7L536.3 352.1L536.3 352.3L536.3 354L536.3 354.6L536.3 354.2L536.3 355.3L536.3 355.7L536.3 356L536.3 353.7L536.3 352.9L536.3 352.2L537.4 352.1L538.9 351.6L540.4 351.3L541.2 350.5L542.7 350.3L544.1 350L544.2 347.9L545.8 347L547.5 345.8L550.1 345.7L552.2 345.6L552.7 345L551.7 343.8L550.3 343L549.5 343.3L548.3 343.3L547.4 343.2L548 344.2L548.5 344.5L548.6 343.9L549.9 344.3L549.7 343.3L550.7 343.8L550 343.1L550.8 344.4L551.8 346L550.3 345L549.8 344.5L549.9 344.4L549.8 343.7L550.2 343.9L550.3 344.2L551 345.6L549.1 344.7L548 344.5L546.9 344.1L547.3 344.9L547 345L545.5 344.1L542.9 342.4L541.3 341.9L540.8 342.5L540.2 342.8L540.7 343.5L542.4 344.4L543.3 343.4L544 341.5L546.5 340.8L548.6 339.5L550.2 338L552.7 337.6L553.3 335.8L553.9 334.6L554.7 334.1L556.4 335.2L557.7 336.1L559.8 338L559.1 337.3L558.6 336.9L557.8 336.6L557.3 337L556.7 337.6L557 339.6L556.6 341.3L555 342.1L553.5 343.6L552.2 345.8L549.1 346.6L546.8 348.2L543.7 348.9L541.6 350L539.9 350.9L539.1 352.2L537.2 352.3L541 349.3L544.6 345.4L549.2 343.1L553 340.9L555.1 337.6L558.6 336.5L561.6 335.3L564.5 334.4L566 332.2L568.3 330.8L570.1 328.7L574.2 328.3L576.7 325.6L577.7 320.7L579.4 316L580.4 310.6L583.9 307.8L589.4 307.6L592.5 305.9L598.1 307.2L602.2 307.7L603.1 305.2L601.7 300.7L601.5 297.7L601.8 295.6L601.5 293.4L605 296.1L606.5 297.7L606.5 298.7L607 301L606.3 302.6L605.6 304.6L605.2 307.1L602.6 307.6L601.5 309.9L599.4 311.8L596.3 313.1L592.2 313.9L588.2 315.7L584.5 318.3L581 321.7L577.6 325.6L572.6 328.1L566.6 329.5L561.6 331.7L557.6 334.5L552.6 335.7L551.3 340L548 341.6L546.7 344.8L544.8 346.9L542.7 348.9L541.4 351.3L540 353.1L537.3 353L536.3 353.2L536.3 352.8L536.3 352.7L536.3 353.7L536.3 352.3L536.3 352.1L538.7 352.6L540 351.1L541.4 348.5L543.6 345.6L547.3 343.6L549.5 339.6L551.5 335.3L554.6 332.5L558.9 331L562.1 329L565.5 327.2L568.6 325.3L569.2 321.1L571.9 319.3L573 316.4L576.6 316.6L579.4 316.7L580.9 316.3L581.5 315.8L580.7 314.6L579.8 313.8L579 313.8L578.9 314.8L578.8 316.3L577.8 317.2L576.7 318.4L576.1 320.4L573.2 320.4L571.3 321.7L569.9 323.6L567.7 324.8L565.8 326.1L564 327.3L561 327.1L557.9 326.7L557.6 329.3L555.4 330.6L551.4 330.6L548.5 332.4L546.5 335.8L544.2 339.4L541 342.3L538.6 346L536.3 348.5L536.3 349.6L536.3 348.2L537.5 346.8L539.4 344.9L543.6 344.8L546.2 342.6L549.7 340.6L553.8 338.6L558.2 336.5L561.5 333L566 330.5L569.7 326.9L574.1 323.7L577 318.8L581.7 315.7L586.1 312.7L591.2 311.1L594.6 308.6L598.7 307.4L597.8 301.7L600.1 299.3L600.7 295.3L602 292.1L604.8 290.3L607.9 288.4L610.2 285.6L611.8 281.8L612.3 276.7L615.2 274L619.6 273.3L623.1 272.1L625 269.8L626 267.2L626.2 264.4L628.4 263.9L628.7 262L630.1 261.8L629.7 260.3L629.6 259.7L629.7 259.7L630 260L629.5 260L630 261.1L629.8 261.9L630.6 264L628.8 264.1L627.6 265.2L627.1 267.4L625.3 268.5L623.8 269.5L621.2 269.2L620.3 270.4L620.5 272.8L619.9 274.9L620.3 278.9L618.1 281.3L615.3 284.1L610.9 286.2L607.3 289.7L602.7 292.6L598.6 296L592.8 297.3L590.8 301.7L587.4 304L585.5 307.3L582.4 309L579.9 311.2L577 313.5L574.7 316.8L571 319.2L566.4 320.9L562.5 323.1L561.5 327.8L560.2 331.6L558.1 333.8L556.1 335.4L553.8 335.9L554.1 337.9L555 339.7L555.1 339.8L554.5 338.5L555.3 338.1L555.1 336.5L556.1 336L556 334.2L558.1 334.2L560.2 333.5L562 331.7L565.6 331.2L569.3 330.2L574.7 330.6L576.6 327.4L579.5 325.4L580.3 321.5L582.6 319.3L584.7 317.4L586.2 315.9L586.4 313.7L586.5 312.5L587.9 313.2L589.5 314.1L590.7 314.4L591.4 313.6L590.5 310.6L593.4 311.1L595 310.5L594.6 308.3L592.5 305.1L595.2 307.3L595.6 307.6L595.5 307.7L592.8 305.2L589.8 302.1L590.2 302L589.4 300.5L591.5 301.9L593.6 303.8L593.5 304.2L592.8 304.7L592.8 306.6L591.2 307.2L590.9 309.2L589.5 310L588.3 311.1L587.3 312.6L584.2 312.6L581.7 313.9L580.2 316.9L577.4 319L573.1 319.6L568.7 319.6L567.9 322.9L566.6 325.2L567.5 329.7L567.4 333.6L563.5 334.2L560.3 336.5L556.2 338.8L552.8 342.7L549.2 347.2L543.9 350.3L539.2 354.2L536.3 357.8L536.3 356.7L537.6 355.2L539 351.5L541.9 349.2L544.8 346.7L548.5 344.6L552.2 342.2L556.2 339.6L559.3 335.8L562.5 331.7L565.4 327.2L567.4 321.9L570.1 317.4L571.1 311.8L573.7 308.3L575.7 304.8L579.4 303.6L582.3 302.3L583.2 299.4L584.6 297.1L585.5 294.5L587.4 293.1L589.1 291.7L592 291.8L593.9 291.5L593.2 289.2L592.9 287.8L592.8 286.8L592.6 285.9L592.7 285.4L592.9 285.3L592.8 285.4L593.8 287.1L595.8 290.2L596.9 293.1L596.7 295.1L596 296.7L595.5 298.4L593.6 298.8L592.2 299.7L591 301.1L587.9 301.1L586.8 303.7L584.2 305.8L583.1 310.1L579.9 313.1L576.6 316.4L574 320.8L569.5 323.1L566.8 327L566.1 332.3L560.8 332.7L557.2 334.8L553.6 337.3L550.9 341.4L547.4 345.6L543.6 350.3L540.1 355.9L540.2 357.7L543 355.7L545.6 353.6L546.5 349.6L550.7 348.5L555.9 347.8L559.6 344.7L564.3 341.4L569.2 337.7L574.9 334.4L579.2 330.3L581.4 325.1L584.4 322L584.4 317.2L585.3 314.2L586.5 311.8L586.5 308.2L587.5 305.3L587.7 301.6L589.3 299.7L589.7 297.5L590.3 297.1L590.8 298L591.5 300.1L590.6 301.2L592 304.1L592.8 305.4L594.5 306.6L592.4 303.5L595 305.4L597.1 307.9L598 310.6L595.7 311.6L592.5 312.9L588.8 314.1L585 315.3L581.5 316.3L578.9 317.6L576.9 319L574.6 319.5L574.2 321.5L572.8 322.1L572.1 323.1L570.3 323L569.1 323.8L566.5 323.7L564.2 324.6L562.1 326.4L560.6 329.1L558.9 331.6L558.5 335.1L557.7 337.9L557.4 340.8L553.8 340.2L552.2 341.5L551.5 343.8L550.2 345.4L550.1 348.5L547.1 348.9L544.8 350.5L541.4 351.5L539.3 354L537.3 356.4L537.1 358.6L537.6 358.6L538.1 358.6L540.7 356.9L544.7 354.8L547.4 351.8L547.9 347.7L548 344.5L549.9 343.8L549.6 341.8L551.2 341.6L549.6 338.3L550.4 337.2L551.4 336L552.9 335L555.1 334.3L557.6 333.5L560.1 332.2L562.3 330.4L565.2 329.4L566.7 327.3L568.3 325.9L570.4 325.8L573.2 326.8L575 327L576 326.5L576.5 325.5L575.3 322.6L576.2 321.7L577 320.7L578.3 320.1L579.2 319.3L580.7 319.7L582.1 320.8L581.6 321.1L578.8 320L575.4 319.4L572.4 319.7L570.9 322.1L568.4 323.6L565.6 325.2L564.8 329.3L562.2 332.3L557.2 333.4L552.4 335.6L549.7 340L547.5 345L543.5 347.5L540.8 350.6L538.9 353.6L536.8 355.7L536.3 357.9L538 354.2L540.5 350.2L543.2 347L544.2 343.1L547.2 342.2L548.3 340.8L549.4 340.4L550.1 340.5L548.5 338.9L548.3 338.7L547.5 337.6L548.1 337.6L549.2 338.1L550.8 339.3L550.9 339.1L550.7 338.9L551.5 340.1L550.5 339.8L551.6 341.4L551.7 342L550.7 341.5L548.4 339.9L547.4 340.1L547.5 342L546.8 344.2L544.9 346L542.2 347.5L540.1 349.7L538.2 351.7L536.3 352.5L536.3 353.6L536.3 354.1L536.3 354.4L536.4 354.4L537.2 355L536.6 354.7L536.3 354.9L536.3 355.7L536.3 356.1L536.3 355.8L536.3 354L536.3 354.1L537.1 353.4L538.8 353.1L539.5 351.8L539.8 350.6L539.5 349.5L539.4 349.4L537.5 347.9L537.3 348.3L536.9 348.2L536.6 347.9L536.9 347.9L537.9 348.8L538.8 349.9L536.6 348.2L536.3 348.2L536.3 348.5L536.3 349L536.3 349L536.3 349L536.3 349L536.3 349L536.3 349L536.3 349L536.3 348.9L536.3 349.8L536.3 350.3L536.3 350.3L536.3 350.3L536.3 350.3L536.3 350.3L536.3 350.3L536.3 350.5L536.3 351.5L536.3 352.1L536.3 353.8L536.3 355.1L536.3 355.9L536.3 356.3L536.9 356L538.3 354.9L540.8 354.5L542.3 352.8L543.9 351.3L545.8 350.1L548.8 349.7L551.6 348.7L555.4 348.3L555.9 344L558.2 341.5L560.4 338.8L562.2 336.1L564 333.7L567.8 333.6L570.3 332.5L571.8 330.3L573.4 328.2L572.8 323.7L576.5 323.6L578.2 321.7L581.4 321.7L580.7 318.4L582.1 317.6L582.2 315.7L584.1 315.3L583.8 312.3L585.4 310.5L589.1 310.2L591.4 308.1L595.5 307.5L598.4 305.9L601.3 304.3L602.6 301.3L604.9 299.4L605.5 296L605.3 292.1L605.9 289.5L607.2 288L607.7 286.2L609.3 285.9L609 284.1L609.8 283.8L610.2 283.5L608.2 281.2L606.9 279.9L605 278.4L605.4 279.4L604.8 279.9L605.4 282.1L605.9 285L604.1 286.5L602.6 289.1L599.1 290.4L596.9 293.6L593.7 296.2L591.9 300.8L590.5 306.2L588.3 311.5L584.3 315.7L579.4 319L577.2 325.2L574.6 330.4L569.7 332.6L565.5 335.1L562.7 338.5L560.2 342.2L556.5 345L553 348.4L550.1 352.6L545.1 354.5L541.3 356.9L538.8 358.6L538.5 358.6L539 358.6L539.3 358.6L539.6 358.6L540.2 358.6L540.5 358.1L539.6 356.8L538.7 356.4L538.3 357L537 356.9L536.5 355.5L537.7 355.8L539 356.1L539.9 355.8L540 354.4L539.4 352.5L539 350.8L538.6 349.5L539.3 349.6L541.3 351.1L541.4 351L540.7 350.4L539.9 350.1L538.9 350.1L538.5 351.1L537.1 351.6L536.3 352L536.3 351L537 349.4L539.6 349.1L541.3 347.7L543.2 346.4L544.8 344.6L547.1 343.2L549.7 342L552.6 340.9L555 339.4L555 335.9L555.5 333.4L557.6 333L558.8 332.2L559.9 331.6L561.7 331.8L565.5 333.9L566.7 333.4L565.2 330.5L566.3 330.5L566.5 330.1L567.2 330.5L567.5 330.8L567.5 330.7L570.1 333.1L569.7 332.3L571.9 334.2L572 334.6L570.2 334.2L569.4 335.8L564.5 334.6L560.3 334.8L556.4 335.6L554.4 338L550.2 337.9L548.4 339.7L546.7 341.2L545.4 342.8L544.7 344.4L542.7 344.4L541.4 344.6L540.1 344.4L538.9 344.1L539.6 345.7L540 347.3L540 348.9L538.2 348.7L536.6 348.5L536.3 348.3L536.3 348.5L537.2 348.5L539.6 349.1L541.7 348.8L544.7 349.2L546.4 348.4L548.6 348.2L550.9 348.3L550.6 345.8L552 345.1L552.8 344L553.1 342.7L554.4 342.6L554.7 342.1L556.3 343.3L557.2 344.3L557.6 345.2L556.2 344.7L556.6 346.3L556.3 347.7L554.8 348.2L552.2 348.1L550 348.9L547.2 349.4L544.8 350.9L542.8 353L540.3 354.7L537.5 356.1L536.3 357.5L536.3 357.9L537.3 356.6L539.3 353.8L541.9 352L543.8 350.1L545 347.9L546.8 346.5L548.8 345.4L550 343.2L552 341.6L554.2 340L554.8 336.6L556.7 334.8L558.6 333.7L559.7 332.4L560.9 332.2L561.8 332.6L561.9 332.9L562.7 334.2L561.6 334L563.7 337L562 336L562.9 337.9L563.2 339.5L561.9 340L559.3 340L557 341.2L554 342L552 344L549.2 345.4L546 346.1L543.2 347L542.1 349.4L540.3 350.7L538.6 351.7L537.7 353.2L536.3 353.1L536.3 353.5L536.3 354.6L536.3 354.7L536.3 353.5L537.2 353.6L539.1 354.1L538.8 353L539.8 353.3L540.5 353.7L539.7 353.2L539.2 353.4L538.2 353.8L537.5 355L536.3 355.8L536.3 357.2L536.3 356.3L536.8 354.7L538.4 352.9L539.8 350.7L541.4 348.7L542.2 346.1L542.6 343.5L542.7 341.4L542.3 339.9L543.8 341.6L543.8 342.6L542 342.2L540.9 342.4L540.4 342.8L540.2 342.8L540.2 342.8L540.1 342.9L539.5 343L538.4 343.6L538.5 346.3L536.3 347.1L536.3 348.8L536.3 350.3L536.3 348.3L538.6 346.2L540.8 342.5L543.9 339.6L547.7 337.8L551.3 336.2L553.9 333.9L556.8 332.1L559.8 330.3L561.6 327.1L563.4 324L567.8 323.9L569.7 321.8L570.9 319.7L571.8 318L572 316L571.4 313.4L575.5 315.7L578.5 316.9L580 317L578.6 314.9L579 315.1L579.7 316.3L580 317.8L579.8 319.5L579 321.7L577.9 324.4L577.3 328.6L576 332.8L572.8 335.5L568.9 337.7L564.6 339.5L560.6 341.5L556.8 343.5L553.3 345.6L549.4 347L547.2 350.1L544.8 353.1L541.4 355.1L538.6 357.9L537.2 358.6L537.6 358.6L540.2 355.7L543.7 353.7L547.1 351.7L549.7 348.8L551.6 345.2L554.9 342.7L557.3 339.3L561.1 337.4L565.1 335.7L568.4 333.7L570.8 331.2L574.3 330L574.9 326.3L577.1 324.4L576.9 320.1L578.4 317.7L580.8 316.3L583.1 315.2L583.7 312.9L584.7 311.7L585.3 310.7L585 309.2L586.1 309.6L586.9 309.9L586.5 309.3L586.7 309.3L586.3 308.7L586.9 308.9L585.7 306.9L585.8 305.8L586 304.4L587.5 304.1L587.4 302.2L586.9 300.2L587.7 299.9L587.1 299L587.3 299.2L586.9 299.2L586 298.4L586 298.2L585.9 297.2L589.4 299.1L590.9 298.4L592.9 298L595 297.7L595.5 295.8L596.2 294.2L594.5 289.9L593 285.3L597 285.7L599.7 284.4L603.3 283.7L603.8 280.4L605.2 278.2L605.1 274.9L608.9 275.7L609.4 273.3L611.7 272.5L614 271.7L617.7 272.3L621.2 272.7L622.3 270.9L622.1 268L623.3 266.5L625.2 265.7L627.9 265.7L628 263.4L629 262.3L628.9 260.7L630 260.6L631.7 261.8L632 262.1L631.6 262.5L631.1 263.4L629.1 263.6L627 264.5L624.5 265.8L621.1 267L619.2 271L615.8 274.9L612.7 280.6L608.5 286.3L603.2 291.5L598 296.9L591 300.1L585.9 304.9L579 307.7L572.8 311.4L567.7 316.9L560.5 320.9L557 329.4L548 333.1L541.9 340.3L536.3 347.6L536.3 352.1L539.9 348L545.9 341.6L550.7 333.8L560.5 331.1L565.4 324L572 319.4L578.2 315.5L583.3 312.1L587.3 309.2L590.9 307.6L594.5 307.6L596.7 307.8L598.2 308.5L596.2 306.5L598.6 309.4L597.3 308.9L598.9 311.2L599.2 312.2L599 312.3L598.9 312.3L599.1 312.3L598.5 311.3L597.1 309.7L595.8 308.5L594.7 308.3L594.5 309.6L590.7 308L588.3 308.3L586.7 309.2L585.4 310.1L584.2 310.6L583.3 310.8L581.6 309.8L579.7 308.7L577.8 307.6L576.1 306.9L575.1 307.2L574.1 307.8L572.6 308.1L571.7 308.7L571.1 309.3L570.9 309.5L571.9 310.2L573 310.4L574.2 310.4L573.8 309L575.7 310.2L577 311.5L579 314.1L578.9 315.2L578.9 316.7L578 317.6L578.6 320.2L578.5 322.3L579.1 325.4L579.6 328.9L576.3 329.1L573.5 330.6L569.1 331.3L566.4 334.3L561.5 335.6L557.1 337.4L553.7 340.2L549.7 342.5L547 346L544.5 349.9L541 353.1L536.7 355.7L536.3 355.8L537.5 354L539.9 351.9L542.3 349.5L545.8 347.8L548.8 345.3L551.9 342.3L555.2 339.3L558.8 336.2L562.5 333.3L566.8 331.3L569.7 328.6L571.6 325.7L574 324.5L574.7 322.2L576.8 321.6L577.3 319L579 316.8L582.8 315.9L584.9 312.6L587.2 309.3L591.4 308L593.3 304.8L593.9 300.8L595 297.7L597.8 296.6L602 297.3L605.3 297.1L606.8 295.3L607 292.2L607.8 289.8L609.1 288.3L609.9 286.6L613.6 288.2L617 290.1L618.7 290.6L619.7 290.7L617.6 287.8L618.1 287.5L617.4 286.2L616.9 285.2L615.3 283.4L615.1 283L615.1 283L616.5 284.5L615.4 283.6L614.6 283.1L615.3 284.6L615.5 286.1L611.2 283.6L607.8 282.5L603.7 281.2L601.4 281.7L601.2 284.3L598.2 283.8L597.3 285.5L594.4 285.6L592.9 287.9L592 291.8L587.4 293.3L584.5 297.6L581.6 302.5L576.8 305.9L573.9 311.2L571.7 317.2L566.4 320.1L562.2 324.5L559.7 331L555.4 336.2L550.8 341.5L546.5 347.2L541.4 352.1L536.9 357.3L539 356.6L547.8 353.5L554.6 348.5L560.6 343.2L567.3 339.3L573 335.2L577.6 330.9L580 325.1L583.3 320.6L585.5 315.1L589 311.2L594.3 309.2L596.7 304.9L599.3 301.6L601.5 299.4L601.5 296.9L600.5 295.2L599.7 295.8L597.7 296.8L597.7 301.1L596.6 304.8L595.2 308.6L592 310.4L589.3 312.8L587.3 315.9L584.9 319.1L583.8 324.2L580.6 327.8L578.5 333.4L572.6 335.8L567.4 339.2L562.3 342.8L555.7 344.8L550.3 347.8L544.1 349.7L539.7 353.2L536.5 355.5L539.3 353.9L540.9 352L541.2 349.6L541.7 348L542 346.2L543.3 345.5L544.6 345.2L544.8 344.5L545.1 344.9L544.1 345.5L543 347.2L542.4 350.6L539.3 352.4L537.4 355.7L536.3 357.6L536.3 358.3L536.3 357.7L536.3 356.2L538.6 353.2L541.5 350.8L544.5 348.4L544.8 343.3L547.4 340.5L549.6 337.2L553.6 335.7L556.9 333.6L560.1 331.7L562.3 329.3L566.4 329.8L568 329.1L568.8 329.3L566.1 328L563.2 327.9L561.6 329.9L559 331.3L557.5 333.4L557.3 336.6L558 340.3L556.7 342.1L554.2 342.7L551.5 343.5L549.8 345.3L546.3 345.3L543.6 345.8L541.3 346.2L540.7 347.8L539.2 348.2L537.6 348.1L536.4 348.2L536.3 348.5L536.3 349.5L536.3 348.9L536.3 349.3L536.3 350.1L536.3 352.1L536.3 351.9L536.3 352.1L536.3 352.3L536.3 352.8L536.3 353L536.3 353.5L536.3 354.2L536.3 353.2L536.3 351.6L536.3 351L536.3 351.9L539.3 353.9L540.9 354.5L541.8 354.4L541.2 352.7L541.3 351.3L540.9 348.6L541.7 346.5L545.3 346.7L547.6 345.8L550.2 345.8L550.6 344.8L549.2 343.2L547.2 342.4L545.3 342.6L544.1 343.9L544.2 346.5L544 348.5L543.7 349.8L542.3 349.7L541.4 350.1L540.5 350.7L537.9 350.3L536.4 351.7L536.3 354.1L536.5 351.8L537.6 350.3L538.9 348.7L540.3 346.6L543.8 346L546.3 343.8L546.7 339.2L547.7 335.1L548.9 331.5L553.6 331.9L557.3 331.6L559.1 329.9L561.5 328.8L563.2 327.1L564.4 325L567.5 325.5L569.7 325.8L571 326.3L571.9 327.4L573.9 330.3L572.9 330.3L570.6 328.8L571.4 329.9L570.9 329.7L569.9 329.2L569.6 330.2L566.3 329.1L565.4 331.1L564.1 332.9L562.4 333.8L562.2 335.2L562.8 336.3L562.6 335.7L562 334.2L562 333.3L563.1 333.8L564.5 334.9L564.6 334.5L564.3 333.5L563.8 331.7L565.6 331.6L565.7 329.4L568 329.4L568.8 328.4L568.7 327L566.9 324.6L567.5 324.5L569.1 325.2L569.7 324L570.3 321.8L572.4 320.1L575 318.4L577.4 316.5L580.2 315.3L582.8 314.7L586.5 315.7L587.7 314.8L589 314.6L588.6 312.9L590.3 313.6L589.8 312.3L590.9 313L591.2 313.4L590.5 313.4L590.6 314.5L589.9 315.2L589.1 315.7L588.2 316L587.4 316.2L586.5 316.1L587 317.2L588.3 319.1L586.4 318.1L584 316.6L582.1 316.1L580.2 315.9L581.3 319.2L580.2 320.8L577 320.6L575 321.5L572.5 321.6L570.4 321.5L569.3 322L567.8 321.4L566.6 320.8L564.9 319.5L563.8 318.8L563.5 319L563 319.2L562.3 319.2L561.6 319.3L561.2 319.4L561.1 319.5L561.2 319.5L563.6 321.7L563.7 321.8L563.7 321.8L563.2 321.4L563.2 321.4L565.4 323.3L567.3 324.8L569 325.7L569.3 325.2L570.9 325.8L572.7 326.8L573.6 326.9L570.5 322.9L569.4 321L568.2 318.8L569.1 318.8L569.5 318.3L570.4 318.6L571.3 319L573.2 320.7L575.5 323L575.1 322.7L575.8 323.4L574.4 322.1L575.3 323L574 321.6L573.9 321.7L573.2 321.6L573.2 323L570.3 322.5L568.7 324L565.7 324.7L565.3 327.8L563.6 329.1L563.5 331.1L563.2 331.7L563.1 331.8L564 332.2L565.6 333L567.8 334.6L567.6 334.1L568.8 335.1L569.5 336.1L569.8 336.7L567.7 335.1L564.4 332.5L563.3 332.4L562.6 332.6L562.1 332.8L562.5 333.5L563.6 334.3L564 333.8L564 332.2L565 331.1L564.8 328.4L565.9 326.7L568.5 326.3L570.5 325L571.9 323L573.4 321L575.3 319.3L577.6 318.3L580 317.5L580.5 315L581.6 313.5L580.1 309.8L581.7 309.8L581.9 309L582.9 310L583.1 311.2L583.8 313.7L583.6 315.9L582.1 317.4L578 316.7L575.5 317.7L574.7 320.7L572.6 322.4L570.8 324.6L567.8 326L566.7 329.4L564.9 332.3L561.1 333.4L557 334.4L551.8 334.5L548.5 336.8L545.8 340L543.1 343.5L540.4 347.4L537.7 351.4L536.3 355.5L539 354L539.9 350.9L541 348L543.4 346L546.8 344.2L550 341.4L555.3 340.1L561 338.9L565 336.5L568.4 334.5L569.3 331.3L569.6 328.8L571.8 329.3L570.6 327.4L570.9 327.5L570.3 326.9L570.5 326.9L568.7 324.5L568.7 323.4L569.6 322.4L571.6 322.2L574.1 322.3L577.8 323.4L577.4 320.7L575.7 316.9L575 314.3L575.6 313.2L578.1 314.1L577.9 312.4L578.4 311.5L577.1 309.1L577.3 308.5L579.8 310.9L582.1 314.1L582.5 316.4L581.7 318.8L579.7 320.9L577.9 324.1L577.9 329.6L576.4 333.7L572.8 335.7L569.7 337.8L566.9 340L563.8 342L560.6 344.1L556.6 346.2L552.3 349.5L547.6 353.9L545.9 354.5L550.4 351.5L554.1 348.1L557.3 344L561.2 340.2L567.7 338.5L573.1 334.8L576.4 328.4L579.4 321.1L584.2 315.4L588.3 309.2L593.8 304.9L596.4 298.6L599.6 294L603.1 290.8L606.4 288.1L607.2 283.5L609.1 280.3L608.5 275.1L608.9 271.3L611 269.7L614.4 269.8L616.9 269.2L619.2 268.9L618.6 266.4L618.3 265L619.5 266.1L622.3 269.7L623 272.1L622.6 274L620.8 275L617.5 275.1L616.5 278.1L615.2 281.2L612.6 283.7L610.2 286.9L605.8 288.8L601.8 291.7L597.6 295.4L593.4 300.1L589.3 306L582.9 310.1L577.6 315.5L572.7 320.9L566.1 323.6L562.6 328.2L559 331.7L557.8 336.8L553.5 338.6L549.8 341.2L547.5 345.6L543.4 348.5L540 352.1L536.3 354.2L536.3 355.4L536.3 355.3L536.3 356.1L536.3 354.6L536.3 353.5L537.1 352.5L539.5 352.2L539.9 350.7L541.6 351.6L541.7 351.9L540.4 352L538.9 352.7L536.9 354L536.3 355.6L536.3 356.6L536.3 355.4L537.5 354.9L538.4 353L539.8 351L541.6 348.6L543.1 345.3L545.6 342.6L547.8 339.5L552.8 339.5L555.7 337.7L556.7 334.1L558.6 331.1L560.7 327.9L562.4 323.9L567.8 323.7L570.2 321L574 320.8L574.1 318.3L575.4 318.2L573.3 315.6L572.3 314.4L573.4 315.4L575.5 317.5L575.5 318.1L576.1 320L577.4 323.7L577.8 327.4L577 330.6L574.6 332.5L572.6 334.9L569 335.8L563.7 335L561.6 337.4L560.8 341.5L558.4 344.3L555.4 346.8L551.4 348.6L549 351.9L544.5 353.4L540.6 355.2L536.6 356.8L536.4 355L539.6 352.5L542 349.4L545.2 347.5L547.5 345.4L549.6 343.5L551.1 341.9L551.7 340L550.7 337.4L551.9 337.7L552.9 338.5L553.2 339.2L554 340.8L552.6 340.5L551.5 340.5L551.9 342L552.2 343.3L552.2 344.2L551.7 344.8L550.9 345.1L549.2 344.8L547.3 344.5L547.9 346.9L549.5 350.6L547.9 351L546.2 351.4L543.9 350.9L542.6 351.3L542.1 351.8L542.9 353L544.7 354.2L545.9 353.7L546.4 351.7L546.8 348.8L547.3 345.6L549.1 343.7L549.3 340.4L552.8 340.6L554.7 339L558 338.9L559.4 336.4L561.6 334.6L562.9 331.5L564.7 328.4L565.9 324.4L568.1 320.8L570.7 317.3L570.1 310.5L573.7 308.2L575.6 304.8L579.2 303.8L581.6 302.6L582.8 301.1L583.1 299.7L583.4 298.7L583.6 298.2L584.1 298L585 298.6L584.6 298L584.2 298L584.1 299.3L583.6 300.9L584 304.5L582.3 306.3L580.2 307.9L578 309.1L576.2 310.4L574.6 311.7L571.9 311.6L571.5 313.8L571.3 316.2L570.7 318.6L568.8 320L568.1 323L565.3 324.6L563.9 327.8L562.1 330.8L562.5 335.7L560.5 337.6L558.6 338.7L558.7 340.9L559.1 342.4L558.1 341.9L558.8 342.9L558.3 342.9L556.7 342.3L554 341.2L553.1 342.4L553.8 345.2L553.6 346.9L552.8 347.5L551.6 347.2L551.4 347.7L550.8 347.9L549.4 347.9L548.7 349.4L546.4 350L543.1 350.2L540.5 351.3L539.5 354L538.3 356.3L537.2 358.6L536.3 358.3L537.3 355.6L539.3 353.6L542.7 352.8L546.3 352L547.9 348.4L551.4 346.2L554.1 342.8L557.1 339.4L560.3 336.3L563.3 333L566.2 329.8L567.9 325.7L569.8 322.3L572 320.1L571.2 315.6L571.9 313.9L572.2 312.6L572 311.6L573.3 312.6L574.2 313.3L573.6 312.2L573.4 311.2L572.8 309.4L574 309.2L576.3 310.2L577.5 310.5L578 310.9L576.4 310L574.9 310.1L573 310.6L571.4 311.9L570.7 314.5L570.3 317.5L569.1 319.6L566.2 320.1L562.9 320.7L562.1 324.6L560.5 328.5L556.8 331.1L550.9 331.8L547 334.3L545.5 338.7L542.6 340.8L541.9 344.1L540.7 346.2L540.7 348.8L538.9 348.9L539.1 350.5L539.2 351.4L540.9 353.3L540.2 352L540.3 350.8L540.2 348.9L541.7 348.5L543.8 348.7L544.7 348.5L547.3 350.7L546 349.7L545.3 350.1L545.9 352.2L544.8 353L543.2 353.3L542.8 354.9L541.9 355.7L539.8 354.8L539.3 355L539.5 355.4L538.6 354.5L538 354.2L536.4 353.5L536.8 351.9L538.1 351L539.2 350L540.7 349.3L542.1 348.7L544.8 349.5L547.1 350.1L548.4 350L548.5 348.7L548.2 346.9L550.3 347.3L552.2 347.2L554.6 347.3L555.4 345.8L556.3 344.7L556.9 344L555.8 342.3L555.6 342.3L556.5 343.9L556.2 344.8L555.6 346L554.7 347L552.6 347.3L550.2 347.3L549 348.7L547.9 350.4L544.4 349.7L541.6 349.9L539.6 350.8L538.3 352.4L537.4 354.3L536.3 354.9L536.3 354.7L539 353.6L540.8 351.8L542.4 350.3L543.2 348.2L544.1 346.2L546.4 345.5L548.1 343.8L551.6 343.6L554.8 342.6L557.7 341.2L560.4 339.7L561.2 336.5L561.8 333.9L562.9 332.3L564.2 331.3L566.9 332.2L567.1 330.6L565.8 327.4L568.4 327.7L572 328.4L576.1 329.2L576.2 325.6L577.7 323.3L579 321L579 317.8L580 316.1L583.6 317.4L584.6 316L585.1 313.8L584.6 310.1L585.5 307.2L586.8 304.5L588.9 302.4L590.8 300.4L593.7 299.9L597.9 301.2L599.3 300.2L601.3 299.9L601.3 297.5L602.4 295.7L605.5 295.5L608.4 294.9L610.4 293.5L612.7 292.8L615 292.7L615.9 291.8L617.8 292.6L618.4 292.7L618.4 292.7L618.1 292.6L617.6 292.5L616.7 292.3L615.8 292.4L614.7 292.5L610.8 290L608 288.7L605.9 288.1L604.8 288.5L603.1 288.4L600.2 287.2L598 286.9L594.6 285.7L593.8 287.3L595.1 291.5L594.2 293.8L590.9 294.2L588.3 295.4L587.5 298.4L585.1 299.7L582.8 300.9L581.4 303.1L581.5 306.7L578.9 308L579.6 312.7L576.9 314L574.3 315.3L572.4 316.8L571.6 319L568.6 318.7L568.3 320.9L567.7 322.8L568.1 325.5L566.6 326.2L567.5 328.8L565.8 328.5L564.8 328.3L564.7 328.6L565 328.9L563.5 327.1L564.2 327.3L564.3 327L564.4 327.1L564 326.8L564.9 327.7L565.8 328.3L567.9 329.7L567.2 327.7L569.9 328.6L573.5 330.3L575.8 330.4L575.2 327.6L574.7 324.6L575.7 322.6L579.7 323L584.6 323.6L583.9 318.4L583.8 313.8L586 311.7L587.2 309L588.6 307.2L587 303L585.8 300L584.6 297.4L584.5 296.4L584.9 296L586.4 296.4L587.6 296.3L588.1 295.1L587.5 293L588 292L588.8 291.7L589.4 291.8L589.4 291.7L589.3 291.7L590.5 293.4L589.8 293.4L587.9 292.7L587.3 293.8L587 295.8L587.3 298.9L588.6 303.3L587.6 305.4L585.8 306.4L586.2 308.9L586.7 311L588 313.2L587.8 313.6L586.6 312.9L585.4 312.4L585 313L584.6 313.9L584.3 314.9L582.5 314.4L582.8 316L580.6 315.1L578.5 314.4L576.6 314.4L572.7 312.4L569.8 311.6L569.3 312.9L570.1 314.6L568.5 313.2L569.1 313L570.3 312.8L571.5 312.1L574.1 312.8L573.5 310.9L574.6 311.4L576.4 313.7L576.6 315.4L573.8 315.1L572.2 316.5L571.7 319L568.7 318.8L567.5 320.2L565.4 320.3L562 319.2L561.5 320.9L561.2 322.7L561.3 324.3L561.1 325.1L560.3 324.6L562.8 327.4L561.1 325.9L561.6 327L561.9 328.3L561.5 329.2L560.5 329.3L559.1 328.7L559.5 329.4L560.1 329.9L559.3 328.9L559.5 328.9L560.7 330.2L561.6 331.4L561.9 332.2L563.2 333.8L562.1 332.7L562.1 332.3L562.1 331.7L564.3 333.2L565.1 333.3L568 335.8L570.3 337.5L571.7 338.2L571.5 337.1L569.6 334.1L570.2 333.5L571 333.1L571.5 332.2L570.8 329.9L573 330.4L573.3 328.9L575.8 329.9L577.6 330.7L577.8 330.6L578.8 331.7L577.8 331.4L578.6 332.9L578.5 333.3L578.5 333.3L578.6 332.8L578.7 331.8L579 330.7L579.5 329.8L578.9 327.9L578.7 327L577.8 325.7L578.2 326.1L578 325.9L575.6 323.8L573.8 322.3L573 322L571.4 321.2L571 321.8L573.3 324.9L574.2 326.1L575.4 326.8L576 326.2L574.8 323.1L577.7 324.1L578.6 323.2L578.1 321.3L579.1 321.5L579 320.6L581.1 321.8L581.5 321.2L584.7 322.7L585.6 321.4L586.8 319.6L589.6 318.7L590.7 315.6L593.6 314L596.8 312.8L599.5 311.6L601.4 310L602.1 308.2L603.1 307.3L604.1 307.1L604.7 307.1L604.4 306.7L604.5 307.1L603.6 307.2L602.5 307.4L599.9 306.9L596.3 305.8L596.7 309L596 311.1L594.4 312.3L593.5 314.1L590.5 313.6L588.5 314.3L584.3 313L582.5 314.6L578.4 314.5L576.8 317.4L574.6 320.2L571.4 322.5L568.2 325.4L563.1 326.9L558.4 329.3L552.2 330.5L548 333.7L547.1 339.5L543.8 342.2L541.7 345.5L539.1 347.8L537.4 351L541 348.1L545.9 345.6L547.2 340.6L549.3 337.1L549.2 332L553.4 331.5L557.4 331.1L559.8 328.9L563.6 328L566.4 325.8L569.4 323.7L573.8 322.9L576.5 320.4L580.7 319.4L583.7 317.3L586.9 315.6L589.9 314.1L592.6 312.7L593.9 311L595.7 310.7L595.1 309.1L595.5 309.4L593.2 307.5L592.8 307.9L591.7 307.7L588.9 306.1L587.4 306.2L586.6 307.7L583.9 307.7L580 307.2L575.9 306.8L574.1 308.8L572.1 310.7L570.9 313.6L570.7 318.1L567.7 320.8L564.9 324.9L562.2 330L558.2 334.5L553.1 338L549.9 342.9L546.3 347.1L542.5 350.7L537.1 352.4L536.3 355.5L536.3 354.7L539.2 350.8L542.9 346.5L547.6 343.6L552.3 341.3L557.1 339.8L561.1 338.3L564 336.1L566.6 334.1L567.2 330.4L568.2 327.6L570.9 326.7L572.6 325.3L577 327.1L579.5 327.2L579 324.8L579.8 324L579.4 322.4L579.3 321.5L577 318.9L578.1 320.3L576.9 320L577 321.2L576.2 321.5L575 321.4L575.4 322.5L574.8 322.4L575.2 323.3L573.9 322.7L574.1 324.1L572.1 323.9L569.3 323.2L567.8 324.1L567.1 325.9L566.4 327.7L563.7 327.5L562 328.2L559.2 327.5L559.2 329.3L558.3 329.7L558.2 330.4L557.7 330.3L557.3 330L557 329.5L557.2 329.2L557.7 328.7L558.8 328.5L561.1 329.3L563.3 330.1L563.8 329.5L566.2 331.1L565.5 330.1L564.8 329.4L564 329.3L565.9 332.2L567.2 334.6L565.2 333.7L563.4 332.5L563.7 332.9L564 332.4L566.2 333.1L567.9 333L569.1 332.2L572.2 333.3L574.1 333.3L576.3 333.5L576.6 331.9L574.9 328.2L575.2 326.6L576.6 326L578.2 325.6L578.9 324.2L577.5 320.8L578.2 319.6L579.1 318.8L578.5 316.8L579 316.1L578.5 314.5L577.8 312.8L577.2 311.2L577.5 310.9L577.9 311.1L574.8 308.5L575.6 310.5L575.5 312.4L576.6 316.1L576.3 319L573.3 319.6L571.7 321.7L568.5 322.4L565.9 323.4L565.8 326.9L565.2 329.7L565.4 333.2L563.6 335.2L562 337.8L559.1 340L555.4 342.5L549.6 343.6L543.4 345L539.1 348.7L536.3 353.3L541.1 349.3L545.3 343.1L549.7 337.1L555.9 333.3L561.6 329.4L566 324.8L572 322L575.8 317.2L581.9 314.4L585.6 309L590.1 304.1L596.5 301L601.3 296.3L605.5 291.4L611.1 288.2L614.9 283.7L620 280.6L623.3 276L626 270.9L630.3 267.7L633.7 263.7L637.6 260.9L640.9 258.2L644 256.5L644.3 253.4L644.3 251.1L644.6 250.3L644.7 249.8L644.9 249.6L644.9 249.5L644.9 249.4L644.8 249.7L644.5 250.3L643.5 250.7L642.9 251.9L642.3 253L642.4 254.7L642.6 256.1L642.5 257L642.6 258L642.1 258.7L641.7 260.1L641.7 262.8L639.5 264.3L636.6 266.1L635 270.1L630.8 272.1L627.3 275.1L624.1 278.6L618.3 279.6L613.1 281.1L609.1 283.7L606.1 287.5L602.7 291.3L599.1 295.5L594.7 299.8L589 303.4L582.8 307.2L576.1 310.7L571.1 315.8L566.9 321.5L559.7 324.1L556.4 330.9L549.3 334.1L545.7 341.4L540.7 347.8L536.6 352L543.9 346.8L550.5 341.1L557.9 336.7L565 332.4L571.1 327.8L574.9 321.4L581 318L584 312L587.8 307.3L595.3 306.7L600.1 303.9L602.3 299.1L604.8 295L606.4 290.5L607.7 286.2L610.2 283.5L609.4 278.6L610.3 276.5L609.1 273.8L609.2 273.9L608.9 275.5L605.1 275L603.6 278.3L601.7 282.5L598.5 286.3L596.1 291.9L592.1 296.6L587.7 301.7L584.4 308.6L578.4 313.5L573.7 320L570.9 328.8L564.6 334.2L558.4 339.4L550.8 343L544.2 347.1L538.9 351.8L536.3 357L540.8 351.1L548.4 347.8L555 344.1L559.7 339.5L564.2 336L570.2 334.9L575.3 333.9L578.7 332L580.4 328.8L579.8 323.8L582.3 322.2L583.3 320L583.3 317.7L584.7 317.4L585.7 317.5L585.8 317L586.9 317.7L586.5 317L585.7 316.1L585.6 316.2L585.4 316.9L584.4 317.6L581.5 317.4L579.2 318.8L574.8 318.8L572.5 321.3L570.6 324.1L568.4 326.2L566.1 327.6L564.2 328.6L563.5 330L565.1 333L564.6 333.2L565.5 334.3L565 333.4L566.9 334.6L568.8 335.6L568.1 334.2L566.9 332.5L564.2 330L563.3 330L562.7 331.2L563.1 334L562.5 336.3L559.6 336.5L556.4 336.5L554.1 337.4L552.2 338.5L550.2 339.4L548.2 340.4L547 342.1L544.3 342.2L543.9 344.6L541.4 344.7L539.9 345.5L539.3 346.8L538.1 347.1L537.7 348.1L536.3 347.2L536.3 349.4L536.3 349.2L536.3 350.3L536.3 351.8L536.3 352.1L536.3 353.4L536.3 355L536.3 355.1L536.3 355.4L536.3 354.6L536.3 353.9L536.3 353.3L536.3 353.1L538.2 353.2L540.5 353.5L539.7 350.4L541 349.3L541 346.5L543.4 345.6L546.2 344.6L548.6 342.8L550.8 340.5L552.8 337.8L554 334.5L557.1 333.2L559.5 331.5L563.3 331.6L566.1 331.1L566.3 328L567.9 326.3L568.6 323.3L572.1 322.8L573.6 319.9L576.2 317.6L578.9 315.1L583.2 313.6L587.5 311.8L591.1 308.9L592.5 303.9L593.2 298.4L596.2 295.8L598.4 293.3L598.3 289.3L601 289.4L601.1 288L600.2 286.8L599.6 286.8L599.2 288L598.4 289.3L596.9 290.2L594 290L593.8 292.4L591.1 292.3L588.3 292.5L587 294.6L584.7 296.6L582.9 300.2L579.5 303.6L575.2 307.4L570.4 311.6L568.8 319.7L563.6 324.2L559.8 329.9L554.5 333.5L548.8 336.3L545.4 341.5L541.1 346L537.2 351L536.3 354.5L536.7 351.6L541.9 348.3L546.7 344.7L551.7 341.2L557 337.8L562.9 334.8L567.7 330.8L572.2 326.7L574.7 321.3L577.4 317L581.1 314.6L585.9 314.2L588.4 312.3L589.3 309.4L589.4 306.2L590.2 304.4L589 301.2L587.8 298.6L589 299L589.7 299.4L591.1 300.8L591.4 301.7L591.3 302.5L589.8 302.3L587.5 301.4L586.3 301.9L585.6 302.9L585 304.2L583 304.1L583.4 306.4L581.3 306.3L580.2 307.3L576.6 305.7L577.3 308.5L576.3 309.4L576.8 311.4L577.4 312.9L577.9 313.8L578.3 314.3L577.1 313.4L576.3 313.3L575.5 313.9L573.7 314.1L571.1 314.5L569.8 316.8L566.4 318L563.1 319.8L560.1 322.3L559.4 327.1L558.3 331.4L554.6 332.8L550 333.1L547.6 335.7L545.4 338.5L542.6 340.9L540.8 344.1L539.2 347.3L536.4 349.1L536.3 352.5L536.3 353.6L536.3 349.6L538.5 346.5L541.1 342.2L544.4 338.9L546.9 335L549.3 331.2L554.5 330.4L557.8 327.9L559.9 324.3L561 319.7L565.3 318.3L569.4 316.8L572 313.9L579.1 315.3L582.9 313.4L585.7 310.2L590.7 309.2L594.7 307.3L599.5 306.6L603.7 305.7L604.8 302.6L605.9 300.1L607.8 299.1L609 297.7L609.7 295.9L611.9 295.5L613.8 294.5L615.1 292.7L618.4 292.7L620.1 291.2L620.5 288.6L620.9 286.3L620.7 283.6L621.5 282.1L622.5 281L625.5 282.2L627 282L627.8 281.6L628.2 281.1L627.7 279.8L628.6 280.1L628.6 279.8L628.7 279.5L628.7 279.2L628.7 278.8L628.6 278.2L628.6 277.7L628.7 277.6L628.2 277.5L628.7 279.2L628.4 280.8L627 282L622.2 280.2L622 283.4L619.6 284.8L617.7 287.3L612.8 287.8L606.2 287.3L604 292L601.5 296.7L597.4 299.9L593 302.6L588.7 304.9L585.7 308.1L582 310.4L579.2 313.5L572.9 313.1L570.3 316.1L565.4 316.6L563.3 319.1L560.8 320.6L559.9 323.3L559.4 326.2L557.9 328.2L555.9 330L553.8 331.9L550.1 332.4L548.5 335.2L546.8 338.2L544.9 341L541.8 342.6L539.3 344.5L537.7 346.8L536.3 347.4L536.3 349.2L536.3 351.3L536.3 352.8L536.3 351.6L536.3 349.3L536.3 348.3L538.1 348.7L539 347.9L540 346.6L541.3 344.5L543.1 341.6L547.3 339.9L550.5 336.4L553.7 332.7L559.1 331.5L561.5 328.1L563.8 325.7L564.7 322.9L565.5 321.1L566.5 320.2L566.7 318.9L566.8 317.6L567.1 316.3L569.6 316.8L570.9 315.8L570.7 313.3L571.5 311.9L573.9 312.3L573.7 310.3L573.8 308.7L575.5 308.7L578.4 310L581.9 312.2L581.6 311.3L582.5 312.3L582.7 313.4L580.1 312.5L578.8 313.2L575.4 311.9L574.4 313.1L572.5 313.3L572.1 315.2L572.1 317.9L571 319.9L569.8 322.4L565.7 322.6L565.1 326.4L563.4 329.2L561.5 331.8L559.4 334.1L556.4 335.7L552.9 336.7L551.2 339.2L549.3 340.9L546.3 340.9L544.2 341.3L541.7 341L541 342.3L539.6 343L538.5 343.4L538.3 344.1L538.3 343.9L538.7 343.3L539.8 343L540.8 342.5L541.3 341.9L541.7 341.3L541.8 340.5L542.2 339.9L543.5 339.8L544.3 339.1L544.7 338.1L547 339.1L548.5 339.5L550.6 340.4L549.4 338L548.9 336L549.4 334.8L550.2 333.7L550.6 332.5L550.3 330.9L552.5 332.2L552.4 331.7L553.3 332.3L553.7 332.5L552.6 331.1L553.3 331.2L554.8 331.7L556 331.7L556.6 331.3L555.9 330L557.1 331.5L556.1 331.8L554.5 332.1L551 330.9L549.1 331.3L549.8 333.8L549.4 334.8L549.1 335.3L547.8 334.5L547 333.9L547.1 333.8L547.3 333.5L547.8 333.3L548.1 333.1L548.1 333.1L548.4 334L549.2 336.3L549.1 338.2L547.6 339L547.4 341.3L545.7 342L544.6 343.2L543 343.5L542.3 344.6L541.3 345L540 344.8L539.7 345.5L539.2 345.8L538.6 346.1L538.2 346.6L537.1 346.9L536.8 348.6L536.6 350.8L536.3 351.2L536.3 351.9L536.3 353L536.3 353.5L536.3 354.7L536.3 352.7L536.3 352.2L536.3 351.9L536.3 351.2L537.2 351.8L536.8 349.9L537.1 348.8L538.2 348.2L540.7 348.9L543.7 349.7L545.2 348.5L546.6 346.8L548.9 345.6L551.5 344.7L553.6 344L555.2 343.5L555.4 342.6L556.1 342.8L555.2 342L554.8 341.7L554.2 341.2L555.4 342.6L555.9 343.3L555.1 342.9L554.7 343.4L552.8 342.6L551.9 343.2L551.9 344.9L551 346L548.6 346.1L546.5 346.9L545 349.1L544.1 352.4L542.8 355.7L539.3 357.1L536.9 355.7L538.1 353.3L540.2 351.2L542 348.5L544.5 346.3L546 343.3L547.7 340.8L549.2 338.4L551.6 337.3L555.5 337.9L557.8 337L559.6 335.4L562.4 334.9L564.8 333.9L568.1 333.9L571.2 333.6L570.6 329.8L571.8 327.8L572.5 325.9L574.8 326.4L576.4 327.2L577.8 329.1L576.9 329.9L575.2 330.6L571.3 330L567.3 329.6L565.5 331.5L563.9 333.8L562.2 336.1L561.1 339.2L558.4 340.9L556 343.3L553.3 345.6L550.1 347.8L546.3 349.7L541.6 350.7L537 352L536.3 353.3L536.3 352.2L536.3 348.9L537.1 348L539.6 346L542.5 344.6L543.3 341.4L545.5 340L547.1 338.4L549.8 338.4L551.8 337.9L554.3 338.3L554.8 336.8L555.2 335.6L554.4 333.6L554.8 333.3L556.2 334.6L556.4 334.8L558.7 337.3L557 336.1L556.2 336.1L555.3 336.6L552.5 335.8L549.8 335.6L548.8 337.3L549.1 340.5L547.7 341.6L546.4 342.7L546.9 345.1L544.8 344.5L544.5 345.5L543.5 345.6L543.3 346.6L542.6 347.6L542.6 349.8L542.1 352.3L540.8 354.7L539.1 355L540.8 352.3L542.6 349.6L546.2 348.4L548.4 345.6L551.9 343.6L553.2 339.4L551.7 332.4L556.1 331.5L558 328.5L560.1 326L560.5 322L563.7 320.8L565.9 318.6L567.9 316.4L568.8 313.1L571.3 311.7L575 311.7L576.9 310.1L578.5 308.4L579.9 307L582.1 307.3L582.3 306.9L581.2 306.6L578.3 305.6L578.1 308.2L577.5 310.5L576 311.7L575 312.9L573.6 313.2L572.9 314.2L571.3 314.8L572 318.2L570.8 320.5L568.1 321.8L564.8 322.8L564.1 326.5L563.1 330L562.6 333.6L561.5 336.4L559.4 338L558.1 340.2L556.5 342.5L555.5 345.9L552.8 348.5L549.3 351L544.3 352.7L538.6 354.1L536.3 358.1L538.5 356.9L541 355.5L542.5 352.5L546.9 351.5L549.9 348.2L554 345.7L556.9 341.8L560.6 339.1L563.6 335.9L565 331.7L567.7 329.2L570.7 327.4L571.5 323.7L573.4 321.5L575.3 319.5L578 318.7L577.7 314.9L578.6 312.4L579.9 310.4L581.7 308.9L583.4 307.2L585.7 306.4L588.2 305.9L591 305.9L593.1 305.2L592.9 302.2L594.2 300.4L595.2 297.9L597.6 296.5L597 291.9L599.4 290.5L600.8 288.6L601.9 287.1L603.3 286.8L602.8 285.5L603 285.6L603 286.1L602.2 286.2L603.6 288.6L603.5 289.3L605 291.5L605 291.9L604.4 291.6L603.3 290.9L602.1 290.2L600.1 289L600.3 290.5L601.2 292.7L602.2 295.1L599.6 293.6L599.5 294.4L598.5 294.1L597.1 293.6L596.4 293.9L596 295L595.9 297.1L594.5 298.3L594.5 301.6L592.9 303.4L592.8 306.9L592.3 310L591.2 312.4L589.5 314.5L588.3 317.5L583.8 317.4L582.2 320.8L579.5 323.4L577.6 327.1L575.6 330.6L572 332.2L568.5 333.7L563.8 333.8L560.2 335.1L557.8 337.9L553.4 339.2L549.7 341.7L544.8 343.6L540.2 346L537.4 350.4L536.3 354L536.3 354.7L536.3 353.6L536.3 350.8L537.9 348.6L540.9 345.9L543.5 342.2L547.7 339.8L551.7 337.1L555.5 334.5L558.8 331.9L559.9 327.8L562.3 325.8L564.7 324.4L568.1 324.6L568.6 322.2L568.9 320.1L568.4 317.3L569.9 316.8L570 315.6L569.6 314.3L570.1 314.7L569 314.4L568.6 315.4L568.1 316.8L565.6 316.4L564.9 317.8L563.9 318.7L563.1 319.9L561 319.9L560.2 321.8L560.1 325L557.5 326.5L557.3 330.8L554 332L553.3 335.5L551.8 337.5L550.7 339.4L549.9 341.4L548.3 342.7L545.5 343.2L543.8 345.2L541.5 346.5L541.1 349.5L538.3 349.8L537.6 349.5L539.5 348.4L541 348L541.9 348.1L544.2 350.3L544.5 351.3L542.5 350.4L541.5 350.9L540 350.9L540.1 352.7L539.7 353.8L539.6 355.1L538.6 355.6L537.2 355.5L537 356.8L536.3 357.5L536.3 356.3L536.3 355.3L536.3 355L536.3 356.2L536.3 356.7L536.3 356.9L536.3 357.8L536.5 358.6L537.3 358.4L538.6 358.6L538.9 358.1L539.9 358.1L540.6 357.9L540.5 357.3L540.3 357L540.7 358L540.3 358.3L540 358.6L539.8 358.6L538.6 358.4L536.8 356.9L536.8 354.4L537.8 353.4L540.5 354.6L541.9 355.1L541.6 354L540.1 351.4L541.8 351.6L542.4 349.9L545.4 350.1L546.5 348.1L547.8 346L547.2 342.5L548.2 340.8L552 342.5L553.2 342.2L554.3 341.9L554.8 341.6L555.7 341.7L556.4 341.9L556.2 341.7L557.2 343.2L556.5 343.6L555.5 343.8L555.1 344.9L555 346.2L555.7 347.9L554.1 346.8L555.6 348.3L555.8 348.2L556 348.1L556 348.1L555.6 348.3L554.7 348.5L553.6 349.1L552 349.6L551.1 350.5L549.3 350.4L548.7 351.2L547.5 350.9L548 352.1L547.1 351.9L545.3 351L543.9 350.8L543.4 351.9L542.6 353.3L541 354.2L539.3 355.5L537.8 357L537.5 358.6L537.1 358.6L537.3 358.6L537.3 358.6L536.3 358.5L536.3 355.5L537.9 353.9L540.2 352.2L543.7 351.3L547.9 350.8L551.2 349.2L553.4 346.9L555.5 344.8L556.2 341.7L556.8 338.9L557.8 336.7L558.8 335.1L559.5 333.4L560 331.9L561.9 332.1L562.7 331.2L564 330.6L564.9 329L567.6 328.8L569.8 327.5L573 327L575.6 326.2L574.9 322.6L575.5 321L574.4 318.4L574.9 317.9L576.5 318.8L577.7 319.4L578.8 320L580.5 321.2L581.5 322.1L581.9 323.1L581.2 323.7L580.7 325.2L578.5 325.8L576.2 326.6L575.9 329.5L575.3 332L571.3 330.8L569.5 331.4L567.9 332.1L565.9 332.2L564.1 332.8L565.6 336.7L566.8 340.1L565.3 340.7L564.3 341.4L563.7 342.1L563.2 342.4L562.4 342.2L561.4 341.6L561.8 342.3L559.8 340.9L559.3 341.2L558.2 341.2L557 341.3L555.7 341.3L555.7 342.4L554.2 341.7L553 340.7L553.4 340.7L553.5 339.5L552.8 336.8L554 335.4L556.7 335.1L558 333.4L559.9 332.6L561.3 331.8L561.1 329.9L561.3 328.8L562 328.1L562.9 327.3L561.5 323.6L561.3 320.5L563.5 319L565.4 316.7L568.6 315.4L568.8 311.4L571 309.4L572.9 307.8L574.1 306L575.4 305L576.7 304.4L578.6 304.8L580.8 305.7L584.1 307.6L586.4 308.2L587.1 306.9L588.4 305.7L589.2 303.5L591.2 302.1L593.4 300.6L595.9 299L598.7 297.5L601.8 296.4L604.5 295L605.1 291.7L607.1 290.2L608.5 288.5L609.3 286.8L608.4 284.1L609.9 284.3L610.2 283.8L612 285.3L612 285.1L612.3 285.2L611.6 284.1L612.6 284.8L613 285.1L613.7 286.5L613.7 288.5L612.5 290.6L610.3 292.7L605.9 293.4L602.3 295.1L601.6 299.3L601.3 303.5L600.8 306.7L598.8 307.8L597.1 308.8L592.7 306.8L589.1 305.7L588.6 307.9L586 308.7L584.7 311.5L582.9 314.6L579.5 316.7L577.3 320.3L573.5 322.2L569.5 323L567 324.2L565.5 325L565.1 325.6L566.5 327.1L566.4 326.7L566.7 326.8L567 327.5L568.3 329.7L568 330.7L569.4 333.8L568.7 335L563.4 331.7L561 331.5L560.1 333.1L560.3 335.9L559.7 338.4L558.1 340.5L556.4 343.1L552.7 344.4L549.4 346.8L546.4 350.2L541 351.5L537.8 354.8L536.3 354.5L539.1 352.6L541.5 349.6L544.6 347.3L547.6 344.9L550.2 342.6L552.7 340.6L554.4 338.1L556.3 336.2L558.3 335.1L560.8 335L562.1 334.5L562.8 334.2L563.7 334.7L563.4 334.7L562.6 334.9L560.3 334.1L558.5 334.4L556.6 334.7L555.6 336.1L556.1 338.6L554.7 339L554.5 340.4L552.7 340.1L552.7 341.6L553 343.3L552.7 344.2L553.8 346.3L553.4 346.5L552.9 346.3L553.8 347.1L554.1 347L553.9 346.3L554.8 346.7L556 347.4L555.8 346.4L556.2 346L556.9 345.4L558.2 345.2L559.7 344.6L561.2 343.3L563.2 341.6L564.7 338.8L566.4 335.6L569.9 333.9L571.4 330.4L575 329.8L576.3 327.9L577.2 326.7L576.1 324.6L575.8 323.8L573.5 321.4L573.2 321.1L572.4 320.4L572.6 320.6L570.9 319L570 318.3L569.2 317.7L568.7 317.8L568.1 318.3L566.8 318.8L566.8 321.7L564.5 323.4L563.6 327.6L561.4 331.5L557.7 334.5L553.3 336.9L552 342L547.1 343L545.3 346.3L541.8 347L540.3 349.4L538.3 350.8L537.1 353.2L536.3 354.3L536.3 353.5L536.3 350.5L537.2 349.8L539.8 349.4L541.6 348.6L541.1 346L542.5 345.9L542.5 344.8L542.7 344L543.7 343.8L545.4 343.7L547 343.2L548.9 342.5L551.3 342.2L553.7 341.8L555.8 341L558.2 340.5L560.1 339.4L563.3 339.7L566.6 340.4L567.5 339.2L568.2 338.4L568.4 337.8L566.9 336L567.8 336.8L568.3 337L569 337L569.6 336.7L571.4 337.3L568.9 333.3L568.8 331.8L570 331.8L571.6 332.3L570.8 330.6L570.5 329.7L571.4 330.2L570.5 328.9L573.2 331.4L573.6 331.8L571.6 330.3L569.4 329L568 329.1L566.7 329.4L564 327.9L563.5 328.3L562.2 327.4L562.5 327.9L562.2 327.7L562.9 329L563.6 330.7L562.9 331.2L562.9 332.6L561 332.2L559.4 332.1L558.4 332.5L558 333.4L558.6 334.8L558.8 335.4L558.4 334.7L558.9 334.5L559.5 334.2L559.4 333.2L557.9 331.4L556.5 330.3L555.6 330.5L554.1 330.6L552.1 330.5L550.3 330.9L548.8 331.7L548.9 333.8L548.1 335L548.3 337.2L547.6 338.6L546.4 339.8L544.9 341.4L542.8 342.8L540.8 345L539.5 348.5L537.6 351.5L536.3 353.6L536.3 355.1L536.3 353.6L537.5 351.2L540.7 348.4L543.5 345.3L548.1 344.2L552.3 343.4L555 342L558 341.8L558.3 339.5L557.3 336.4L558.7 335.6L559.1 334L560.7 333.4L561.7 332.8L563.1 333L562.9 332.7L562.3 333L562.8 335.4L563.7 338.5L562.3 339.4L561.6 340.8L560.1 341L560.3 342.6L560.5 344.2L559.3 344.8L557.1 345.4L555.8 348.2L552 349.6L549.3 353.2L543.5 354L540.4 357.5L537.1 358.6L537.5 357.5L540.4 355.8L542.7 353.2L544.6 350.3L546.3 347.2L548.9 345.1L550.8 342.6L552.8 340.4L553.8 337.5L557.8 337.9L559.9 337.1L559.8 334.7L561.5 334.9L562.4 335L563.2 335.7L565.5 338.7L564.1 338.4L561.2 337L558.3 335.6L556 334.4L555.2 334.1L555.7 334.5L557.1 335.4L557.9 335.4L556.7 333.4L556.9 333.1L556.4 332.3L556.9 333L556 332.4L554.9 331.8L553.1 330.4L553.3 330.4L554.4 330.4L556.1 329.9L558 328.5L559.6 325.8L560.1 321.3L563.2 319.1L567 317.8L570.3 316.3L572.8 314.7L574 312.1L574.7 309.4L575.7 307.3L579.2 307.6L581.6 307.1L585.3 308.1L586.4 306.7L587.9 306.5L588 305.4L589.1 305.8L589.8 306.1L591.7 307.6L594 309.7L593.8 309.3L595.1 310.9L594.8 311.5L592.9 311.1L589.8 310.3L588.2 311.4L586.6 312.8L586.4 316L583.3 316.7L581.2 318.6L577.2 319L572.7 319.3L570.6 321.9L568.1 324.1L567 327.6L565.4 330.8L562.3 332.6L560.4 335.9L558.2 339.5L555.4 342.8L552.7 346.7L549.4 350.2L546.3 353.9L542.6 356.6L538.8 358.4L536.7 358.6L536.3 358.2L539.1 357L542 355L544.4 353.2L546 351.4L544.6 347.8L543.5 345.3L543.7 345L544.1 345.4L543.2 344.8L541.1 343.4L540.5 343.6L539.6 343.9L540 346L539.4 347.7L537.4 348.5L536.3 349.8L536.3 349.7L536.3 350.4L536.3 351.8L536.3 351.3L536.3 350.7L537.7 350.1L540.3 349.7L541.5 348.7L541.6 347.5L541.8 346.8L542.4 346.6L543.5 347L544.1 346.8L544.7 346.8L544.9 346.4L545.5 347L546.5 348.5L547.9 351.4L547.6 353.3L546.3 354.8L543.8 355.4L542.3 356.9L540.8 357.9L539.8 358.6L541.1 357.4L543.7 355.6L546.7 354.6L549.1 353.3L550.7 351.1L552.3 348.9L555.6 348.1L555.7 343.9L559.2 343.2L560.2 340.5L561.2 338.3L563.5 338.1L565.6 338.2L566.5 337.3L566.1 335.2L567.5 335L568.5 334.8L567.8 333.3L567.6 333L567.1 333.2L567.1 334.5L564.2 333.7L561.9 333.7L560.5 334.7L558.1 334.7L557.9 336.8L555.8 337.2L554.2 338.1L551.2 337.7L549.8 339.5L548 341.3L545.9 343.5L543.1 345.4L540.8 348.5L536.8 350.2L536.3 351.7L536.3 353.7L536.3 353.4L536.3 351.5L536.3 350.1L537 348.5L539 348.1L539.7 346.2L541.1 344.8L542.5 343.3L542.4 340.6L543.9 340.2L544.2 340L544.5 341.2L544.5 343.4L543.7 345.8L541.7 347.6L540.3 350.4L537.7 352.3L536.3 353.9L536.3 355.5L536.3 356.2L536.3 357.6L536.6 355.7L539.3 352.9L543.4 351L544.7 346L549.5 344.2L553.8 342.1L558.1 340.3L561.4 338.1L562.8 334.5L563.9 331.4L567.1 331.1L570.8 332.2L571.4 331.3L570.6 329.8L568.8 328.4L568 328.8L567.1 329.8L566.1 330.9L565.1 332.3L564.1 333.9L562.5 335.2L560.7 336.7L558.9 338.7L556.9 340.8L555.9 344.2L555.5 347.7L552.2 348L550.3 349L549.5 350.7L549.7 353L548.4 353.7L547 354.5L545.1 355.1L542.1 355.1L539 355.4L536.7 356.7L536.3 356.8L536.3 356.5L536.3 355.2L536.3 355.5L536.3 355.7L536.3 355.5L536.3 355.1L536.3 354.5L536.3 351.6L536.3 349L536.3 347.1L539.1 346.3L539.4 343.5L541.2 342.8L542.4 341.5L544.4 340.8L546.8 340.4L548.9 339.4L551.5 338.7L553.9 337.8L556.4 336.9L559.1 335.9L560.6 333.5L564.1 332.5L564.8 328.5L566.6 325.5L569.4 323.8L569.8 319.8L571.2 317.3L569.3 311.8L570.6 309.7L572.9 309.1L576.8 310.3L581.1 312.5L579 309.1L579.4 309.1L579.4 309.4L579.4 310.3L578.7 310.7L578.2 311.4L578.2 312.6L578.8 314.8L577.5 315.4L578.4 319.1L576.8 320.8L576.3 323.9L573.5 324.7L573.6 327.9L572.4 329.1L572.9 331.4L571.2 331L570.5 331.3L569 331L569.8 333L566.4 331.1L565.7 332.3L564.3 332.9L564.3 335.2L562.3 335.3L561.7 336.8L560 337L559.3 338L558.4 338.7L557.2 339.5L557.2 341.8L555.8 343.2L554.7 345.3L553.9 348.1L550.7 348.6L548.5 350.2L544.3 349.4L542.5 350.7L541.5 352.3L540.3 353.5L538.6 354L536.7 354.2L536.3 354.6L536.3 355L536.3 353.8L536.3 353.2L536.3 352.1L536.3 351.7L536.3 349.1L536.3 347.7L539.7 346.9L541.9 345.1L543.3 342.7L545.1 340.6L546.1 337.6L549.3 336.6L552.3 335.5L554.1 333.5L557.6 333.4L559.6 332.2L562.4 332.2L562.6 330L562.9 328.7L564.4 329.5L564.5 329.7L564.6 330.8L564.7 332.8L561.6 332.1L562 335.4L560.8 337.4L556.5 336.7L552.7 336.8L551.7 340.3L548.7 342.3L545.2 344.1L541.9 346.5L538.8 349.3L536.3 351.5L536.3 356.3L536.3 356.4L536.3 357.2L537 354.1L540.9 351L545.4 348.7L549.4 346.4L553.3 344.8L554.2 340.6L555.6 337.6L558.4 336.4L562.7 337.2L564.1 335.5L563.9 333.1L562.7 330.7L563.1 330.8L562.9 331.2L561.5 331.4L560.9 332.9L561.4 336.2L559.2 337.3L555.6 337.6L550.3 336.8L547.5 339L545.2 342.3L541.7 345.3L537 347.9L536.3 350.3L536.3 350.7L536.3 350.1L538.2 348.1L540.6 345.4L542.3 341.4L545 337.8L547.4 333.5L551.2 330.7L556.6 329.8L558.6 326.2L560.7 323.8L562.5 322.4L563 321.2L564.7 322.6L565.1 323.8L565.4 325.8L564.4 327.2L564.1 329.6L563.1 331.5L560.7 332.3L558.2 333.2L555.2 333.7L552.9 335L552.7 338.3L551.4 340.4L549.8 342.1L547.8 343.2L545.1 343.3L542.9 343.5L542.5 345L542.4 346.3L541.9 346.7L541.5 346.9L541.3 346.9L540.3 346L540.8 346.6L540 346.1L539.1 345.6L540.2 347L541.2 348.1L543.1 349.8L543.8 349.9L541.4 346.6L542.4 346.7L543.2 346.4L544.7 346.9L545.1 346.4L545.1 345.3L545.2 344.2L545 342.5L545.7 341.3L547.2 340.8L547.3 338.8L547.1 336.6L548.9 336.6L548.2 334.1L549.3 333.6L549.7 332.3L550.6 331.4L552.5 331.2L554.6 330.8L557.8 331.1L559.9 330L562.5 329L566.3 329.2L572.1 331.3L575.6 331.2L576.8 328.9L579.4 328.2L580.9 326.5L582.1 324.7L584.3 324L585.5 322.3L585.9 319.7L588.5 319.2L589.1 316.6L591.3 315.4L593.3 314.2L595.3 313.3L597.3 312.5L599.2 311.9L599.7 310.3L597.2 306.1L596.9 304.5L596.1 303L595.9 302.7L596.4 303.8L596.1 305L592.5 303.8L588.9 303.8L586.5 305.7L583.8 307.9L579.7 309L579 313.6L576.1 316.4L573.8 320.2L571.2 324.3L568 328.5L563.4 331.6L559.2 335.5L555.2 339.5L551.5 344.1L547.1 348.2L542.6 352.6L537.1 355.6L541.7 351.4L545.9 347.4L548.9 342.6L552.9 339L559.3 337.7L564.7 335.2L569.4 331.8L574.1 328.5L577.2 324L580 320L582.7 316.7L586.8 315.5L589.1 313.2L590.5 310.7L592.1 309.1L593.6 308.1L595.8 308.6L596.9 308.8L596.3 308.2L595.7 308.4L594.8 309.4L591.9 309.1L588.7 309.5L586.3 311.3L583.8 313.5L580.4 315.1L578 317.7L575.7 320.2L572.2 321.2L569.7 322.6L568.2 324.8L568 328.3L564.1 328.3L561.7 330.4L558.4 332.2L555.6 334.7L554.9 339L553.5 341.8L552.3 343.8L549.6 343.6L548.2 344.3L546.9 345.4L544.9 346.3L542.1 347L540 348.8L537.7 350.2L536.5 352.3L536.3 353.1L536.3 353.7L536.3 353.2L536.3 351.2L536.3 350.3L536.3 350.3L536.3 350L536.3 349.2L536.3 349L536.3 347.6L537.5 346.8L538.3 343.8L541.7 342.6L544.1 340.2L545.7 337.1L547 334.1L548.6 332.1L550.4 331L553.6 331.8L555.2 331.1L558 331.6L559 329.8L561 328.7L563.2 327.5L565 325.7L567.5 324.7L570.8 324.6L573.9 324.4L576.9 324.1L580.7 324.4L584 324.1L585.6 321.9L587.3 319.5L589.2 317.3L591.6 315.4L593.4 312.7L597.2 311.5L600 309L599.5 303.1L598.3 296.7L600.2 293.6L604.3 293L607.1 291.3L608.5 288.1L608 282.9L612.3 282.3L615 280L617 277L619 274.1L622.3 272.9L623.3 269.9L625 268.4L624.7 265.8L625.5 265.3L624.8 264.4L624.1 264.7L622.7 265.1L620.5 265.8L621.1 270L619.3 272.6L616.2 274.6L612.6 276.5L607.6 277.7L606.4 282.9L604.7 287.6L601.5 290.3L598.3 292.6L596.1 295.4L591.1 295.1L589.7 298.4L588.5 302.6L585.6 306.3L582.3 310.7L579 316.4L574.6 321.9L568.4 326L564 332.1L557.6 335.8L551.5 339.1L547.8 344L542.6 346.7L539 350.3L536.3 353.4L536.3 354.5L536.3 353.5L536.3 352.7L538.3 351.8L541.9 348.8L543.9 344.3L547.8 342L552.2 340.9L554.4 338.7L557.3 338.2L560.5 338.9L561.9 338.7L564.1 340.1L565.3 340.7L565.5 340.6L565.7 340.6L565.9 340.6L566 340.6L565.9 340.6L565 340.2L564.2 340.2L564.3 341.4L563.8 342.1L563.1 342.5L561.2 341.4L559.9 340.8L558.3 340.1L556.3 339.3L553.9 338.7L553.4 340.4L552.8 342.6L551.6 344.4L549.1 345.2L547.5 346.8L547 349.8L544.5 350.9L541.6 351.8L539.2 353.2L537.2 355L536.5 357.8L537 358.6L538.5 358.6L539.4 358.6L539.8 358.6L540.6 357.4L542.5 356.6L543 354.5L543.7 353L545.2 352.6L545.7 351.7L546.9 352.1L548.3 353.1L547.8 352.4L546.8 351.2L545.2 348.9L545.7 348.2L547 347.5L549.5 347.1L553.3 347.1L555 344.6L557.1 342L560.2 340.5L563 338.8L566.8 338.4L568.6 336.2L571.7 335L575 333.6L578 331L580.8 327.5L584.2 324L586.5 319.2L588.7 314.5L590.9 309.9L595.3 308L598.7 305.4L599.7 300.9L599.5 295.8L597.1 289.2L598.8 287.4L598 283.6L599.4 283L600.2 282.5L600.3 282.2L600.2 282.6L599.1 283.1L597.5 284L596.6 286.3L593.7 287L595.5 292.9L592.8 294.7L591.1 298.2L588.9 302L586.4 306.2L583.7 310.9L581.5 316.4L580.2 322.5L575.8 324.9L572.7 327.7L568.4 328.3L565.1 328.9L564.7 331.6L564.7 334.1L565.4 336.9L564.6 338L563.3 338.3L562.5 339L561.4 339.2L560.5 339.1L559.2 338.3L558.2 337.4L558.8 337.7L559.8 338.1L559.8 337L559.5 335.1L560.3 333.7L561.3 331.9L563 330.2L564.3 328L567.2 327.1L570.4 326.7L571.3 324.1L575.5 324.8L575.9 321.5L577.6 319.3L582.2 319.9L583.9 317.5L587.1 316.8L587.2 313.3L588.8 311.6L590.3 310.2L591.7 308.6L591.3 305.2L590.8 301.4L593.2 300.1L596.2 299.6L598 298.5L596.9 295.3L596.5 294.1L595.7 293.8L594.1 293.6L592.7 294.2L590.2 293.8L588.9 294.4L588.6 295.6L587.6 296.1L587.5 297.9L587.2 300.1L587.7 304.2L586.6 307.7L584.2 310.6L580.8 312.8L578.5 316.1L576 318.9L574.5 322.6L570.9 324.1L568.5 326.5L566.1 329L563.5 331L561 332.8L559.5 335.2L558.3 337.4L556.6 338.9L555.9 341L554.5 342.2L553.9 344L554.1 346.5L550.1 344.7L547.4 344.1L547.1 345.6L546.7 346.6L545.6 346.6L544.9 346.4L544.7 346.2L544.5 346L544.7 346.3L543.9 346.2L543.4 346.8L542.9 348.2L541.4 349.1L539.9 350.4L538 351.4L536.8 353L536.3 354.4L536.3 355L536.3 354.9L536.3 355.9L536.3 356L536.3 355.5L536.3 354.4L536.3 353.3L536.3 353.5L537 354L540.5 354.8L543 354.1L545.9 353.1L547.5 350.8L548.2 347.6L550.8 346.5L554.6 346.9L555.8 344.8L558.6 344.5L561 343.6L563.1 342.6L564.7 341L566.9 340L568.3 338.3L570.6 337.7L569.6 334.2L568.7 331.2L568.9 329.9L569.3 329.8L569.4 330.4L568.8 331.1L568.6 332.7L566.6 333.1L563.9 332.9L561.3 333.2L559.9 334.9L558.9 337.2L556.1 337.7L552.7 337.8L552.2 340.6L551.4 343L550.8 345.8L549.2 347.5L547.8 349.7L546.8 352.4L544.3 353.3L542.5 354.8L540 355.3L539 357.2L539 358.6L539 358.6L538.5 357.7L539.2 357.3L539 356.5L538.5 355.6L538 354.5L538.5 354L539.3 353.2L540.9 352.4L542.9 351.5L543.7 349L544.1 346L545 343.6L548.1 343.4L551.2 343.4L552.4 341.2L553.1 338.6L553.8 336L556.4 335.5L558 334.5L559.8 334.3L559.5 332.9L559.1 332L558.8 331.8L559.5 332.6L559.4 332.5L560.1 332.8L560.2 332.1L561.8 332.7L563.8 333.4L565.1 333.3L565.6 332.5L564.8 330.8L564.5 330L564.6 330.4L564.7 331.9L563.5 333.3L561.2 335.2L558.8 338.7L555.9 343.2L550.6 346.3L545.3 349.9L540.4 353.6L539.1 356.8L542.9 353.9L547.3 350.8L551.2 347.1L553.8 342.4L557.6 339.7L558.7 335L563.7 334.9L565.4 331.9L566.6 328.6L569.6 327L573 326L572.5 321L577.6 322L578.7 319.6L578.5 316.6L578.8 315.3L580.2 316.3L578.9 315.8L577.8 316.7L577 318.6L576.2 320.9L574.1 322.1L574.8 325.9L573.6 327.8L571.5 329L569.9 330.9L568.1 333L565.6 334.8L563.8 337.8L562.4 341.4L558.1 342.2L556.8 345.6L554.9 348.4L551.7 349.8L549.9 352.8L546.6 354.7L542.8 356.7L539.6 358.6L539.3 358.6L539.3 358.6L540.5 358.3L543.2 356.4L546.3 354.9L549.1 353.2L550.8 351L552.5 349.4L554.5 348.6L556.1 348L556.5 346.7L556.8 345.5L557.9 345.2L559.3 344.9L560.5 344.1L561.7 342.9L563.7 342.1L563.9 339.5L565.5 338.8L566.3 337.8L565.5 335.7L564.1 333.5L562.4 331.3L562.6 331.1L562.4 330.7L562.3 330.6L562.8 331.3L562.8 331.8L561.7 331.5L560.4 331L559.2 330.9L559.2 332L558.1 332.3L556.5 332.2L555.6 332.9L553.1 331.6L553.1 332.4L552.2 331.6L551.3 330.6L551.6 330.6L551.6 330.6L551.3 330.6L550.7 330.8L551.9 332.9L549.8 331.8L549 331.6L548.8 331.6L549.1 331.3L549.8 331L551 330.7L552.5 330.5L553.8 330.3L554.9 330.4L555.2 330.4L554.9 330.4L554 330.3L553 330.4L551.8 330.6L550.4 330.9L549.3 331.6L549.7 333.9L548.4 334.5L548.9 336.5L547.3 335.9L547.1 336.4L547.7 337.8L548 338.9L547.2 339.1L547.5 340.6L547.4 341.5L548.9 343.9L548.9 344.9L549.2 346.1L549.4 347.1L548.5 346.9L547.8 346.8L545.8 345.1L545.7 345.4L546.7 346.8L546.7 347.1L546 346.8L545.3 346.4L545.2 346.6L546 347.9L545.1 347.7L545 348.7L544.5 349.5L544.6 351L543.1 350.9L542.4 351.5L543.1 353.5L542.3 354L543 356L542.1 356.9L540.8 357.7L539.8 358.6L539.3 358.6L539.3 358.6L539.4 358.6L539.1 357.2L540.3 354.8L541.2 351.7L544.2 350.6L547.2 349.8L548.5 347.4L551.4 347.2L551.7 344.8L551 342L551.4 340.8L551.7 340.2L551.6 339.3L552.6 339.6L553.6 339.8L555 340.2L556 340.2L555 338.6L554.6 338L553.9 337.3L553.9 337.2L554.9 337.6L555.8 337.2L556.6 336L558.5 335.6L559.2 334.3L559 332.7L559.7 332.6L559.5 331.9L560.1 331.8L561.2 331.7L560.8 329.5L563 329.7L564.3 328.9L564.7 327.7L563.7 325.8L561.8 323.7L563.5 325.7L565 328L566.2 330.1L564.6 329.3L563.8 329.1L562.6 328.2L563.9 329.8L564.3 330.3L564.9 331.3L564.5 331.7L563.5 332L561.7 331.8L560.8 333.1L559.3 334.3L557.4 335.6L556.9 338.8L553.6 339.8L550.6 341.8L546.9 343.4L543.5 345.9L541.5 349.8L539.4 353.7L536.9 357L537.4 358.6L538.9 357.5L542.1 355.3L545.5 353.2L548.4 351L550.3 348.1L552.6 345.8L555.5 344L559.6 343.3L562.8 341.1L564.2 336.9L568.8 335.7L570.6 331.7L573.5 329.5L574.8 326.3L576.6 324.6L576.1 321.4L575.8 319.4L577.9 320.5L577.1 319.3L576.2 318.2L575 317.4L574 317.3L574.7 319.4L573.4 320.3L571.5 321.4L568.9 322.9L564.8 323.9L562.8 328.1L559.1 331.4L554.6 334.6L550.5 338.5L546.3 342.2L542.2 345.7L539.9 350.3L536.3 352.1L536.3 354.9L536.3 352.9L540 349.3L545.1 344.7L549.4 340L555.4 338L558.8 334.6L562.6 333.3L564.9 331.9L565.4 329.7L563.5 325.5L562.4 322L564.9 321.4L568 320.7L571.3 319.6L572.6 316.3L576.4 315.8L578.3 314.1L580.4 313.3L581 311.5L582.2 310.5L583.6 309.5L585.4 308.6L586.8 307.1L587.6 305L588.7 303.6L589.4 302.5L589.6 301.9L590.6 303L590.7 303.9L589.3 304L587.5 303.7L586.3 303.9L584.1 302.5L583.1 301.6L582.8 300.7L583.1 299.7L583.5 298.4L584.6 297.7L584.5 296.1L585.7 296.1L585.3 294.8L586.4 295.5L585.8 294.4L586.2 294.3L587.9 295.3L588 294.8L589.8 296.2L590.5 296.7L589.3 296L588 295.3L586.5 294.3L586.3 294.3L586.7 294.2L588 294.8L590.2 296.3L591.9 297.6L594 299.6L595 301L594.2 300.9L593.8 301.1L594.2 301.9L592.3 299.9L592.6 299.9L591.6 298.5L593.8 300.6L597.8 305.3L600.5 309.7L598.6 310.4L596.1 311.4L592.1 311.5L588.5 312.4L585 313.7L582.6 316.3L581.3 320.4L579.5 324.4L574.2 325L572.1 329.2L568 331.4L562.6 332.4L557.6 333.7L553.9 336.3L549.8 338.7L546.8 342.5L543.3 346L540.3 350.1L536.3 352.3L537 351.6L540.6 347.2L545 343.9L548.4 340L552.3 337.4L557.3 336.9L561.4 336.4L562.8 334.3L564 332.7L564 330.5L563.6 328.1L563.2 325.8L563.6 324.4L564.1 323L565.5 322.9L568.1 324L570.8 325.4L569.3 322.6L569.3 321.4L569.8 321.1L569.4 320.3L568.6 319.6L569 320.5L567.6 319.8L568.3 321.2L567.2 320.7L566.1 320L565.9 320.1L565.4 319.7L564.9 319.6L565.1 320.3L563.7 319.3L563.1 319.2L562.8 319.2L562.6 319.2L563.2 319.9L562.4 319.2L563 320.2L565.1 323L565.1 324.1L564.8 325.4L563.3 325.8L562.6 327.2L561.6 328.5L562.6 331.3L562 332.1L562.7 333.5L561.7 332.7L560.4 331.6L560.4 332.3L559.2 332.8L559 335.2L558 338.1L555.7 340.4L552.1 342L551 346.3L548.2 349.1L546.9 353.2L542.8 354.1L539.7 355.3L538 357.3L538.9 357.4L541.5 355.8L542.9 353.5L545 352.8L543.9 349.8L542.9 347.8L542.8 347.5L542.7 347.8L541.6 347.7L540.4 347.8L539.8 348.8L539.1 350.1L538.6 351.7L537.6 352.8L537 354.2L536.3 354.5L536.3 353.2L536.3 352.1L536.3 352.1L536.3 350.3L536.3 349L536.7 347L538.5 345L540.3 342.8L541.9 340.2L544.5 338.5L546.4 336L547.7 333.3L549.3 331.2L552 330.6L554.7 330.4L556.7 329.7L558 328.4L558 326.2L559.6 325.8L560.6 325.4L560.5 324.7L559.7 324.3L559.7 325.4L558.5 326.2L558.4 328.7L558 331.3L555.4 332.3L553 333.8L553.6 338.6L551.9 341.5L550.1 344.5L545.4 344.9L541.5 346.4L538.9 349.4L536.3 352L536.3 352.3L539.5 350.8L542.3 348.7L544.9 346.4L546.9 343.4L549.7 341.3L553.7 340.4L558.5 340.6L560.7 338.6L563.7 338.1L565.2 336.8L565 334.6L564 332.2L564.3 331.9L563.8 331.4L563.3 331.7L563.1 332.7L564.5 335.3L564.6 336.5L562.6 335.2L562.7 335.9L562 336.1L559.6 335.3L558.7 337L557.6 339.3L557.8 343.3L555.2 344.6L552.4 346L550.5 348.1L547.1 348.8L545.1 350.9L543.4 353.1L541.9 355.4L540.8 357.8L539.6 358.6L539.8 358.6L541.6 357.1L543.4 355L546 353.9L546.9 351.3L549 350.3L550 348.9L551.7 348.6L552.3 347.5L551.3 345L552.9 344.9L554.2 344.4L555.6 343.7L557.7 343.4L559.2 342.2L562.3 342L563.4 339.3L566.1 337.6L571.8 338.2L574.1 335.2L577.1 333L578.6 329.4L577.2 323.5L577.1 319.4L577.6 316.4L578.5 314.2L578.6 311.3L577.7 307.4L580.9 307.6L582.9 306.4L585.8 306.1L587.4 304.2L590.3 303.1L591.8 300.2L595.3 299L597.5 296.3L597.5 291.5L600.2 289.9L602.1 288.1L604.1 286.9L604.6 284.8L607.2 284.8L609.7 284.4L609.9 281.4L612.6 280.5L613.2 277.4L615.1 275.8L617 274.3L618.6 273L623.2 275.1L624.5 274.2L624.6 272.6L625.3 272.5L624.8 271.7L626 273.4L626.2 274.6L626.9 276.5L625.8 276.5L625.1 276.9L625.7 278.7L625.4 279.9L622.4 279L619.7 279.5L617.2 281.3L615.4 285.1L612.4 288.8L609.6 293.5L605.8 297.7L601.6 301.8L597.5 305.9L592.4 308.8L587.8 312.4L582.5 315.5L578.1 319.9L572 322.9L567.3 327.5L561 330.5L556.2 334.9L553 340.7L549.8 346.3L544.8 349.4L538.8 350.6L536.3 353.3L536.3 354.2L536.3 350L538.7 348L540.7 345.4L543 344.4L544.3 343.4L545.2 342.8L547.3 343.9L548.6 344.3L550.3 345" fill="none" stroke="#0072BD" stroke-width="1" stroke-linejoin="round"/>
<ellipse cx="571.9" cy="309.7" rx="2.6" ry="1.3" transform="rotate(-45 571.9 309.7)" fill="none" stroke="#0072BD" stroke-width="0.8"/>
<ellipse cx="555.2" cy="327.8" rx="2.6" ry="1.3" transform="rotate(-45 555.2 327.8)" fill="none" stroke="#0072BD" stroke-width="0.8"/>
<ellipse cx="594.3" cy="287.3" rx="2.6" ry="1.3" transform="rotate(-45 594.3 287.3)" fill="none" stroke="#0072BD" stroke-width="0.8"/>
<ellipse cx="580.2" cy="327.9" rx="2.6" ry="1.3" transform="rotate(-45 580.2 327.9)" fill="none" stroke="#0072BD" stroke-width="0.8"/>
<ellipse cx="619.6" cy="287.8" rx="2.6" ry="1.3" transform="rotate(-45 619.6 287.8)" fill="none" stroke="#0072BD" stroke-width="0.8"/>
<ellipse cx="600.3" cy="308.3" rx="2.6" ry="1.3" transform="rotate(-45 600.3 308.3)" fill="none" stroke="#0072BD" stroke-width="0.8"/>
<ellipse cx="556.6" cy="346.6" rx="2.6" ry="1.3" transform="rotate(-45 556.6 346.6)" fill="none" stroke="#0072BD" stroke-width="0.8"/>
<ellipse cx="617.8" cy="266.1" rx="2.6" ry="1.3" transform="rotate(-45 617.8 266.1)" fill="none" stroke="#0072BD" stroke-width="0.8"/>
<polygon points="537.1,359.4 539.1,357.8 541.1,356.1 543.2,354.5 545.2,352.9 547.2,351.3 549.3,349.7 551.3,348.1 553.3,346.4 555.4,344.9 557.5,343.3 559.6,341.7 561.6,340.2 563.7,338.6 565.8,337 567.9,335.4 569.8,333.7 571.7,332 573.7,330.3 575.6,328.6 577.4,326.8 579.3,324.9 581.1,323.1 583,321.3 584.8,319.5 586.6,317.7 588.5,315.9 590.3,314.1 592.2,312.3 594.1,310.6 596,308.8 597.9,307 599.7,305.3 601.6,303.5 603.4,301.7 605.3,299.9 607.1,298.1 608.9,296.2 610.8,294.4 612.6,292.6 614.4,290.7 616.2,288.9 618,287 619.8,285.2 621.6,283.3 623.4,281.4 625.1,279.6 626.9,277.7 628.6,275.8 630.4,273.9 632.1,271.9 633.8,270 635.5,268 637.2,266.1 638.9,264.1 640.6,262.2 642.3,260.2 644,258.3 645.2,255.9 645.9,252.9 642.1,249.1 639.2,249.9 636.8,251.1 634.8,252.8 632.9,254.5 630.9,256.2 629,257.9 627,259.6 625.1,261.3 623.1,263 621.2,264.7 619.2,266.4 617.3,268.1 615.5,269.9 613.6,271.7 611.7,273.5 609.8,275.2 608,277 606.1,278.8 604.3,280.6 602.4,282.4 600.6,284.2 598.8,286.1 597,287.9 595.1,289.7 593.3,291.6 591.5,293.4 589.7,295.3 587.9,297.1 586.2,299 584.4,300.9 582.7,302.8 580.9,304.7 579.1,306.5 577.3,308.3 575.4,310.2 573.6,312 571.8,313.8 570,315.7 568.2,317.5 566.4,319.4 564.7,321.3 562.9,323.2 561.2,325.1 559.5,327.1 557.6,328.8 555.7,330.6 553.9,332.4 552,334.2 550.1,335.9 548.2,337.7 546.4,339.5 544.4,341.2 542.5,342.9 540.6,344.7 538.7,346.4 536.8,348.1 534.8,349.8 532.9,351.6 531,353.3" fill="#0072BD"/>
<path d="M542.4 340.5L542.2 329.8L542.9 336L543.4 333.5L543.2 341" fill="none" stroke="#0072BD" stroke-width="0.9"/>
</g>
<rect x="510.4" y="418.6" width="166.2" height="144.8" fill="none" stroke="#262626" stroke-width="1.0"/>
<path d="M591.4 563.4v-1.7M591.4 418.6v1.7M672.4 563.4v-1.7M672.4 418.6v1.7" stroke="#262626" stroke-width="1.0" fill="none"/>
<g clip-path="url(#cpf)"><polygon points="510.4,421 510.5,431 510.6,441 510.7,451 510.8,458.3 510.9,465.7 511,473 511.1,475 511.2,477 511.3,479 511.4,481 511.5,481.6 511.6,482.2 511.7,482.8 511.8,483.4 511.9,483.6 512,483.8 512.1,484 512.2,484.2 512.3,484.4 512.4,484.5 512.5,484.5 512.6,484.6 512.7,484.6 512.8,484.7 512.9,484.7 513,484.8 513.1,484.8 513.2,484.9 513.3,484.9 513.4,485 513.5,485 513.6,485.1 513.7,485.1 513.8,485.2 513.9,485.2 514,485.3 514.1,485.3 514.2,485.4 514.3,485.4 514.4,485.4 515.4,485.8 516.4,486.2 517.4,486.5 518.4,486.8 519.4,487.1 520.4,487.3 521.4,487.4 522.4,487.6 523.4,487.7 524.4,487.9 525.4,488 526.4,488.1 527.4,488.2 528.4,488.3 529.4,488.4 530.4,488.4 531.4,488.5 532.4,488.6 533.4,488.6 534.4,488.7 535.4,488.8 536.4,488.8 537.4,488.9 538.4,488.9 539.4,488.9 540.4,489 541.4,489 542.4,489.1 543.4,489.1 544.4,489.2 545.4,489.2 546.4,489.3 547.4,489.3 548.4,489.4 549.4,489.4 550.4,489.4 551.4,489.5 552.4,489.5 553.4,489.5 554.4,489.6 555.4,489.6 556.4,489.6 557.4,489.6 558.4,489.7 559.4,489.7 560.4,489.7 561.4,489.7 562.4,489.8 563.4,489.8 564.4,489.8 565.4,489.8 566.4,489.9 567.4,489.9 568.4,489.9 569.4,489.9 570.4,490 571.4,490 572.4,490 573.4,490 574.4,490.1 575.4,490.1 576.4,490.1 577.4,490.1 578.4,490.2 579.4,490.2 580.4,490.2 581.4,490.2 582.4,490.2 583.4,490.2 584.4,490.2 585.4,490.3 586.4,490.3 587.4,490.3 588.4,490.3 589.4,490.3 590.4,490.3 591.4,490.3 592.4,490.3 593.4,490.4 594.4,490.4 595.4,490.4 596.4,490.4 597.4,490.4 598.4,490.4 599.4,490.4 600.4,490.4 601.4,490.4 602.4,490.4 603.4,490.4 604.4,490.4 605.4,490.5 606.4,490.5 607.4,490.5 608.4,490.5 609.4,490.5 610.4,490.5 611.4,490.5 612.4,490.5 613.4,490.5 614.4,490.5 615.4,490.5 616.4,490.5 617.4,490.5 618.4,490.5 619.4,490.5 620.4,490.5 621.4,490.5 622.4,490.5 623.4,490.5 624.4,490.5 625.4,490.5 626.4,490.5 627.4,490.5 628.4,490.5 629.4,490.5 630.4,490.5 631.4,490.5 632.4,490.5 633.4,490.5 634.4,490.5 635.4,490.5 636.4,490.5 637.4,490.5 638.4,490.5 639.4,490.5 640.4,490.5 641.4,490.5 642.4,490.5 643.4,490.5 644.4,490.5 645.4,490.5 646.4,490.5 647.4,490.5 648.4,490.5 649.4,490.5 650.4,490.5 651.4,490.5 652.4,490.5 653.4,490.5 654.4,490.5 655.4,490.5 656.4,490.5 657.4,490.5 658.4,490.5 659.4,490.5 660.4,490.5 661.4,490.5 662.4,490.5 663.4,490.5 664.4,490.5 665.4,490.5 666.4,490.5 667.4,490.5 668.4,490.5 669.4,490.5 670.4,490.5 671.4,490.5 672.4,490.5 673.4,490.5 674.4,490.5 675.4,490.5 676.4,490.5 676.4,491.5 675.4,491.5 674.4,491.5 673.4,491.5 672.4,491.5 671.4,491.5 670.4,491.5 669.4,491.5 668.4,491.5 667.4,491.5 666.4,491.5 665.4,491.5 664.4,491.5 663.4,491.5 662.4,491.5 661.4,491.5 660.4,491.5 659.4,491.5 658.4,491.5 657.4,491.5 656.4,491.5 655.4,491.5 654.4,491.5 653.4,491.5 652.4,491.5 651.4,491.5 650.4,491.5 649.4,491.5 648.4,491.5 647.4,491.5 646.4,491.5 645.4,491.5 644.4,491.5 643.4,491.5 642.4,491.5 641.4,491.5 640.4,491.5 639.4,491.5 638.4,491.5 637.4,491.5 636.4,491.5 635.4,491.5 634.4,491.5 633.4,491.5 632.4,491.5 631.4,491.5 630.4,491.5 629.4,491.5 628.4,491.5 627.4,491.5 626.4,491.5 625.4,491.5 624.4,491.5 623.4,491.5 622.4,491.5 621.4,491.5 620.4,491.5 619.4,491.5 618.4,491.5 617.4,491.5 616.4,491.5 615.4,491.5 614.4,491.5 613.4,491.5 612.4,491.5 611.4,491.5 610.4,491.5 609.4,491.5 608.4,491.5 607.4,491.5 606.4,491.5 605.4,491.5 604.4,491.6 603.4,491.6 602.4,491.6 601.4,491.6 600.4,491.6 599.4,491.6 598.4,491.6 597.4,491.6 596.4,491.6 595.4,491.6 594.4,491.6 593.4,491.6 592.4,491.7 591.4,491.7 590.4,491.7 589.4,491.7 588.4,491.7 587.4,491.7 586.4,491.7 585.4,491.7 584.4,491.8 583.4,491.8 582.4,491.8 581.4,491.8 580.4,491.8 579.4,491.8 578.4,491.8 577.4,491.9 576.4,491.9 575.4,491.9 574.4,491.9 573.4,492 572.4,492 571.4,492 570.4,492 569.4,492.1 568.4,492.1 567.4,492.1 566.4,492.1 565.4,492.2 564.4,492.2 563.4,492.2 562.4,492.2 561.4,492.3 560.4,492.3 559.4,492.3 558.4,492.3 557.4,492.4 556.4,492.4 555.4,492.4 554.4,492.4 553.4,492.5 552.4,492.5 551.4,492.5 550.4,492.6 549.4,492.6 548.4,492.6 547.4,492.7 546.4,492.7 545.4,492.8 544.4,492.8 543.4,492.9 542.4,492.9 541.4,493 540.4,493 539.4,493.1 538.4,493.1 537.4,493.1 536.4,493.2 535.4,493.2 534.4,493.3 533.4,493.4 532.4,493.4 531.4,493.5 530.4,493.6 529.4,493.6 528.4,493.7 527.4,493.8 526.4,493.9 525.4,494 524.4,494.1 523.4,494.3 522.4,494.4 521.4,494.6 520.4,494.7 519.4,494.9 518.4,495.2 517.4,495.5 516.4,495.8 515.4,496.2 514.4,496.6 514.3,496.6 514.2,496.6 514.1,496.7 514,496.7 513.9,496.8 513.8,496.8 513.7,496.9 513.6,496.9 513.5,497 513.4,497 513.3,497.1 513.2,497.1 513.1,497.2 513,497.2 512.9,497.3 512.8,497.3 512.7,497.4 512.6,497.4 512.5,497.5 512.4,497.5 512.3,497.6 512.2,497.8 512.1,498 512,498.2 511.9,498.4 511.8,498.6 511.7,499.2 511.6,499.8 511.5,500.4 511.4,501 511.3,503 511.2,505 511.1,507 511,509 510.9,516.3 510.8,523.7 510.7,531 510.6,541 510.5,551 510.4,561" fill="#000"/><path d="M510.4 491H676.6" stroke="#000" stroke-width="1.25"/></g>
<g opacity="0.999">
<text x="8" y="21" font-family="'Liberation Sans', sans-serif" font-size="22" text-anchor="start" font-weight="bold" font-style="normal" fill="#000">(a)</text>
<text x="221" y="18.3" font-family="'Liberation Sans', sans-serif" font-size="22" text-anchor="start" font-weight="bold" font-style="normal" fill="#000">(b)</text>
<text x="4.8" y="211.7" font-family="'Liberation Sans', sans-serif" font-size="22" text-anchor="start" font-weight="bold" font-style="normal" fill="#000">(c)</text>
<text x="472.3" y="216.6" font-family="'Liberation Sans', sans-serif" font-size="22" text-anchor="start" font-weight="bold" font-style="normal" fill="#000">(d)</text>
<text x="3" y="400" font-family="'Liberation Sans', sans-serif" font-size="22" text-anchor="start" font-weight="bold" font-style="normal" fill="#000">(e)</text>
<text x="483" y="410.8" font-family="'Liberation Sans', sans-serif" font-size="22" text-anchor="start" font-weight="bold" font-style="normal" fill="#000">(f)</text>
<text x="60.3" y="53.4" font-family="'Liberation Sans', sans-serif" font-size="20" text-anchor="end" font-weight="normal" font-style="normal" fill="#1a1a1a" stroke="#1a1a1a" stroke-width="0.35">-40</text>
<text x="60.3" y="103.9" font-family="'Liberation Sans', sans-serif" font-size="20" text-anchor="end" font-weight="normal" font-style="normal" fill="#1a1a1a" stroke="#1a1a1a" stroke-width="0.35">-80</text>
<text x="60.3" y="154.4" font-family="'Liberation Sans', sans-serif" font-size="20" text-anchor="end" font-weight="normal" font-style="normal" fill="#1a1a1a" stroke="#1a1a1a" stroke-width="0.35">-120</text>
<text x="68.5" y="173.7" font-family="'Liberation Sans', sans-serif" font-size="20" text-anchor="middle" font-weight="normal" font-style="normal" fill="#1a1a1a" stroke="#1a1a1a" stroke-width="0.35">0</text>
<text x="118.1" y="173.7" font-family="'Liberation Sans', sans-serif" font-size="20" text-anchor="middle" font-weight="normal" font-style="normal" fill="#1a1a1a" stroke="#1a1a1a" stroke-width="0.35">25</text>
<text x="167.7" y="173.7" font-family="'Liberation Sans', sans-serif" font-size="20" text-anchor="middle" font-weight="normal" font-style="normal" fill="#1a1a1a" stroke="#1a1a1a" stroke-width="0.35">50</text>
<text x="139" y="196.2" font-family="'Liberation Sans', sans-serif" font-size="22" text-anchor="middle" font-weight="normal" font-style="normal" fill="#1a1a1a" stroke="#1a1a1a" stroke-width="0.35">f (Hz)</text>
<g transform="translate(17.4,142.3) rotate(-90)" font-family="'Liberation Serif', serif" fill="#1a1a1a" stroke="#1a1a1a" stroke-width="0.3"><text x="1.2" y="0" font-size="25" font-style="italic">S</text><path d="M29.5 -17.6Q18.8 -6 29.5 5.6" fill="none" stroke-width="1.35"/><text x="29.0" y="0" font-size="23">d</text><text x="41.2" y="0" font-size="23" textLength="16.8" lengthAdjust="spacingAndGlyphs">B</text><path d="M59.9 5.4L68.4 -17.5" fill="none" stroke-width="1.3"/><text x="69.0" y="0" font-size="23" textLength="25.4" lengthAdjust="spacingAndGlyphs">Hz</text><path d="M96.2 -17.6Q108.6 -6 96.2 5.6" fill="none" stroke-width="1.35"/></g>
<text x="278.7" y="41.1" font-family="'Liberation Sans', sans-serif" font-size="20" text-anchor="end" font-weight="normal" font-style="normal" fill="#1a1a1a" stroke="#1a1a1a" stroke-width="0.35">0.02</text>
<text x="278.7" y="97.1" font-family="'Liberation Sans', sans-serif" font-size="20" text-anchor="end" font-weight="normal" font-style="normal" fill="#1a1a1a" stroke="#1a1a1a" stroke-width="0.35">0</text>
<text x="278.7" y="153.1" font-family="'Liberation Sans', sans-serif" font-size="20" text-anchor="end" font-weight="normal" font-style="normal" fill="#1a1a1a" stroke="#1a1a1a" stroke-width="0.35">-0.02</text>
<text x="285.9" y="172" font-family="'Liberation Sans', sans-serif" font-size="20" text-anchor="middle" font-weight="normal" font-style="normal" fill="#1a1a1a" stroke="#1a1a1a" stroke-width="0.35">0</text>
<text x="397.9" y="172" font-family="'Liberation Sans', sans-serif" font-size="20" text-anchor="middle" font-weight="normal" font-style="normal" fill="#1a1a1a" stroke="#1a1a1a" stroke-width="0.35">20</text>
<text x="509.9" y="172" font-family="'Liberation Sans', sans-serif" font-size="20" text-anchor="middle" font-weight="normal" font-style="normal" fill="#1a1a1a" stroke="#1a1a1a" stroke-width="0.35">40</text>
<text x="621.9" y="172" font-family="'Liberation Sans', sans-serif" font-size="20" text-anchor="middle" font-weight="normal" font-style="normal" fill="#1a1a1a" stroke="#1a1a1a" stroke-width="0.35">60</text>
<text x="484.6" y="193.4" font-family="'Liberation Sans', sans-serif" font-size="22" text-anchor="middle" font-weight="normal" font-style="normal" fill="#1a1a1a" stroke="#1a1a1a" stroke-width="0.35">time (s)</text>
<g transform="translate(231.6,95.4) rotate(-90)"><text x="0" y="0" font-family="'Liberation Serif', serif" font-size="30" font-style="italic" fill="#1a1a1a" stroke="#1a1a1a" stroke-width="0.3">s</text></g>
<text x="65.6" y="262.9" font-family="'Liberation Sans', sans-serif" font-size="20" text-anchor="end" font-weight="normal" font-style="normal" fill="#1a1a1a" stroke="#1a1a1a" stroke-width="0.35">0.01</text>
<text x="65.6" y="303.7" font-family="'Liberation Sans', sans-serif" font-size="20" text-anchor="end" font-weight="normal" font-style="normal" fill="#1a1a1a" stroke="#1a1a1a" stroke-width="0.35">0</text>
<text x="65.6" y="344.5" font-family="'Liberation Sans', sans-serif" font-size="20" text-anchor="end" font-weight="normal" font-style="normal" fill="#1a1a1a" stroke="#1a1a1a" stroke-width="0.35">-0.01</text>
<g transform="translate(14.5,349.7) rotate(-90)" font-family="'Liberation Serif', serif" font-style="italic" fill="#1a1a1a" stroke="#1a1a1a" stroke-width="0.3"><text x="0" y="0" font-size="31">s<tspan font-style="normal">,</tspan></text><text x="30" y="0" font-size="31">a</text><text x="44" y="4.3" font-size="23">H</text><text x="62" y="0" font-size="31" font-style="normal">,</text><text x="77" y="0" font-size="31">a</text><text x="92.5" y="4.3" font-size="23">N</text></g>
<text x="529.4" y="243.2" font-family="'Liberation Sans', sans-serif" font-size="20" text-anchor="end" font-weight="normal" font-style="normal" fill="#1a1a1a" stroke="#1a1a1a" stroke-width="0.35">0.02</text>
<text x="529.4" y="365.6" font-family="'Liberation Sans', sans-serif" font-size="20" text-anchor="end" font-weight="normal" font-style="normal" fill="#1a1a1a" stroke="#1a1a1a" stroke-width="0.35">0</text>
<text x="536.3" y="385.2" font-family="'Liberation Sans', sans-serif" font-size="20" text-anchor="middle" font-weight="normal" font-style="normal" fill="#1a1a1a" stroke="#1a1a1a" stroke-width="0.35">0</text>
<text x="660.4" y="385.2" font-family="'Liberation Sans', sans-serif" font-size="20" text-anchor="middle" font-weight="normal" font-style="normal" fill="#1a1a1a" stroke="#1a1a1a" stroke-width="0.35">0.02</text>
<g font-family="'Liberation Serif', serif" font-style="italic" fill="#1a1a1a" stroke="#1a1a1a" stroke-width="0.3"><text x="580.5" y="396" font-size="31">a</text><text x="596" y="401" font-size="23">H</text><g transform="translate(516.4,315) rotate(-90)"><text x="0" y="0" font-size="31">a</text><text x="15.2" y="4.6" font-size="23">N</text></g></g>
<text x="73.2" y="589.8" font-family="'Liberation Sans', sans-serif" font-size="20" text-anchor="middle" font-weight="normal" font-style="normal" fill="#1a1a1a" stroke="#1a1a1a" stroke-width="0.35">10</text>
<text x="152.4" y="589.8" font-family="'Liberation Sans', sans-serif" font-size="20" text-anchor="middle" font-weight="normal" font-style="normal" fill="#1a1a1a" stroke="#1a1a1a" stroke-width="0.35">12</text>
<text x="231.5" y="589.8" font-family="'Liberation Sans', sans-serif" font-size="20" text-anchor="middle" font-weight="normal" font-style="normal" fill="#1a1a1a" stroke="#1a1a1a" stroke-width="0.35">14</text>
<text x="310.7" y="589.8" font-family="'Liberation Sans', sans-serif" font-size="20" text-anchor="middle" font-weight="normal" font-style="normal" fill="#1a1a1a" stroke="#1a1a1a" stroke-width="0.35">16</text>
<text x="389.8" y="589.8" font-family="'Liberation Sans', sans-serif" font-size="20" text-anchor="middle" font-weight="normal" font-style="normal" fill="#1a1a1a" stroke="#1a1a1a" stroke-width="0.35">18</text>
<text x="469" y="589.8" font-family="'Liberation Sans', sans-serif" font-size="20" text-anchor="middle" font-weight="normal" font-style="normal" fill="#1a1a1a" stroke="#1a1a1a" stroke-width="0.35">20</text>
<text x="272" y="616.6" font-family="'Liberation Sans', sans-serif" font-size="22" text-anchor="middle" font-weight="normal" font-style="normal" fill="#1a1a1a" stroke="#1a1a1a" stroke-width="0.35">time (s)</text>
<text x="66" y="498.9" font-family="'Liberation Sans', sans-serif" font-size="20" text-anchor="end" font-weight="normal" font-style="normal" fill="#1a1a1a" stroke="#1a1a1a" stroke-width="0.35">0</text>
<g font-family="'Liberation Serif', serif" font-style="italic" fill="#1a1a1a" stroke="#1a1a1a" stroke-width="0.3"><text x="56.0" y="428.0" font-size="19">π</text><text x="56.0" y="570.8" font-size="19">π</text></g>
<text x="47" y="570.6" font-family="'Liberation Sans', sans-serif" font-size="20" text-anchor="start" font-weight="normal" font-style="normal" fill="#1a1a1a" stroke="#1a1a1a" stroke-width="0.35">-</text>
<g transform="translate(20.0,575.0) rotate(-90)" font-family="'Liberation Serif', serif" font-style="italic" fill="#1a1a1a" stroke="#1a1a1a" stroke-width="0.3"><text x="0" y="0" font-size="34">φ</text><text x="17.5" y="5.2" font-size="23">H</text><text x="49" y="-1.5" font-size="30" font-style="normal">−</text><text x="73.5" y="0" font-size="34">φ</text><text x="91" y="5.2" font-size="23">N</text><text x="113.5" y="0" font-size="30" font-style="normal">,</text><text x="127" y="0" font-size="31">a</text><text x="130.5" y="-3.5" font-size="24" font-style="normal">˜</text><text x="144.8" y="5.2" font-size="24">N</text></g>
<text x="510.4" y="590.6" font-family="'Liberation Sans', sans-serif" font-size="20" text-anchor="middle" font-weight="normal" font-style="normal" fill="#1a1a1a" stroke="#1a1a1a" stroke-width="0.35">0</text>
<text x="591.4" y="590.6" font-family="'Liberation Sans', sans-serif" font-size="20" text-anchor="middle" font-weight="normal" font-style="normal" fill="#1a1a1a" stroke="#1a1a1a" stroke-width="0.35">0.05</text>
<text x="672.4" y="590.6" font-family="'Liberation Sans', sans-serif" font-size="20" text-anchor="middle" font-weight="normal" font-style="normal" fill="#1a1a1a" stroke="#1a1a1a" stroke-width="0.35">0.1</text>
</g>
</svg>
</body></html>
